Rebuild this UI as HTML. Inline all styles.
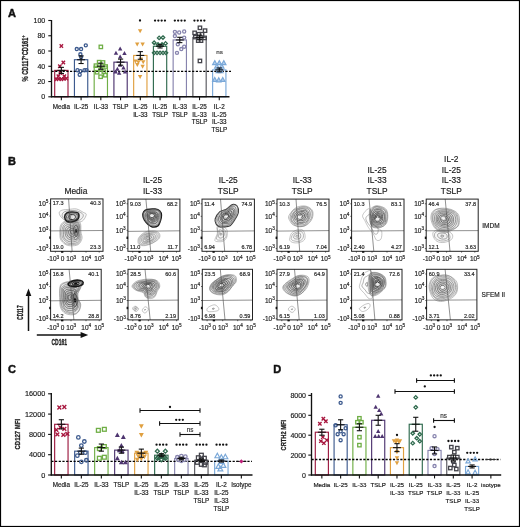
<!DOCTYPE html>
<html><head><meta charset="utf-8"><style>
html,body{margin:0;padding:0;background:#fff;}
svg{display:block;font-family:"Liberation Sans", sans-serif;will-change:transform;}
</style></head><body>
<svg width="520" height="527" viewBox="0 0 520 527">
<rect x="0" y="0" width="520" height="527" fill="#fff"/>
<text x="8.00" y="17.20" font-size="11" text-anchor="start" font-weight="bold" fill="#111" stroke="#111" stroke-width="0.45">A</text>
<text x="8.00" y="165.20" font-size="11" text-anchor="start" font-weight="bold" fill="#111" stroke="#111" stroke-width="0.45">B</text>
<text x="8.00" y="372.80" font-size="11" text-anchor="start" font-weight="bold" fill="#111" stroke="#111" stroke-width="0.45">C</text>
<text x="273.30" y="372.80" font-size="11" text-anchor="start" font-weight="bold" fill="#111" stroke="#111" stroke-width="0.45">D</text>
<rect x="54.70" y="70.40" width="13.30" height="26.40" fill="#fff" stroke="#9c1a40" stroke-width="1.15"/>
<rect x="74.44" y="59.72" width="13.30" height="37.08" fill="#fff" stroke="#3d5a8e" stroke-width="1.15"/>
<rect x="94.18" y="66.20" width="13.30" height="30.60" fill="#fff" stroke="#6fae45" stroke-width="1.15"/>
<rect x="113.92" y="62.16" width="13.30" height="34.64" fill="#fff" stroke="#4e3570" stroke-width="1.15"/>
<rect x="133.66" y="55.45" width="13.30" height="41.35" fill="#fff" stroke="#e0a040" stroke-width="1.15"/>
<rect x="153.40" y="46.29" width="13.30" height="50.51" fill="#fff" stroke="#2f6a4e" stroke-width="1.15"/>
<rect x="173.14" y="39.96" width="13.30" height="56.84" fill="#fff" stroke="#8784ae" stroke-width="1.15"/>
<rect x="192.88" y="37.44" width="13.30" height="59.36" fill="#fff" stroke="#58585e" stroke-width="1.15"/>
<rect x="212.62" y="69.87" width="13.30" height="26.93" fill="#fff" stroke="#7aa8d8" stroke-width="1.15"/>
<line x1="51.50" y1="71.32" x2="231.00" y2="71.32" stroke="#000" stroke-width="1.35" stroke-dasharray="2.2 1.5"/>
<path d="M59.65 44.28L63.05 47.68M63.05 44.28L59.65 47.68" stroke="#a8173f" stroke-width="1.3499999999999999" fill="none"/>
<path d="M61.65 60.76L65.05 64.16M65.05 60.76L61.65 64.16" stroke="#a8173f" stroke-width="1.3499999999999999" fill="none"/>
<path d="M58.15 64.58L61.55 67.98M61.55 64.58L58.15 67.98" stroke="#a8173f" stroke-width="1.3499999999999999" fill="none"/>
<path d="M54.65 77.55L58.05 80.95M58.05 77.55L54.65 80.95" stroke="#a8173f" stroke-width="1.3499999999999999" fill="none"/>
<path d="M57.15 77.17L60.55 80.57M60.55 77.17L57.15 80.57" stroke="#a8173f" stroke-width="1.3499999999999999" fill="none"/>
<path d="M59.65 77.55L63.05 80.95M63.05 77.55L59.65 80.95" stroke="#a8173f" stroke-width="1.3499999999999999" fill="none"/>
<path d="M62.15 77.17L65.55 80.57M65.55 77.17L62.15 80.57" stroke="#a8173f" stroke-width="1.3499999999999999" fill="none"/>
<path d="M64.65 76.79L68.05 80.19M68.05 76.79L64.65 80.19" stroke="#a8173f" stroke-width="1.3499999999999999" fill="none"/>
<path d="M56.65 74.50L60.05 77.90M60.05 74.50L56.65 77.90" stroke="#a8173f" stroke-width="1.3499999999999999" fill="none"/>
<path d="M62.65 74.50L66.05 77.90M66.05 74.50L62.65 77.90" stroke="#a8173f" stroke-width="1.3499999999999999" fill="none"/>
<path d="M58.65 71.45L62.05 74.85M62.05 71.45L58.65 74.85" stroke="#a8173f" stroke-width="1.3499999999999999" fill="none"/>
<circle cx="76.79" cy="49.04" r="1.56" stroke="#3d5a8e" stroke-width="1.2999999999999998" fill="none"/>
<circle cx="81.09" cy="49.04" r="1.56" stroke="#3d5a8e" stroke-width="1.2999999999999998" fill="none"/>
<circle cx="85.79" cy="45.37" r="1.56" stroke="#3d5a8e" stroke-width="1.2999999999999998" fill="none"/>
<circle cx="80.39" cy="54.30" r="1.56" stroke="#3d5a8e" stroke-width="1.2999999999999998" fill="none"/>
<circle cx="81.09" cy="57.12" r="1.56" stroke="#3d5a8e" stroke-width="1.2999999999999998" fill="none"/>
<circle cx="77.49" cy="70.17" r="1.56" stroke="#3d5a8e" stroke-width="1.2999999999999998" fill="none"/>
<circle cx="80.49" cy="71.16" r="1.56" stroke="#3d5a8e" stroke-width="1.2999999999999998" fill="none"/>
<circle cx="84.49" cy="70.17" r="1.56" stroke="#3d5a8e" stroke-width="1.2999999999999998" fill="none"/>
<circle cx="86.49" cy="70.09" r="1.56" stroke="#3d5a8e" stroke-width="1.2999999999999998" fill="none"/>
<circle cx="79.69" cy="74.67" r="1.56" stroke="#3d5a8e" stroke-width="1.2999999999999998" fill="none"/>
<rect x="99.13" y="45.20" width="3.40" height="3.40" stroke="#6fae45" stroke-width="1.2999999999999998" fill="none"/>
<rect x="97.43" y="60.46" width="3.40" height="3.40" stroke="#6fae45" stroke-width="1.2999999999999998" fill="none"/>
<rect x="101.33" y="60.76" width="3.40" height="3.40" stroke="#6fae45" stroke-width="1.2999999999999998" fill="none"/>
<rect x="94.23" y="63.97" width="3.40" height="3.40" stroke="#6fae45" stroke-width="1.2999999999999998" fill="none"/>
<rect x="103.93" y="64.81" width="3.40" height="3.40" stroke="#6fae45" stroke-width="1.2999999999999998" fill="none"/>
<rect x="95.43" y="70.53" width="3.40" height="3.40" stroke="#6fae45" stroke-width="1.2999999999999998" fill="none"/>
<rect x="103.63" y="73.51" width="3.40" height="3.40" stroke="#6fae45" stroke-width="1.2999999999999998" fill="none"/>
<rect x="98.93" y="75.03" width="3.40" height="3.40" stroke="#6fae45" stroke-width="1.2999999999999998" fill="none"/>
<rect x="99.13" y="67.63" width="3.40" height="3.40" stroke="#6fae45" stroke-width="1.2999999999999998" fill="none"/>
<rect x="102.13" y="69.92" width="3.40" height="3.40" stroke="#6fae45" stroke-width="1.2999999999999998" fill="none"/>
<path d="M120.17 46.61L122.37 50.61L117.97 50.61Z" fill="#4e3570"/>
<path d="M115.97 50.65L118.17 54.65L113.77 54.65Z" fill="#4e3570"/>
<path d="M124.47 51.03L126.67 55.03L122.27 55.03Z" fill="#4e3570"/>
<path d="M120.17 54.47L122.37 58.47L117.97 58.47Z" fill="#4e3570"/>
<path d="M117.37 66.83L119.57 70.83L115.17 70.83Z" fill="#4e3570"/>
<path d="M123.47 65.61L125.67 69.61L121.27 69.61Z" fill="#4e3570"/>
<path d="M119.17 70.64L121.37 74.64L116.97 74.64Z" fill="#4e3570"/>
<path d="M120.17 62.78L122.37 66.78L117.97 66.78Z" fill="#4e3570"/>
<path d="M125.07 69.42L127.27 73.42L122.87 73.42Z" fill="#4e3570"/>
<path d="M115.57 69.42L117.77 73.42L113.37 73.42Z" fill="#4e3570"/>
<path d="M140.11 33.15L142.31 29.15L137.91 29.15Z" fill="#e0a040"/>
<path d="M137.21 46.51L139.41 42.51L135.01 42.51Z" fill="#e0a040"/>
<path d="M142.61 46.51L144.81 42.51L140.41 42.51Z" fill="#e0a040"/>
<path d="M135.51 63.60L137.71 59.60L133.31 59.60Z" fill="#e0a040"/>
<path d="M138.41 64.28L140.61 60.28L136.21 60.28Z" fill="#e0a040"/>
<path d="M143.21 64.28L145.41 60.28L141.01 60.28Z" fill="#e0a040"/>
<path d="M142.61 68.86L144.81 64.86L140.41 64.86Z" fill="#e0a040"/>
<path d="M140.11 78.93L142.31 74.93L137.91 74.93Z" fill="#e0a040"/>
<path d="M137.31 66.95L139.51 62.95L135.11 62.95Z" fill="#e0a040"/>
<path d="M140.81 61.61L143.01 57.61L138.61 57.61Z" fill="#e0a040"/>
<path d="M159.15 36.14L160.91 37.90L159.15 39.66L157.39 37.90Z" stroke="#2f6a4e" stroke-width="1.2999999999999998" fill="none"/>
<path d="M162.95 35.83L164.71 37.59L162.95 39.35L161.19 37.59Z" stroke="#2f6a4e" stroke-width="1.2999999999999998" fill="none"/>
<path d="M154.15 41.02L155.91 42.78L154.15 44.54L152.39 42.78Z" stroke="#2f6a4e" stroke-width="1.2999999999999998" fill="none"/>
<path d="M165.55 41.63L167.31 43.39L165.55 45.15L163.79 43.39Z" stroke="#2f6a4e" stroke-width="1.2999999999999998" fill="none"/>
<path d="M158.05 42.77L159.81 44.53L158.05 46.29L156.29 44.53Z" stroke="#2f6a4e" stroke-width="1.2999999999999998" fill="none"/>
<path d="M162.05 42.77L163.81 44.53L162.05 46.29L160.29 44.53Z" stroke="#2f6a4e" stroke-width="1.2999999999999998" fill="none"/>
<path d="M154.15 51.09L155.91 52.85L154.15 54.61L152.39 52.85Z" stroke="#2f6a4e" stroke-width="1.2999999999999998" fill="none"/>
<path d="M157.05 51.09L158.81 52.85L157.05 54.61L155.29 52.85Z" stroke="#2f6a4e" stroke-width="1.2999999999999998" fill="none"/>
<path d="M160.05 51.09L161.81 52.85L160.05 54.61L158.29 52.85Z" stroke="#2f6a4e" stroke-width="1.2999999999999998" fill="none"/>
<path d="M163.05 51.09L164.81 52.85L163.05 54.61L161.29 52.85Z" stroke="#2f6a4e" stroke-width="1.2999999999999998" fill="none"/>
<path d="M165.95 51.09L167.71 52.85L165.95 54.61L164.19 52.85Z" stroke="#2f6a4e" stroke-width="1.2999999999999998" fill="none"/>
<circle cx="174.89" cy="31.87" r="1.56" stroke="#8784ae" stroke-width="1.2999999999999998" fill="none"/>
<circle cx="179.19" cy="32.48" r="1.56" stroke="#8784ae" stroke-width="1.2999999999999998" fill="none"/>
<circle cx="184.19" cy="31.49" r="1.56" stroke="#8784ae" stroke-width="1.2999999999999998" fill="none"/>
<circle cx="174.89" cy="36.07" r="1.56" stroke="#8784ae" stroke-width="1.2999999999999998" fill="none"/>
<circle cx="184.19" cy="37.59" r="1.56" stroke="#8784ae" stroke-width="1.2999999999999998" fill="none"/>
<circle cx="177.79" cy="44.31" r="1.56" stroke="#8784ae" stroke-width="1.2999999999999998" fill="none"/>
<circle cx="181.29" cy="49.04" r="1.56" stroke="#8784ae" stroke-width="1.2999999999999998" fill="none"/>
<circle cx="184.19" cy="46.67" r="1.56" stroke="#8784ae" stroke-width="1.2999999999999998" fill="none"/>
<circle cx="176.99" cy="52.85" r="1.56" stroke="#8784ae" stroke-width="1.2999999999999998" fill="none"/>
<rect x="198.23" y="26.12" width="3.40" height="3.40" stroke="#44444b" stroke-width="1.2999999999999998" fill="none"/>
<rect x="203.33" y="28.95" width="3.40" height="3.40" stroke="#44444b" stroke-width="1.2999999999999998" fill="none"/>
<rect x="192.93" y="31.16" width="3.40" height="3.40" stroke="#44444b" stroke-width="1.2999999999999998" fill="none"/>
<rect x="197.23" y="32.53" width="3.40" height="3.40" stroke="#44444b" stroke-width="1.2999999999999998" fill="none"/>
<rect x="200.33" y="32.53" width="3.40" height="3.40" stroke="#44444b" stroke-width="1.2999999999999998" fill="none"/>
<rect x="193.63" y="35.36" width="3.40" height="3.40" stroke="#44444b" stroke-width="1.2999999999999998" fill="none"/>
<rect x="202.93" y="36.20" width="3.40" height="3.40" stroke="#44444b" stroke-width="1.2999999999999998" fill="none"/>
<rect x="196.53" y="38.94" width="3.40" height="3.40" stroke="#44444b" stroke-width="1.2999999999999998" fill="none"/>
<rect x="199.33" y="38.94" width="3.40" height="3.40" stroke="#44444b" stroke-width="1.2999999999999998" fill="none"/>
<rect x="198.23" y="59.24" width="3.40" height="3.40" stroke="#44444b" stroke-width="1.2999999999999998" fill="none"/>
<path d="M214.77 60.65L216.97 64.65L212.57 64.65Z" stroke="#7aa8d8" stroke-width="1.15" fill="#b9d2ee"/>
<path d="M219.27 60.65L221.47 64.65L217.07 64.65Z" stroke="#7aa8d8" stroke-width="1.15" fill="#b9d2ee"/>
<path d="M223.77 60.65L225.97 64.65L221.57 64.65Z" stroke="#7aa8d8" stroke-width="1.15" fill="#b9d2ee"/>
<path d="M216.77 64.08L218.97 68.08L214.57 68.08Z" stroke="#7aa8d8" stroke-width="1.15" fill="#b9d2ee"/>
<path d="M221.77 64.08L223.97 68.08L219.57 68.08Z" stroke="#7aa8d8" stroke-width="1.15" fill="#b9d2ee"/>
<path d="M214.77 77.43L216.97 81.43L212.57 81.43Z" stroke="#7aa8d8" stroke-width="1.15" fill="#b9d2ee"/>
<path d="M218.77 77.81L220.97 81.81L216.57 81.81Z" stroke="#7aa8d8" stroke-width="1.15" fill="#b9d2ee"/>
<path d="M222.77 77.43L224.97 81.43L220.57 81.43Z" stroke="#7aa8d8" stroke-width="1.15" fill="#b9d2ee"/>
<path d="M218.27 68.66L220.47 72.66L216.07 72.66Z" stroke="#7aa8d8" stroke-width="1.15" fill="#b9d2ee"/>
<path d="M220.77 68.66L222.97 72.66L218.57 72.66Z" stroke="#7aa8d8" stroke-width="1.15" fill="#b9d2ee"/>
<line x1="61.35" y1="67.35" x2="61.35" y2="73.45" stroke="#111" stroke-width="1.1" />
<line x1="58.75" y1="67.35" x2="63.95" y2="67.35" stroke="#111" stroke-width="1.1" />
<line x1="58.75" y1="73.45" x2="63.95" y2="73.45" stroke="#111" stroke-width="1.1" />
<line x1="57.35" y1="70.40" x2="65.35" y2="70.40" stroke="#111" stroke-width="1.1" />
<line x1="81.09" y1="55.90" x2="81.09" y2="63.53" stroke="#111" stroke-width="1.1" />
<line x1="78.49" y1="55.90" x2="83.69" y2="55.90" stroke="#111" stroke-width="1.1" />
<line x1="78.49" y1="63.53" x2="83.69" y2="63.53" stroke="#111" stroke-width="1.1" />
<line x1="77.09" y1="59.72" x2="85.09" y2="59.72" stroke="#111" stroke-width="1.1" />
<line x1="100.83" y1="63.15" x2="100.83" y2="69.26" stroke="#111" stroke-width="1.1" />
<line x1="98.23" y1="63.15" x2="103.43" y2="63.15" stroke="#111" stroke-width="1.1" />
<line x1="98.23" y1="69.26" x2="103.43" y2="69.26" stroke="#111" stroke-width="1.1" />
<line x1="96.83" y1="66.20" x2="104.83" y2="66.20" stroke="#111" stroke-width="1.1" />
<line x1="120.57" y1="59.11" x2="120.57" y2="65.21" stroke="#111" stroke-width="1.1" />
<line x1="117.97" y1="59.11" x2="123.17" y2="59.11" stroke="#111" stroke-width="1.1" />
<line x1="117.97" y1="65.21" x2="123.17" y2="65.21" stroke="#111" stroke-width="1.1" />
<line x1="116.57" y1="62.16" x2="124.57" y2="62.16" stroke="#111" stroke-width="1.1" />
<line x1="140.31" y1="51.63" x2="140.31" y2="59.26" stroke="#111" stroke-width="1.1" />
<line x1="137.71" y1="51.63" x2="142.91" y2="51.63" stroke="#111" stroke-width="1.1" />
<line x1="137.71" y1="59.26" x2="142.91" y2="59.26" stroke="#111" stroke-width="1.1" />
<line x1="136.31" y1="55.45" x2="144.31" y2="55.45" stroke="#111" stroke-width="1.1" />
<line x1="160.05" y1="44.61" x2="160.05" y2="47.97" stroke="#111" stroke-width="1.1" />
<line x1="157.45" y1="44.61" x2="162.65" y2="44.61" stroke="#111" stroke-width="1.1" />
<line x1="157.45" y1="47.97" x2="162.65" y2="47.97" stroke="#111" stroke-width="1.1" />
<line x1="156.05" y1="46.29" x2="164.05" y2="46.29" stroke="#111" stroke-width="1.1" />
<line x1="179.79" y1="37.29" x2="179.79" y2="42.63" stroke="#111" stroke-width="1.1" />
<line x1="177.19" y1="37.29" x2="182.39" y2="37.29" stroke="#111" stroke-width="1.1" />
<line x1="177.19" y1="42.63" x2="182.39" y2="42.63" stroke="#111" stroke-width="1.1" />
<line x1="175.79" y1="39.96" x2="183.79" y2="39.96" stroke="#111" stroke-width="1.1" />
<line x1="199.53" y1="35.15" x2="199.53" y2="39.73" stroke="#111" stroke-width="1.1" />
<line x1="196.93" y1="35.15" x2="202.13" y2="35.15" stroke="#111" stroke-width="1.1" />
<line x1="196.93" y1="39.73" x2="202.13" y2="39.73" stroke="#111" stroke-width="1.1" />
<line x1="195.53" y1="37.44" x2="203.53" y2="37.44" stroke="#111" stroke-width="1.1" />
<line x1="219.27" y1="67.96" x2="219.27" y2="71.77" stroke="#111" stroke-width="1.1" />
<line x1="216.67" y1="67.96" x2="221.87" y2="67.96" stroke="#111" stroke-width="1.1" />
<line x1="216.67" y1="71.77" x2="221.87" y2="71.77" stroke="#111" stroke-width="1.1" />
<line x1="215.27" y1="69.87" x2="223.27" y2="69.87" stroke="#111" stroke-width="1.1" />
<line x1="51.50" y1="20.00" x2="51.50" y2="97.30" stroke="#111" stroke-width="1.35" />
<line x1="50.90" y1="96.80" x2="229.50" y2="96.80" stroke="#111" stroke-width="1.45" />
<line x1="48.30" y1="96.80" x2="51.50" y2="96.80" stroke="#111" stroke-width="1.1" />
<text x="45.20" y="99.30" font-size="7.0" text-anchor="end" font-weight="normal" fill="#1a1a1a"  stroke="#1a1a1a" stroke-width="0.16">0</text>
<line x1="48.30" y1="81.54" x2="51.50" y2="81.54" stroke="#111" stroke-width="1.1" />
<text x="45.20" y="84.04" font-size="7.0" text-anchor="end" font-weight="normal" fill="#1a1a1a"  stroke="#1a1a1a" stroke-width="0.16">20</text>
<line x1="48.30" y1="66.28" x2="51.50" y2="66.28" stroke="#111" stroke-width="1.1" />
<text x="45.20" y="68.78" font-size="7.0" text-anchor="end" font-weight="normal" fill="#1a1a1a"  stroke="#1a1a1a" stroke-width="0.16">40</text>
<line x1="48.30" y1="51.02" x2="51.50" y2="51.02" stroke="#111" stroke-width="1.1" />
<text x="45.20" y="53.52" font-size="7.0" text-anchor="end" font-weight="normal" fill="#1a1a1a"  stroke="#1a1a1a" stroke-width="0.16">60</text>
<line x1="48.30" y1="35.76" x2="51.50" y2="35.76" stroke="#111" stroke-width="1.1" />
<text x="45.20" y="38.26" font-size="7.0" text-anchor="end" font-weight="normal" fill="#1a1a1a"  stroke="#1a1a1a" stroke-width="0.16">80</text>
<line x1="48.30" y1="20.50" x2="51.50" y2="20.50" stroke="#111" stroke-width="1.1" />
<text x="45.20" y="23.00" font-size="7.0" text-anchor="end" font-weight="normal" fill="#1a1a1a"  stroke="#1a1a1a" stroke-width="0.16">100</text>
<line x1="61.35" y1="96.80" x2="61.35" y2="100.20" stroke="#111" stroke-width="1.1" />
<text x="61.35" y="108.90" font-size="6.3" text-anchor="middle" font-weight="normal" fill="#161616"  stroke="#161616" stroke-width="0.16">Media</text>
<line x1="81.09" y1="96.80" x2="81.09" y2="100.20" stroke="#111" stroke-width="1.1" />
<text x="81.09" y="108.90" font-size="6.3" text-anchor="middle" font-weight="normal" fill="#161616"  stroke="#161616" stroke-width="0.16">IL-25</text>
<line x1="100.83" y1="96.80" x2="100.83" y2="100.20" stroke="#111" stroke-width="1.1" />
<text x="100.83" y="108.90" font-size="6.3" text-anchor="middle" font-weight="normal" fill="#161616"  stroke="#161616" stroke-width="0.16">IL-33</text>
<line x1="120.57" y1="96.80" x2="120.57" y2="100.20" stroke="#111" stroke-width="1.1" />
<text x="120.57" y="108.90" font-size="6.3" text-anchor="middle" font-weight="normal" fill="#161616"  stroke="#161616" stroke-width="0.16">TSLP</text>
<line x1="140.31" y1="96.80" x2="140.31" y2="100.20" stroke="#111" stroke-width="1.1" />
<text x="140.31" y="108.90" font-size="6.3" text-anchor="middle" font-weight="normal" fill="#161616"  stroke="#161616" stroke-width="0.16">IL-25</text>
<text x="140.31" y="116.65" font-size="6.3" text-anchor="middle" font-weight="normal" fill="#161616"  stroke="#161616" stroke-width="0.16">IL-33</text>
<line x1="160.05" y1="96.80" x2="160.05" y2="100.20" stroke="#111" stroke-width="1.1" />
<text x="160.05" y="108.90" font-size="6.3" text-anchor="middle" font-weight="normal" fill="#161616"  stroke="#161616" stroke-width="0.16">IL-25</text>
<text x="160.05" y="116.65" font-size="6.3" text-anchor="middle" font-weight="normal" fill="#161616"  stroke="#161616" stroke-width="0.16">TSLP</text>
<line x1="179.79" y1="96.80" x2="179.79" y2="100.20" stroke="#111" stroke-width="1.1" />
<text x="179.79" y="108.90" font-size="6.3" text-anchor="middle" font-weight="normal" fill="#161616"  stroke="#161616" stroke-width="0.16">IL-33</text>
<text x="179.79" y="116.65" font-size="6.3" text-anchor="middle" font-weight="normal" fill="#161616"  stroke="#161616" stroke-width="0.16">TSLP</text>
<line x1="199.53" y1="96.80" x2="199.53" y2="100.20" stroke="#111" stroke-width="1.1" />
<text x="199.53" y="108.90" font-size="6.3" text-anchor="middle" font-weight="normal" fill="#161616"  stroke="#161616" stroke-width="0.16">IL-25</text>
<text x="199.53" y="116.65" font-size="6.3" text-anchor="middle" font-weight="normal" fill="#161616"  stroke="#161616" stroke-width="0.16">IL-33</text>
<text x="199.53" y="124.40" font-size="6.3" text-anchor="middle" font-weight="normal" fill="#161616"  stroke="#161616" stroke-width="0.16">TSLP</text>
<line x1="219.27" y1="96.80" x2="219.27" y2="100.20" stroke="#111" stroke-width="1.1" />
<text x="219.27" y="108.90" font-size="6.3" text-anchor="middle" font-weight="normal" fill="#161616"  stroke="#161616" stroke-width="0.16">IL-2</text>
<text x="219.27" y="116.65" font-size="6.3" text-anchor="middle" font-weight="normal" fill="#161616"  stroke="#161616" stroke-width="0.16">IL-25</text>
<text x="219.27" y="124.40" font-size="6.3" text-anchor="middle" font-weight="normal" fill="#161616"  stroke="#161616" stroke-width="0.16">IL-33</text>
<text x="219.27" y="132.15" font-size="6.3" text-anchor="middle" font-weight="normal" fill="#161616"  stroke="#161616" stroke-width="0.16">TSLP</text>
<circle cx="140.00" cy="20.50" r="1.15" fill="#111"/>
<circle cx="155.05" cy="20.60" r="1.15" fill="#111"/>
<circle cx="158.35" cy="20.60" r="1.15" fill="#111"/>
<circle cx="161.65" cy="20.60" r="1.15" fill="#111"/>
<circle cx="164.95" cy="20.60" r="1.15" fill="#111"/>
<circle cx="174.85" cy="20.60" r="1.15" fill="#111"/>
<circle cx="178.15" cy="20.60" r="1.15" fill="#111"/>
<circle cx="181.45" cy="20.60" r="1.15" fill="#111"/>
<circle cx="184.75" cy="20.60" r="1.15" fill="#111"/>
<circle cx="194.45" cy="20.60" r="1.15" fill="#111"/>
<circle cx="197.75" cy="20.60" r="1.15" fill="#111"/>
<circle cx="201.05" cy="20.60" r="1.15" fill="#111"/>
<circle cx="204.35" cy="20.60" r="1.15" fill="#111"/>
<text x="219.60" y="54.00" font-size="6.2" text-anchor="middle" font-weight="normal" fill="#333"  stroke="#333" stroke-width="0.16">ns</text>
<text transform="translate(28.4 58.4) rotate(-90)" font-size="9.2" text-anchor="middle" font-weight="bold" fill="#222" stroke="#222" stroke-width="0.3" textLength="46" lengthAdjust="spacingAndGlyphs">% CD117<tspan font-size="6" dy="-3">+</tspan><tspan dy="3">CD161</tspan><tspan font-size="6" dy="-3">+</tspan></text>
<rect x="54.65" y="424.30" width="13.40" height="50.70" fill="#fff" stroke="#9c1a40" stroke-width="1.15"/>
<rect x="74.65" y="451.15" width="13.40" height="23.85" fill="#fff" stroke="#3d5a8e" stroke-width="1.15"/>
<rect x="94.65" y="447.60" width="13.40" height="27.40" fill="#fff" stroke="#6fae45" stroke-width="1.15"/>
<rect x="114.65" y="450.13" width="13.40" height="24.87" fill="#fff" stroke="#4e3570" stroke-width="1.15"/>
<rect x="134.65" y="453.18" width="13.40" height="21.82" fill="#fff" stroke="#e0a040" stroke-width="1.15"/>
<rect x="154.65" y="455.21" width="13.40" height="19.79" fill="#fff" stroke="#2f6a4e" stroke-width="1.15"/>
<rect x="174.65" y="458.51" width="13.40" height="16.49" fill="#fff" stroke="#8784ae" stroke-width="1.15"/>
<rect x="194.65" y="460.28" width="13.40" height="14.72" fill="#fff" stroke="#58585e" stroke-width="1.15"/>
<rect x="214.65" y="461.04" width="13.40" height="13.96" fill="#fff" stroke="#7aa8d8" stroke-width="1.15"/>
<line x1="51.30" y1="461.40" x2="252.00" y2="461.40" stroke="#000" stroke-width="1.35" stroke-dasharray="2.2 1.5"/>
<path d="M57.44 405.59L61.26 409.42M61.26 405.59L57.44 409.42" stroke="#a8173f" stroke-width="1.3499999999999999" fill="none"/>
<path d="M62.44 405.08L66.26 408.91M66.26 405.08L62.44 408.91" stroke="#a8173f" stroke-width="1.3499999999999999" fill="none"/>
<path d="M58.44 425.38L62.26 429.21M62.26 425.38L58.44 429.21" stroke="#a8173f" stroke-width="1.3499999999999999" fill="none"/>
<path d="M62.44 426.90L66.26 430.73M66.26 426.90L62.44 430.73" stroke="#a8173f" stroke-width="1.3499999999999999" fill="none"/>
<path d="M54.44 427.92L58.26 431.75M58.26 427.92L54.44 431.75" stroke="#a8173f" stroke-width="1.3499999999999999" fill="none"/>
<path d="M55.44 432.49L59.26 436.31M59.26 432.49L55.44 436.31" stroke="#a8173f" stroke-width="1.3499999999999999" fill="none"/>
<path d="M61.44 433.00L65.26 436.82M65.26 433.00L61.44 436.82" stroke="#a8173f" stroke-width="1.3499999999999999" fill="none"/>
<path d="M65.44 431.98L69.26 435.81M69.26 431.98L65.44 435.81" stroke="#a8173f" stroke-width="1.3499999999999999" fill="none"/>
<circle cx="78.35" cy="437.44" r="1.76" stroke="#3d5a8e" stroke-width="1.2999999999999998" fill="none"/>
<circle cx="84.35" cy="441.50" r="1.76" stroke="#3d5a8e" stroke-width="1.2999999999999998" fill="none"/>
<circle cx="81.35" cy="445.56" r="1.76" stroke="#3d5a8e" stroke-width="1.2999999999999998" fill="none"/>
<circle cx="77.35" cy="455.71" r="1.76" stroke="#3d5a8e" stroke-width="1.2999999999999998" fill="none"/>
<circle cx="80.35" cy="452.67" r="1.76" stroke="#3d5a8e" stroke-width="1.2999999999999998" fill="none"/>
<circle cx="85.35" cy="452.67" r="1.76" stroke="#3d5a8e" stroke-width="1.2999999999999998" fill="none"/>
<circle cx="81.35" cy="461.81" r="1.76" stroke="#3d5a8e" stroke-width="1.2999999999999998" fill="none"/>
<circle cx="86.35" cy="460.28" r="1.76" stroke="#3d5a8e" stroke-width="1.2999999999999998" fill="none"/>
<rect x="96.44" y="428.43" width="3.82" height="3.82" stroke="#6fae45" stroke-width="1.2999999999999998" fill="none"/>
<rect x="102.44" y="427.41" width="3.82" height="3.82" stroke="#6fae45" stroke-width="1.2999999999999998" fill="none"/>
<rect x="97.44" y="446.70" width="3.82" height="3.82" stroke="#6fae45" stroke-width="1.2999999999999998" fill="none"/>
<rect x="102.44" y="444.67" width="3.82" height="3.82" stroke="#6fae45" stroke-width="1.2999999999999998" fill="none"/>
<rect x="97.44" y="456.34" width="3.82" height="3.82" stroke="#6fae45" stroke-width="1.2999999999999998" fill="none"/>
<rect x="102.44" y="455.32" width="3.82" height="3.82" stroke="#6fae45" stroke-width="1.2999999999999998" fill="none"/>
<path d="M117.35 432.43L119.82 436.93L114.88 436.93Z" fill="#4e3570"/>
<path d="M123.35 434.46L125.82 438.96L120.88 438.96Z" fill="#4e3570"/>
<path d="M121.35 443.09L123.82 447.59L118.88 447.59Z" fill="#4e3570"/>
<path d="M122.35 448.67L124.82 453.17L119.88 453.17Z" fill="#4e3570"/>
<path d="M117.35 455.78L119.82 460.28L114.88 460.28Z" fill="#4e3570"/>
<path d="M121.35 459.84L123.82 464.34L118.88 464.34Z" fill="#4e3570"/>
<path d="M125.35 459.84L127.82 464.34L122.88 464.34Z" fill="#4e3570"/>
<path d="M119.35 447.66L121.82 452.16L116.88 452.16Z" fill="#4e3570"/>
<path d="M141.35 428.75L143.82 424.25L138.88 424.25Z" fill="#e0a040"/>
<path d="M141.35 437.38L143.82 432.88L138.88 432.88Z" fill="#e0a040"/>
<path d="M136.85 455.15L139.32 450.65L134.38 450.65Z" fill="#e0a040"/>
<path d="M145.85 455.15L148.32 450.65L143.38 450.65Z" fill="#e0a040"/>
<path d="M139.85 456.16L142.32 451.66L137.38 451.66Z" fill="#e0a040"/>
<path d="M142.85 456.16L145.32 451.66L140.38 451.66Z" fill="#e0a040"/>
<path d="M138.35 458.70L140.82 454.20L135.88 454.20Z" fill="#e0a040"/>
<path d="M144.35 459.21L146.82 454.71L141.88 454.71Z" fill="#e0a040"/>
<path d="M141.35 461.24L143.82 456.74L138.88 456.74Z" fill="#e0a040"/>
<path d="M137.35 462.25L139.82 457.75L134.88 457.75Z" fill="#e0a040"/>
<path d="M157.35 449.17L159.33 451.15L157.35 453.13L155.37 451.15Z" stroke="#2f6a4e" stroke-width="1.2999999999999998" fill="none"/>
<path d="M165.35 449.17L167.33 451.15L165.35 453.13L163.37 451.15Z" stroke="#2f6a4e" stroke-width="1.2999999999999998" fill="none"/>
<path d="M161.35 453.23L163.33 455.21L161.35 457.19L159.37 455.21Z" stroke="#2f6a4e" stroke-width="1.2999999999999998" fill="none"/>
<path d="M158.35 455.26L160.33 457.24L158.35 459.22L156.37 457.24Z" stroke="#2f6a4e" stroke-width="1.2999999999999998" fill="none"/>
<path d="M164.35 455.26L166.33 457.24L164.35 459.22L162.37 457.24Z" stroke="#2f6a4e" stroke-width="1.2999999999999998" fill="none"/>
<path d="M161.35 457.79L163.33 459.77L161.35 461.75L159.37 459.77Z" stroke="#2f6a4e" stroke-width="1.2999999999999998" fill="none"/>
<path d="M157.35 456.27L159.33 458.25L157.35 460.23L155.37 458.25Z" stroke="#2f6a4e" stroke-width="1.2999999999999998" fill="none"/>
<path d="M165.35 456.27L167.33 458.25L165.35 460.23L163.37 458.25Z" stroke="#2f6a4e" stroke-width="1.2999999999999998" fill="none"/>
<circle cx="177.35" cy="457.24" r="1.76" stroke="#8784ae" stroke-width="1.2999999999999998" fill="none"/>
<circle cx="181.35" cy="456.22" r="1.76" stroke="#8784ae" stroke-width="1.2999999999999998" fill="none"/>
<circle cx="185.35" cy="456.73" r="1.76" stroke="#8784ae" stroke-width="1.2999999999999998" fill="none"/>
<circle cx="178.35" cy="459.77" r="1.76" stroke="#8784ae" stroke-width="1.2999999999999998" fill="none"/>
<circle cx="184.35" cy="459.77" r="1.76" stroke="#8784ae" stroke-width="1.2999999999999998" fill="none"/>
<circle cx="181.35" cy="460.79" r="1.76" stroke="#8784ae" stroke-width="1.2999999999999998" fill="none"/>
<rect x="199.44" y="453.29" width="3.82" height="3.82" stroke="#44444b" stroke-width="1.2999999999999998" fill="none"/>
<rect x="196.44" y="455.83" width="3.82" height="3.82" stroke="#44444b" stroke-width="1.2999999999999998" fill="none"/>
<rect x="202.44" y="456.34" width="3.82" height="3.82" stroke="#44444b" stroke-width="1.2999999999999998" fill="none"/>
<rect x="199.44" y="457.86" width="3.82" height="3.82" stroke="#44444b" stroke-width="1.2999999999999998" fill="none"/>
<rect x="195.44" y="460.40" width="3.82" height="3.82" stroke="#44444b" stroke-width="1.2999999999999998" fill="none"/>
<rect x="203.44" y="460.40" width="3.82" height="3.82" stroke="#44444b" stroke-width="1.2999999999999998" fill="none"/>
<rect x="199.44" y="462.43" width="3.82" height="3.82" stroke="#44444b" stroke-width="1.2999999999999998" fill="none"/>
<rect x="202.44" y="462.94" width="3.82" height="3.82" stroke="#44444b" stroke-width="1.2999999999999998" fill="none"/>
<path d="M217.35 453.24L219.82 457.74L214.88 457.74Z" stroke="#7aa8d8" stroke-width="1.15" fill="none"/>
<path d="M221.35 454.76L223.82 459.26L218.88 459.26Z" stroke="#7aa8d8" stroke-width="1.15" fill="none"/>
<path d="M225.35 454.25L227.82 458.75L222.88 458.75Z" stroke="#7aa8d8" stroke-width="1.15" fill="none"/>
<path d="M221.35 458.82L223.82 463.32L218.88 463.32Z" stroke="#7aa8d8" stroke-width="1.15" fill="none"/>
<path d="M218.35 463.90L220.82 468.40L215.88 468.40Z" stroke="#7aa8d8" stroke-width="1.15" fill="none"/>
<path d="M223.35 462.88L225.82 467.38L220.88 467.38Z" stroke="#7aa8d8" stroke-width="1.15" fill="none"/>
<path d="M220.35 466.44L222.82 470.94L217.88 470.94Z" stroke="#7aa8d8" stroke-width="1.15" fill="none"/>
<line x1="236.35" y1="461.40" x2="246.35" y2="461.40" stroke="#111" stroke-width="1" />
<path d="M241.35 459.31L243.44 461.40L241.35 463.49L239.26 461.40Z" fill="#c0207a"/>
<line x1="61.35" y1="419.73" x2="61.35" y2="428.87" stroke="#111" stroke-width="1.1" />
<line x1="58.75" y1="419.73" x2="63.95" y2="419.73" stroke="#111" stroke-width="1.1" />
<line x1="58.75" y1="428.87" x2="63.95" y2="428.87" stroke="#111" stroke-width="1.1" />
<line x1="57.35" y1="424.30" x2="65.35" y2="424.30" stroke="#111" stroke-width="1.1" />
<line x1="81.35" y1="448.10" x2="81.35" y2="454.19" stroke="#111" stroke-width="1.1" />
<line x1="78.75" y1="448.10" x2="83.95" y2="448.10" stroke="#111" stroke-width="1.1" />
<line x1="78.75" y1="454.19" x2="83.95" y2="454.19" stroke="#111" stroke-width="1.1" />
<line x1="77.35" y1="451.15" x2="85.35" y2="451.15" stroke="#111" stroke-width="1.1" />
<line x1="101.35" y1="444.04" x2="101.35" y2="451.15" stroke="#111" stroke-width="1.1" />
<line x1="98.75" y1="444.04" x2="103.95" y2="444.04" stroke="#111" stroke-width="1.1" />
<line x1="98.75" y1="451.15" x2="103.95" y2="451.15" stroke="#111" stroke-width="1.1" />
<line x1="97.35" y1="447.60" x2="105.35" y2="447.60" stroke="#111" stroke-width="1.1" />
<line x1="121.35" y1="447.09" x2="121.35" y2="453.18" stroke="#111" stroke-width="1.1" />
<line x1="118.75" y1="447.09" x2="123.95" y2="447.09" stroke="#111" stroke-width="1.1" />
<line x1="118.75" y1="453.18" x2="123.95" y2="453.18" stroke="#111" stroke-width="1.1" />
<line x1="117.35" y1="450.13" x2="125.35" y2="450.13" stroke="#111" stroke-width="1.1" />
<line x1="141.35" y1="449.12" x2="141.35" y2="457.24" stroke="#111" stroke-width="1.1" />
<line x1="138.75" y1="449.12" x2="143.95" y2="449.12" stroke="#111" stroke-width="1.1" />
<line x1="138.75" y1="457.24" x2="143.95" y2="457.24" stroke="#111" stroke-width="1.1" />
<line x1="137.35" y1="453.18" x2="145.35" y2="453.18" stroke="#111" stroke-width="1.1" />
<line x1="161.35" y1="453.69" x2="161.35" y2="456.73" stroke="#111" stroke-width="1.1" />
<line x1="158.75" y1="453.69" x2="163.95" y2="453.69" stroke="#111" stroke-width="1.1" />
<line x1="158.75" y1="456.73" x2="163.95" y2="456.73" stroke="#111" stroke-width="1.1" />
<line x1="157.35" y1="455.21" x2="165.35" y2="455.21" stroke="#111" stroke-width="1.1" />
<line x1="181.35" y1="457.24" x2="181.35" y2="459.77" stroke="#111" stroke-width="1.1" />
<line x1="178.75" y1="457.24" x2="183.95" y2="457.24" stroke="#111" stroke-width="1.1" />
<line x1="178.75" y1="459.77" x2="183.95" y2="459.77" stroke="#111" stroke-width="1.1" />
<line x1="177.35" y1="458.51" x2="185.35" y2="458.51" stroke="#111" stroke-width="1.1" />
<line x1="201.35" y1="459.01" x2="201.35" y2="461.55" stroke="#111" stroke-width="1.1" />
<line x1="198.75" y1="459.01" x2="203.95" y2="459.01" stroke="#111" stroke-width="1.1" />
<line x1="198.75" y1="461.55" x2="203.95" y2="461.55" stroke="#111" stroke-width="1.1" />
<line x1="197.35" y1="460.28" x2="205.35" y2="460.28" stroke="#111" stroke-width="1.1" />
<line x1="221.35" y1="460.03" x2="221.35" y2="462.06" stroke="#111" stroke-width="1.1" />
<line x1="218.75" y1="460.03" x2="223.95" y2="460.03" stroke="#111" stroke-width="1.1" />
<line x1="218.75" y1="462.06" x2="223.95" y2="462.06" stroke="#111" stroke-width="1.1" />
<line x1="217.35" y1="461.04" x2="225.35" y2="461.04" stroke="#111" stroke-width="1.1" />
<line x1="51.30" y1="393.00" x2="51.30" y2="475.50" stroke="#111" stroke-width="1.35" />
<line x1="50.70" y1="475.00" x2="252.50" y2="475.00" stroke="#111" stroke-width="1.45" />
<line x1="48.10" y1="475.00" x2="51.30" y2="475.00" stroke="#111" stroke-width="1.1" />
<text x="45.30" y="477.50" font-size="7.3" text-anchor="end" font-weight="normal" fill="#1a1a1a"  stroke="#1a1a1a" stroke-width="0.16">0</text>
<line x1="48.10" y1="454.70" x2="51.30" y2="454.70" stroke="#111" stroke-width="1.1" />
<text x="45.30" y="457.20" font-size="7.3" text-anchor="end" font-weight="normal" fill="#1a1a1a"  stroke="#1a1a1a" stroke-width="0.16">4000</text>
<line x1="48.10" y1="434.40" x2="51.30" y2="434.40" stroke="#111" stroke-width="1.1" />
<text x="45.30" y="436.90" font-size="7.3" text-anchor="end" font-weight="normal" fill="#1a1a1a"  stroke="#1a1a1a" stroke-width="0.16">8000</text>
<line x1="48.10" y1="414.10" x2="51.30" y2="414.10" stroke="#111" stroke-width="1.1" />
<text x="45.30" y="416.60" font-size="7.3" text-anchor="end" font-weight="normal" fill="#1a1a1a"  stroke="#1a1a1a" stroke-width="0.16">12000</text>
<line x1="48.10" y1="393.80" x2="51.30" y2="393.80" stroke="#111" stroke-width="1.1" />
<text x="45.30" y="396.30" font-size="7.3" text-anchor="end" font-weight="normal" fill="#1a1a1a"  stroke="#1a1a1a" stroke-width="0.16">16000</text>
<line x1="61.35" y1="475.00" x2="61.35" y2="478.40" stroke="#111" stroke-width="1.1" />
<text x="61.35" y="487.40" font-size="6.3" text-anchor="middle" font-weight="normal" fill="#161616"  stroke="#161616" stroke-width="0.16">Media</text>
<line x1="81.35" y1="475.00" x2="81.35" y2="478.40" stroke="#111" stroke-width="1.1" />
<text x="81.35" y="487.40" font-size="6.3" text-anchor="middle" font-weight="normal" fill="#161616"  stroke="#161616" stroke-width="0.16">IL-25</text>
<line x1="101.35" y1="475.00" x2="101.35" y2="478.40" stroke="#111" stroke-width="1.1" />
<text x="101.35" y="487.40" font-size="6.3" text-anchor="middle" font-weight="normal" fill="#161616"  stroke="#161616" stroke-width="0.16">IL-33</text>
<line x1="121.35" y1="475.00" x2="121.35" y2="478.40" stroke="#111" stroke-width="1.1" />
<text x="121.35" y="487.40" font-size="6.3" text-anchor="middle" font-weight="normal" fill="#161616"  stroke="#161616" stroke-width="0.16">TSLP</text>
<line x1="141.35" y1="475.00" x2="141.35" y2="478.40" stroke="#111" stroke-width="1.1" />
<text x="141.35" y="487.40" font-size="6.3" text-anchor="middle" font-weight="normal" fill="#161616"  stroke="#161616" stroke-width="0.16">IL-25</text>
<text x="141.35" y="495.30" font-size="6.3" text-anchor="middle" font-weight="normal" fill="#161616"  stroke="#161616" stroke-width="0.16">IL-33</text>
<line x1="161.35" y1="475.00" x2="161.35" y2="478.40" stroke="#111" stroke-width="1.1" />
<text x="161.35" y="487.40" font-size="6.3" text-anchor="middle" font-weight="normal" fill="#161616"  stroke="#161616" stroke-width="0.16">IL-25</text>
<text x="161.35" y="495.30" font-size="6.3" text-anchor="middle" font-weight="normal" fill="#161616"  stroke="#161616" stroke-width="0.16">TSLP</text>
<line x1="181.35" y1="475.00" x2="181.35" y2="478.40" stroke="#111" stroke-width="1.1" />
<text x="181.35" y="487.40" font-size="6.3" text-anchor="middle" font-weight="normal" fill="#161616"  stroke="#161616" stroke-width="0.16">IL-33</text>
<text x="181.35" y="495.30" font-size="6.3" text-anchor="middle" font-weight="normal" fill="#161616"  stroke="#161616" stroke-width="0.16">TSLP</text>
<line x1="201.35" y1="475.00" x2="201.35" y2="478.40" stroke="#111" stroke-width="1.1" />
<text x="201.35" y="487.40" font-size="6.3" text-anchor="middle" font-weight="normal" fill="#161616"  stroke="#161616" stroke-width="0.16">IL-25</text>
<text x="201.35" y="495.30" font-size="6.3" text-anchor="middle" font-weight="normal" fill="#161616"  stroke="#161616" stroke-width="0.16">IL-33</text>
<text x="201.35" y="503.20" font-size="6.3" text-anchor="middle" font-weight="normal" fill="#161616"  stroke="#161616" stroke-width="0.16">TSLP</text>
<line x1="221.35" y1="475.00" x2="221.35" y2="478.40" stroke="#111" stroke-width="1.1" />
<text x="221.35" y="487.40" font-size="6.3" text-anchor="middle" font-weight="normal" fill="#161616"  stroke="#161616" stroke-width="0.16">IL-2</text>
<text x="221.35" y="495.30" font-size="6.3" text-anchor="middle" font-weight="normal" fill="#161616"  stroke="#161616" stroke-width="0.16">IL-25</text>
<text x="221.35" y="503.20" font-size="6.3" text-anchor="middle" font-weight="normal" fill="#161616"  stroke="#161616" stroke-width="0.16">IL-33</text>
<text x="221.35" y="511.10" font-size="6.3" text-anchor="middle" font-weight="normal" fill="#161616"  stroke="#161616" stroke-width="0.16">TSLP</text>
<line x1="241.35" y1="475.00" x2="241.35" y2="478.40" stroke="#111" stroke-width="1.1" />
<text x="241.35" y="487.40" font-size="6.3" text-anchor="middle" font-weight="normal" fill="#161616"  stroke="#161616" stroke-width="0.16">Isotype</text>
<line x1="140.00" y1="410.50" x2="200.00" y2="410.50" stroke="#111" stroke-width="1.1" />
<line x1="140.00" y1="408.30" x2="140.00" y2="412.70" stroke="#111" stroke-width="1.1" />
<line x1="200.00" y1="408.30" x2="200.00" y2="412.70" stroke="#111" stroke-width="1.1" />
<circle cx="170.00" cy="407.00" r="1.15" fill="#111"/>
<line x1="159.60" y1="423.50" x2="200.00" y2="423.50" stroke="#111" stroke-width="1.1" />
<line x1="159.60" y1="421.30" x2="159.60" y2="425.70" stroke="#111" stroke-width="1.1" />
<line x1="200.00" y1="421.30" x2="200.00" y2="425.70" stroke="#111" stroke-width="1.1" />
<circle cx="176.20" cy="419.80" r="1.15" fill="#111"/>
<circle cx="179.50" cy="419.80" r="1.15" fill="#111"/>
<circle cx="182.80" cy="419.80" r="1.15" fill="#111"/>
<line x1="180.00" y1="434.50" x2="200.00" y2="434.50" stroke="#111" stroke-width="1.1" />
<line x1="180.00" y1="432.30" x2="180.00" y2="436.70" stroke="#111" stroke-width="1.1" />
<line x1="200.00" y1="432.30" x2="200.00" y2="436.70" stroke="#111" stroke-width="1.1" />
<text x="190.00" y="432.20" font-size="6.3" text-anchor="middle" font-weight="normal" fill="#333"  stroke="#333" stroke-width="0.16">ns</text>
<circle cx="156.55" cy="444.70" r="1.15" fill="#111"/>
<circle cx="159.85" cy="444.70" r="1.15" fill="#111"/>
<circle cx="163.15" cy="444.70" r="1.15" fill="#111"/>
<circle cx="166.45" cy="444.70" r="1.15" fill="#111"/>
<circle cx="176.55" cy="444.70" r="1.15" fill="#111"/>
<circle cx="179.85" cy="444.70" r="1.15" fill="#111"/>
<circle cx="183.15" cy="444.70" r="1.15" fill="#111"/>
<circle cx="186.45" cy="444.70" r="1.15" fill="#111"/>
<circle cx="196.55" cy="444.70" r="1.15" fill="#111"/>
<circle cx="199.85" cy="444.70" r="1.15" fill="#111"/>
<circle cx="203.15" cy="444.70" r="1.15" fill="#111"/>
<circle cx="206.45" cy="444.70" r="1.15" fill="#111"/>
<circle cx="216.55" cy="444.70" r="1.15" fill="#111"/>
<circle cx="219.85" cy="444.70" r="1.15" fill="#111"/>
<circle cx="223.15" cy="444.70" r="1.15" fill="#111"/>
<circle cx="226.45" cy="444.70" r="1.15" fill="#111"/>
<text transform="translate(20.4 434.2) rotate(-90)" font-size="7.9" text-anchor="middle" font-weight="bold" fill="#222" stroke="#222" stroke-width="0.3" textLength="30.5" lengthAdjust="spacingAndGlyphs">CD127 MFI</text>
<rect x="315.30" y="432.22" width="13.10" height="42.78" fill="#fff" stroke="#9c1a40" stroke-width="1.15"/>
<rect x="334.08" y="424.75" width="13.10" height="50.25" fill="#fff" stroke="#3d5a8e" stroke-width="1.15"/>
<rect x="352.86" y="427.24" width="13.10" height="47.76" fill="#fff" stroke="#6fae45" stroke-width="1.15"/>
<rect x="371.64" y="420.27" width="13.10" height="54.73" fill="#fff" stroke="#4e3570" stroke-width="1.15"/>
<rect x="390.42" y="447.64" width="13.10" height="27.36" fill="#fff" stroke="#e0a040" stroke-width="1.15"/>
<rect x="409.20" y="424.25" width="13.10" height="50.75" fill="#fff" stroke="#2f6a4e" stroke-width="1.15"/>
<rect x="427.98" y="450.42" width="13.10" height="24.58" fill="#fff" stroke="#8784ae" stroke-width="1.15"/>
<rect x="446.76" y="458.08" width="13.10" height="16.92" fill="#fff" stroke="#58585e" stroke-width="1.15"/>
<rect x="465.54" y="466.44" width="13.10" height="8.56" fill="#fff" stroke="#7aa8d8" stroke-width="1.15"/>
<line x1="311.50" y1="459.48" x2="500.50" y2="459.48" stroke="#000" stroke-width="1.35" stroke-dasharray="2.2 1.5"/>
<path d="M318.15 422.06L321.55 425.46M321.55 422.06L318.15 425.46" stroke="#a8173f" stroke-width="1.3499999999999999" fill="none"/>
<path d="M321.65 417.08L325.05 420.48M325.05 417.08L321.65 420.48" stroke="#a8173f" stroke-width="1.3499999999999999" fill="none"/>
<path d="M324.15 419.57L327.55 422.97M327.55 419.57L324.15 422.97" stroke="#a8173f" stroke-width="1.3499999999999999" fill="none"/>
<path d="M319.15 439.47L322.55 442.87M322.55 439.47L319.15 442.87" stroke="#a8173f" stroke-width="1.3499999999999999" fill="none"/>
<path d="M322.15 441.46L325.55 444.86M325.55 441.46L322.15 444.86" stroke="#a8173f" stroke-width="1.3499999999999999" fill="none"/>
<path d="M325.15 438.48L328.55 441.88M328.55 438.48L325.15 441.88" stroke="#a8173f" stroke-width="1.3499999999999999" fill="none"/>
<path d="M321.15 435.49L324.55 438.89M324.55 435.49L321.15 438.89" stroke="#a8173f" stroke-width="1.3499999999999999" fill="none"/>
<circle cx="340.63" cy="396.39" r="1.56" stroke="#3d5a8e" stroke-width="1.2999999999999998" fill="none"/>
<circle cx="340.63" cy="402.86" r="1.56" stroke="#3d5a8e" stroke-width="1.2999999999999998" fill="none"/>
<circle cx="335.63" cy="425.25" r="1.56" stroke="#3d5a8e" stroke-width="1.2999999999999998" fill="none"/>
<circle cx="345.63" cy="428.24" r="1.56" stroke="#3d5a8e" stroke-width="1.2999999999999998" fill="none"/>
<circle cx="340.63" cy="431.22" r="1.56" stroke="#3d5a8e" stroke-width="1.2999999999999998" fill="none"/>
<circle cx="337.63" cy="434.20" r="1.56" stroke="#3d5a8e" stroke-width="1.2999999999999998" fill="none"/>
<circle cx="343.63" cy="434.20" r="1.56" stroke="#3d5a8e" stroke-width="1.2999999999999998" fill="none"/>
<circle cx="340.63" cy="440.18" r="1.56" stroke="#3d5a8e" stroke-width="1.2999999999999998" fill="none"/>
<rect x="357.71" y="416.59" width="3.40" height="3.40" stroke="#6fae45" stroke-width="1.2999999999999998" fill="none"/>
<rect x="355.71" y="420.56" width="3.40" height="3.40" stroke="#6fae45" stroke-width="1.2999999999999998" fill="none"/>
<rect x="359.71" y="420.56" width="3.40" height="3.40" stroke="#6fae45" stroke-width="1.2999999999999998" fill="none"/>
<rect x="357.71" y="435.49" width="3.40" height="3.40" stroke="#6fae45" stroke-width="1.2999999999999998" fill="none"/>
<rect x="357.71" y="443.45" width="3.40" height="3.40" stroke="#6fae45" stroke-width="1.2999999999999998" fill="none"/>
<path d="M378.19 393.70L380.39 397.70L375.99 397.70Z" fill="#4e3570"/>
<path d="M375.69 404.64L377.89 408.64L373.49 408.64Z" fill="#4e3570"/>
<path d="M379.19 408.12L381.39 412.12L376.99 412.12Z" fill="#4e3570"/>
<path d="M381.19 411.61L383.39 415.61L378.99 415.61Z" fill="#4e3570"/>
<path d="M378.19 429.02L380.39 433.02L375.99 433.02Z" fill="#4e3570"/>
<path d="M375.19 434.00L377.39 438.00L372.99 438.00Z" fill="#4e3570"/>
<path d="M378.69 434.00L380.89 438.00L376.49 438.00Z" fill="#4e3570"/>
<path d="M382.19 434.00L384.39 438.00L379.99 438.00Z" fill="#4e3570"/>
<path d="M393.97 443.37L396.17 439.37L391.77 439.37Z" fill="#e0a040"/>
<path d="M396.97 442.38L399.17 438.38L394.77 438.38Z" fill="#e0a040"/>
<path d="M399.97 443.37L402.17 439.37L397.77 439.37Z" fill="#e0a040"/>
<path d="M395.97 444.37L398.17 440.37L393.77 440.37Z" fill="#e0a040"/>
<path d="M398.97 444.37L401.17 440.37L396.77 440.37Z" fill="#e0a040"/>
<path d="M396.97 454.31L399.17 450.31L394.77 450.31Z" fill="#e0a040"/>
<path d="M396.97 460.28L399.17 456.28L394.77 456.28Z" fill="#e0a040"/>
<path d="M396.97 465.26L399.17 461.26L394.77 461.26Z" fill="#e0a040"/>
<path d="M415.75 395.63L417.51 397.39L415.75 399.15L413.99 397.39Z" stroke="#2f6a4e" stroke-width="1.2999999999999998" fill="none"/>
<path d="M415.75 405.58L417.51 407.34L415.75 409.10L413.99 407.34Z" stroke="#2f6a4e" stroke-width="1.2999999999999998" fill="none"/>
<path d="M412.75 431.45L414.51 433.21L412.75 434.97L410.99 433.21Z" stroke="#2f6a4e" stroke-width="1.2999999999999998" fill="none"/>
<path d="M419.75 432.44L421.51 434.20L419.75 435.96L417.99 434.20Z" stroke="#2f6a4e" stroke-width="1.2999999999999998" fill="none"/>
<path d="M416.75 436.43L418.51 438.19L416.75 439.94L414.99 438.19Z" stroke="#2f6a4e" stroke-width="1.2999999999999998" fill="none"/>
<path d="M419.75 439.41L421.51 441.17L419.75 442.93L417.99 441.17Z" stroke="#2f6a4e" stroke-width="1.2999999999999998" fill="none"/>
<path d="M412.75 441.40L414.51 443.16L412.75 444.92L410.99 443.16Z" stroke="#2f6a4e" stroke-width="1.2999999999999998" fill="none"/>
<circle cx="434.53" cy="436.19" r="1.56" stroke="#8784ae" stroke-width="1.2999999999999998" fill="none"/>
<circle cx="431.53" cy="448.13" r="1.56" stroke="#8784ae" stroke-width="1.2999999999999998" fill="none"/>
<circle cx="437.53" cy="449.13" r="1.56" stroke="#8784ae" stroke-width="1.2999999999999998" fill="none"/>
<circle cx="434.53" cy="454.11" r="1.56" stroke="#8784ae" stroke-width="1.2999999999999998" fill="none"/>
<circle cx="434.53" cy="466.05" r="1.56" stroke="#8784ae" stroke-width="1.2999999999999998" fill="none"/>
<rect x="449.61" y="445.44" width="3.40" height="3.40" stroke="#44444b" stroke-width="1.2999999999999998" fill="none"/>
<rect x="455.61" y="446.44" width="3.40" height="3.40" stroke="#44444b" stroke-width="1.2999999999999998" fill="none"/>
<rect x="452.61" y="450.42" width="3.40" height="3.40" stroke="#44444b" stroke-width="1.2999999999999998" fill="none"/>
<rect x="447.61" y="455.39" width="3.40" height="3.40" stroke="#44444b" stroke-width="1.2999999999999998" fill="none"/>
<rect x="451.61" y="459.37" width="3.40" height="3.40" stroke="#44444b" stroke-width="1.2999999999999998" fill="none"/>
<rect x="455.61" y="455.39" width="3.40" height="3.40" stroke="#44444b" stroke-width="1.2999999999999998" fill="none"/>
<rect x="452.61" y="463.35" width="3.40" height="3.40" stroke="#44444b" stroke-width="1.2999999999999998" fill="none"/>
<rect x="448.61" y="466.34" width="3.40" height="3.40" stroke="#44444b" stroke-width="1.2999999999999998" fill="none"/>
<rect x="454.61" y="467.33" width="3.40" height="3.40" stroke="#44444b" stroke-width="1.2999999999999998" fill="none"/>
<path d="M468.09 458.87L470.29 462.87L465.89 462.87Z" stroke="#7aa8d8" stroke-width="1.15" fill="none"/>
<path d="M475.09 456.88L477.29 460.88L472.89 460.88Z" stroke="#7aa8d8" stroke-width="1.15" fill="none"/>
<path d="M468.09 469.81L470.29 473.81L465.89 473.81Z" stroke="#7aa8d8" stroke-width="1.15" fill="none"/>
<path d="M475.09 470.31L477.29 474.31L472.89 474.31Z" stroke="#7aa8d8" stroke-width="1.15" fill="none"/>
<line x1="485.87" y1="459.48" x2="495.87" y2="459.48" stroke="#333" stroke-width="1" />
<path d="M490.87 458.16L492.19 459.48L490.87 460.80L489.55 459.48Z" fill="#333"/>
<line x1="321.85" y1="429.23" x2="321.85" y2="435.20" stroke="#111" stroke-width="1.1" />
<line x1="319.25" y1="429.23" x2="324.45" y2="429.23" stroke="#111" stroke-width="1.1" />
<line x1="319.25" y1="435.20" x2="324.45" y2="435.20" stroke="#111" stroke-width="1.1" />
<line x1="317.85" y1="432.22" x2="325.85" y2="432.22" stroke="#111" stroke-width="1.1" />
<line x1="340.63" y1="419.78" x2="340.63" y2="429.73" stroke="#111" stroke-width="1.1" />
<line x1="338.03" y1="419.78" x2="343.23" y2="419.78" stroke="#111" stroke-width="1.1" />
<line x1="338.03" y1="429.73" x2="343.23" y2="429.73" stroke="#111" stroke-width="1.1" />
<line x1="336.63" y1="424.75" x2="344.63" y2="424.75" stroke="#111" stroke-width="1.1" />
<line x1="359.41" y1="423.76" x2="359.41" y2="430.72" stroke="#111" stroke-width="1.1" />
<line x1="356.81" y1="423.76" x2="362.01" y2="423.76" stroke="#111" stroke-width="1.1" />
<line x1="356.81" y1="430.72" x2="362.01" y2="430.72" stroke="#111" stroke-width="1.1" />
<line x1="355.41" y1="427.24" x2="363.41" y2="427.24" stroke="#111" stroke-width="1.1" />
<line x1="378.19" y1="415.30" x2="378.19" y2="425.25" stroke="#111" stroke-width="1.1" />
<line x1="375.59" y1="415.30" x2="380.79" y2="415.30" stroke="#111" stroke-width="1.1" />
<line x1="375.59" y1="425.25" x2="380.79" y2="425.25" stroke="#111" stroke-width="1.1" />
<line x1="374.19" y1="420.27" x2="382.19" y2="420.27" stroke="#111" stroke-width="1.1" />
<line x1="396.97" y1="443.66" x2="396.97" y2="451.62" stroke="#111" stroke-width="1.1" />
<line x1="394.37" y1="443.66" x2="399.57" y2="443.66" stroke="#111" stroke-width="1.1" />
<line x1="394.37" y1="451.62" x2="399.57" y2="451.62" stroke="#111" stroke-width="1.1" />
<line x1="392.97" y1="447.64" x2="400.97" y2="447.64" stroke="#111" stroke-width="1.1" />
<line x1="415.75" y1="417.29" x2="415.75" y2="431.22" stroke="#111" stroke-width="1.1" />
<line x1="413.15" y1="417.29" x2="418.35" y2="417.29" stroke="#111" stroke-width="1.1" />
<line x1="413.15" y1="431.22" x2="418.35" y2="431.22" stroke="#111" stroke-width="1.1" />
<line x1="411.75" y1="424.25" x2="419.75" y2="424.25" stroke="#111" stroke-width="1.1" />
<line x1="434.53" y1="446.94" x2="434.53" y2="453.91" stroke="#111" stroke-width="1.1" />
<line x1="431.93" y1="446.94" x2="437.13" y2="446.94" stroke="#111" stroke-width="1.1" />
<line x1="431.93" y1="453.91" x2="437.13" y2="453.91" stroke="#111" stroke-width="1.1" />
<line x1="430.53" y1="450.42" x2="438.53" y2="450.42" stroke="#111" stroke-width="1.1" />
<line x1="453.31" y1="455.10" x2="453.31" y2="461.07" stroke="#111" stroke-width="1.1" />
<line x1="450.71" y1="455.10" x2="455.91" y2="455.10" stroke="#111" stroke-width="1.1" />
<line x1="450.71" y1="461.07" x2="455.91" y2="461.07" stroke="#111" stroke-width="1.1" />
<line x1="449.31" y1="458.08" x2="457.31" y2="458.08" stroke="#111" stroke-width="1.1" />
<line x1="472.09" y1="464.95" x2="472.09" y2="467.94" stroke="#111" stroke-width="1.1" />
<line x1="469.49" y1="464.95" x2="474.69" y2="464.95" stroke="#111" stroke-width="1.1" />
<line x1="469.49" y1="467.94" x2="474.69" y2="467.94" stroke="#111" stroke-width="1.1" />
<line x1="468.09" y1="466.44" x2="476.09" y2="466.44" stroke="#111" stroke-width="1.1" />
<line x1="311.50" y1="393.00" x2="311.50" y2="475.50" stroke="#111" stroke-width="1.35" />
<line x1="310.90" y1="475.00" x2="501.20" y2="475.00" stroke="#111" stroke-width="1.45" />
<line x1="308.30" y1="475.00" x2="311.50" y2="475.00" stroke="#111" stroke-width="1.1" />
<text x="306.00" y="477.50" font-size="7.0" text-anchor="end" font-weight="normal" fill="#1a1a1a"  stroke="#1a1a1a" stroke-width="0.16">0</text>
<line x1="308.30" y1="455.10" x2="311.50" y2="455.10" stroke="#111" stroke-width="1.1" />
<text x="306.00" y="457.60" font-size="7.0" text-anchor="end" font-weight="normal" fill="#1a1a1a"  stroke="#1a1a1a" stroke-width="0.16">2000</text>
<line x1="308.30" y1="435.20" x2="311.50" y2="435.20" stroke="#111" stroke-width="1.1" />
<text x="306.00" y="437.70" font-size="7.0" text-anchor="end" font-weight="normal" fill="#1a1a1a"  stroke="#1a1a1a" stroke-width="0.16">4000</text>
<line x1="308.30" y1="415.30" x2="311.50" y2="415.30" stroke="#111" stroke-width="1.1" />
<text x="306.00" y="417.80" font-size="7.0" text-anchor="end" font-weight="normal" fill="#1a1a1a"  stroke="#1a1a1a" stroke-width="0.16">6000</text>
<line x1="308.30" y1="395.40" x2="311.50" y2="395.40" stroke="#111" stroke-width="1.1" />
<text x="306.00" y="397.90" font-size="7.0" text-anchor="end" font-weight="normal" fill="#1a1a1a"  stroke="#1a1a1a" stroke-width="0.16">8000</text>
<line x1="321.85" y1="475.00" x2="321.85" y2="478.40" stroke="#111" stroke-width="1.1" />
<text x="321.85" y="487.00" font-size="6.2" text-anchor="middle" font-weight="normal" fill="#161616"  stroke="#161616" stroke-width="0.16">Media</text>
<line x1="340.63" y1="475.00" x2="340.63" y2="478.40" stroke="#111" stroke-width="1.1" />
<text x="340.63" y="487.00" font-size="6.2" text-anchor="middle" font-weight="normal" fill="#161616"  stroke="#161616" stroke-width="0.16">IL-25</text>
<line x1="359.41" y1="475.00" x2="359.41" y2="478.40" stroke="#111" stroke-width="1.1" />
<text x="359.41" y="487.00" font-size="6.2" text-anchor="middle" font-weight="normal" fill="#161616"  stroke="#161616" stroke-width="0.16">IL-33</text>
<line x1="378.19" y1="475.00" x2="378.19" y2="478.40" stroke="#111" stroke-width="1.1" />
<text x="378.19" y="487.00" font-size="6.2" text-anchor="middle" font-weight="normal" fill="#161616"  stroke="#161616" stroke-width="0.16">TSLP</text>
<line x1="396.97" y1="475.00" x2="396.97" y2="478.40" stroke="#111" stroke-width="1.1" />
<text x="396.97" y="487.00" font-size="6.2" text-anchor="middle" font-weight="normal" fill="#161616"  stroke="#161616" stroke-width="0.16">IL-25</text>
<text x="396.97" y="494.85" font-size="6.2" text-anchor="middle" font-weight="normal" fill="#161616"  stroke="#161616" stroke-width="0.16">IL-33</text>
<line x1="415.75" y1="475.00" x2="415.75" y2="478.40" stroke="#111" stroke-width="1.1" />
<text x="415.75" y="487.00" font-size="6.2" text-anchor="middle" font-weight="normal" fill="#161616"  stroke="#161616" stroke-width="0.16">IL-25</text>
<text x="415.75" y="494.85" font-size="6.2" text-anchor="middle" font-weight="normal" fill="#161616"  stroke="#161616" stroke-width="0.16">TSLP</text>
<line x1="434.53" y1="475.00" x2="434.53" y2="478.40" stroke="#111" stroke-width="1.1" />
<text x="434.53" y="487.00" font-size="6.2" text-anchor="middle" font-weight="normal" fill="#161616"  stroke="#161616" stroke-width="0.16">IL-33</text>
<text x="434.53" y="494.85" font-size="6.2" text-anchor="middle" font-weight="normal" fill="#161616"  stroke="#161616" stroke-width="0.16">TSLP</text>
<line x1="453.31" y1="475.00" x2="453.31" y2="478.40" stroke="#111" stroke-width="1.1" />
<text x="453.31" y="487.00" font-size="6.2" text-anchor="middle" font-weight="normal" fill="#161616"  stroke="#161616" stroke-width="0.16">IL-25</text>
<text x="453.31" y="494.85" font-size="6.2" text-anchor="middle" font-weight="normal" fill="#161616"  stroke="#161616" stroke-width="0.16">IL-33</text>
<text x="453.31" y="502.70" font-size="6.2" text-anchor="middle" font-weight="normal" fill="#161616"  stroke="#161616" stroke-width="0.16">TSLP</text>
<line x1="472.09" y1="475.00" x2="472.09" y2="478.40" stroke="#111" stroke-width="1.1" />
<text x="472.09" y="487.00" font-size="6.2" text-anchor="middle" font-weight="normal" fill="#161616"  stroke="#161616" stroke-width="0.16">IL-2</text>
<text x="472.09" y="494.85" font-size="6.2" text-anchor="middle" font-weight="normal" fill="#161616"  stroke="#161616" stroke-width="0.16">IL-25</text>
<text x="472.09" y="502.70" font-size="6.2" text-anchor="middle" font-weight="normal" fill="#161616"  stroke="#161616" stroke-width="0.16">IL-33</text>
<text x="472.09" y="510.55" font-size="6.2" text-anchor="middle" font-weight="normal" fill="#161616"  stroke="#161616" stroke-width="0.16">TSLP</text>
<line x1="490.87" y1="475.00" x2="490.87" y2="478.40" stroke="#111" stroke-width="1.1" />
<text x="490.87" y="487.00" font-size="6.2" text-anchor="middle" font-weight="normal" fill="#161616"  stroke="#161616" stroke-width="0.16">isotype</text>
<line x1="416.60" y1="380.50" x2="454.40" y2="380.50" stroke="#111" stroke-width="1.1" />
<line x1="416.60" y1="378.30" x2="416.60" y2="382.70" stroke="#111" stroke-width="1.1" />
<line x1="454.40" y1="378.30" x2="454.40" y2="382.70" stroke="#111" stroke-width="1.1" />
<circle cx="430.85" cy="375.40" r="1.15" fill="#111"/>
<circle cx="434.15" cy="375.40" r="1.15" fill="#111"/>
<circle cx="437.45" cy="375.40" r="1.15" fill="#111"/>
<circle cx="440.75" cy="375.40" r="1.15" fill="#111"/>
<line x1="395.00" y1="391.50" x2="454.40" y2="391.50" stroke="#111" stroke-width="1.1" />
<line x1="395.00" y1="389.30" x2="395.00" y2="393.70" stroke="#111" stroke-width="1.1" />
<line x1="454.40" y1="389.30" x2="454.40" y2="393.70" stroke="#111" stroke-width="1.1" />
<circle cx="424.80" cy="386.40" r="1.15" fill="#111"/>
<line x1="433.60" y1="420.50" x2="454.40" y2="420.50" stroke="#111" stroke-width="1.1" />
<line x1="433.60" y1="418.30" x2="433.60" y2="422.70" stroke="#111" stroke-width="1.1" />
<line x1="454.40" y1="418.30" x2="454.40" y2="422.70" stroke="#111" stroke-width="1.1" />
<text x="443.60" y="418.00" font-size="6.3" text-anchor="middle" font-weight="normal" fill="#333"  stroke="#333" stroke-width="0.16">ns</text>
<circle cx="397.00" cy="435.00" r="1.15" fill="#111"/>
<circle cx="434.60" cy="427.00" r="1.15" fill="#111"/>
<circle cx="448.45" cy="441.00" r="1.15" fill="#111"/>
<circle cx="451.75" cy="441.00" r="1.15" fill="#111"/>
<circle cx="455.05" cy="441.00" r="1.15" fill="#111"/>
<circle cx="458.35" cy="441.00" r="1.15" fill="#111"/>
<circle cx="467.25" cy="452.80" r="1.15" fill="#111"/>
<circle cx="470.55" cy="452.80" r="1.15" fill="#111"/>
<circle cx="473.85" cy="452.80" r="1.15" fill="#111"/>
<circle cx="477.15" cy="452.80" r="1.15" fill="#111"/>
<text transform="translate(285.7 435.2) rotate(-90)" font-size="7.9" text-anchor="middle" font-weight="bold" fill="#222" stroke="#222" stroke-width="0.3" textLength="30.5" lengthAdjust="spacingAndGlyphs">CRTH2 MFI</text>
<g>
<clipPath id="c50_198"><rect x="50.60" y="198.90" width="52.40" height="52.40"/></clipPath>
<g clip-path="url(#c50_198)">
<path d="M60.34 226.07C60.99 224.44 62.09 222.72 63.86 221.82C65.62 220.91 68.71 220.87 70.93 220.64C73.16 220.42 75.59 219.98 77.19 220.48C78.79 220.98 79.91 221.74 80.53 223.64C81.16 225.54 80.69 229.40 80.94 231.87C81.18 234.35 82.47 236.36 82.00 238.48C81.54 240.60 80.10 243.36 78.17 244.58C76.25 245.79 72.67 245.88 70.45 245.79C68.23 245.70 66.54 245.16 64.87 244.05C63.21 242.94 61.28 241.18 60.46 239.11C59.64 237.04 59.99 233.78 59.97 231.61C59.95 229.44 59.69 227.71 60.34 226.07Z" fill="rgba(70,70,70,0.040)" stroke="rgb(140,140,140)" stroke-width="0.55"/>
<path d="M61.49 226.06C62.15 224.55 62.67 223.54 64.21 222.78C65.75 222.02 68.61 221.75 70.73 221.50C72.85 221.26 75.43 220.74 76.95 221.31C78.48 221.87 79.33 223.11 79.87 224.89C80.41 226.68 80.05 229.78 80.20 232.03C80.35 234.28 81.18 236.44 80.79 238.38C80.40 240.31 79.58 242.60 77.88 243.63C76.17 244.65 72.68 244.60 70.58 244.55C68.49 244.51 66.82 244.31 65.29 243.34C63.76 242.37 62.24 240.64 61.40 238.72C60.56 236.80 60.23 233.94 60.24 231.83C60.25 229.72 60.82 227.57 61.49 226.06Z" fill="rgba(70,70,70,0.040)" stroke="rgb(132,132,132)" stroke-width="0.59"/>
<path d="M62.81 227.02C63.41 225.65 64.15 224.15 65.52 223.42C66.90 222.68 69.22 222.72 71.08 222.61C72.95 222.51 75.32 222.27 76.72 222.78C78.11 223.30 79.10 224.21 79.46 225.69C79.83 227.16 78.81 229.63 78.89 231.63C78.97 233.64 80.19 235.92 79.92 237.73C79.65 239.54 78.82 241.52 77.26 242.48C75.70 243.45 72.39 243.61 70.57 243.53C68.76 243.46 67.72 243.09 66.37 242.05C65.02 241.01 63.22 239.04 62.48 237.31C61.74 235.57 61.88 233.36 61.94 231.64C61.99 229.93 62.21 228.39 62.81 227.02Z" fill="rgba(70,70,70,0.040)" stroke="rgb(125,125,125)" stroke-width="0.64"/>
<path d="M64.03 227.56C64.44 226.47 64.90 225.70 66.12 225.10C67.35 224.51 69.67 224.15 71.38 223.99C73.08 223.82 75.17 223.75 76.36 224.13C77.55 224.50 78.19 224.90 78.53 226.23C78.87 227.56 78.28 230.32 78.39 232.09C78.49 233.87 79.42 235.41 79.14 236.87C78.85 238.33 78.01 240.00 76.66 240.85C75.31 241.71 72.61 242.01 71.02 241.98C69.43 241.94 68.32 241.45 67.12 240.64C65.93 239.84 64.44 238.65 63.86 237.15C63.28 235.65 63.63 233.24 63.65 231.64C63.68 230.04 63.62 228.65 64.03 227.56Z" fill="rgba(70,70,70,0.040)" stroke="rgb(117,117,117)" stroke-width="0.68"/>
<path d="M65.47 228.52C65.87 227.63 66.57 226.93 67.56 226.43C68.55 225.94 70.05 225.74 71.42 225.55C72.78 225.36 74.80 224.98 75.74 225.29C76.69 225.61 76.83 226.34 77.10 227.44C77.36 228.53 77.20 230.47 77.35 231.87C77.51 233.27 78.21 234.62 78.03 235.85C77.84 237.08 77.38 238.56 76.26 239.24C75.13 239.93 72.64 240.02 71.29 239.95C69.94 239.88 69.12 239.51 68.18 238.83C67.25 238.15 66.18 237.05 65.68 235.88C65.17 234.71 65.18 233.01 65.15 231.79C65.12 230.56 65.07 229.41 65.47 228.52Z" fill="rgba(70,70,70,0.040)" stroke="rgb(110,110,110)" stroke-width="0.72"/>
<path d="M67.14 229.17C67.48 228.51 68.09 228.08 68.88 227.70C69.68 227.32 70.90 226.97 71.91 226.87C72.92 226.78 74.31 226.90 74.96 227.13C75.62 227.36 75.69 227.44 75.86 228.27C76.02 229.10 75.88 230.99 75.95 232.11C76.03 233.24 76.44 234.14 76.30 235.02C76.17 235.91 75.87 236.89 75.12 237.41C74.37 237.93 72.81 238.14 71.80 238.13C70.80 238.12 69.86 237.92 69.08 237.35C68.30 236.78 67.49 235.66 67.12 234.71C66.75 233.76 66.85 232.58 66.86 231.66C66.86 230.74 66.80 229.83 67.14 229.17Z" fill="rgba(70,70,70,0.040)" stroke="rgb(102,102,102)" stroke-width="0.76"/>
<path d="M69.22 230.08C69.44 229.64 69.37 229.41 69.87 229.15C70.37 228.89 71.50 228.57 72.24 228.51C72.97 228.45 73.80 228.60 74.30 228.80C74.79 229.00 75.10 229.23 75.20 229.74C75.29 230.24 74.88 231.10 74.87 231.83C74.86 232.56 75.24 233.48 75.12 234.13C75.00 234.78 74.69 235.37 74.17 235.74C73.66 236.10 72.72 236.33 72.03 236.33C71.35 236.33 70.57 236.16 70.06 235.73C69.54 235.31 69.19 234.43 68.95 233.77C68.70 233.12 68.54 232.42 68.58 231.80C68.63 231.19 69.01 230.52 69.22 230.08Z" fill="rgba(70,70,70,0.040)" stroke="rgb(95,95,95)" stroke-width="0.81"/>
<path d="M70.67 230.94C70.81 230.69 71.22 230.56 71.47 230.42C71.72 230.29 71.85 230.14 72.17 230.12C72.50 230.10 73.13 230.23 73.40 230.31C73.67 230.40 73.68 230.35 73.78 230.65C73.88 230.95 73.98 231.74 73.98 232.11C73.98 232.49 73.83 232.59 73.76 232.90C73.69 233.20 73.82 233.73 73.57 233.95C73.31 234.16 72.61 234.18 72.23 234.17C71.85 234.17 71.49 234.09 71.28 233.91C71.07 233.73 71.08 233.40 70.96 233.07C70.85 232.74 70.65 232.29 70.60 231.93C70.55 231.58 70.52 231.20 70.67 230.94Z" fill="rgba(70,70,70,0.040)" stroke="rgb(87,87,87)" stroke-width="0.85"/>
<path d="M73.83 223.61C74.69 222.61 76.97 221.86 77.89 222.68C78.81 223.50 79.30 226.18 79.37 228.54C79.45 230.89 79.01 234.95 78.33 236.82C77.64 238.68 76.10 240.12 75.26 239.73C74.41 239.35 73.68 236.33 73.26 234.48C72.84 232.64 72.63 230.47 72.72 228.65C72.82 226.84 72.97 224.61 73.83 223.61Z" fill="rgba(70,70,70,0.068)" stroke="rgb(115,115,115)" stroke-width="0.55"/>
<path d="M74.75 226.25C75.33 225.61 76.49 224.85 77.05 225.45C77.62 226.05 78.04 228.34 78.13 229.86C78.21 231.37 77.94 233.36 77.58 234.52C77.22 235.68 76.48 236.93 75.99 236.80C75.50 236.67 75.04 234.99 74.64 233.74C74.24 232.48 73.57 230.53 73.59 229.28C73.61 228.03 74.17 226.88 74.75 226.25Z" fill="rgba(70,70,70,0.068)" stroke="rgb(70,70,70)" stroke-width="0.81"/>
<path d="M75.52 230.03C75.62 229.89 76.01 229.64 76.20 229.76C76.38 229.87 76.61 230.36 76.64 230.72C76.67 231.08 76.53 231.69 76.40 231.94C76.26 232.19 75.93 232.35 75.83 232.25C75.74 232.14 75.90 231.57 75.85 231.29C75.81 231.01 75.61 230.78 75.56 230.57C75.50 230.36 75.41 230.16 75.52 230.03Z" fill="rgba(70,70,70,0.068)" stroke="rgb(26,26,26)" stroke-width="1.06"/>
<path d="M59.25 212.49C59.47 211.33 60.73 210.62 62.32 210.10C63.91 209.58 66.45 209.58 68.82 209.40C71.19 209.21 74.13 208.50 76.54 208.99C78.95 209.48 81.63 211.43 83.25 212.35C84.88 213.26 86.24 213.18 86.26 214.48C86.28 215.78 84.64 218.85 83.39 220.16C82.14 221.47 80.64 221.83 78.78 222.34C76.91 222.85 74.39 223.47 72.21 223.22C70.04 222.97 67.61 221.87 65.74 220.84C63.87 219.81 62.09 218.45 61.01 217.06C59.92 215.67 59.03 213.65 59.25 212.49Z" fill="rgba(70,70,70,0.036)" stroke="rgb(143,143,143)" stroke-width="0.55"/>
<path d="M62.43 213.70C62.77 212.78 63.63 212.13 64.71 211.63C65.79 211.14 67.15 210.88 68.91 210.72C70.67 210.56 73.24 210.34 75.28 210.67C77.32 211.00 79.81 211.88 81.15 212.71C82.50 213.55 83.40 214.53 83.35 215.66C83.31 216.79 81.96 218.62 80.89 219.48C79.82 220.33 78.31 220.34 76.94 220.78C75.57 221.23 74.38 222.22 72.68 222.15C70.98 222.08 68.44 221.20 66.77 220.35C65.10 219.51 63.38 218.21 62.66 217.10C61.94 215.99 62.09 214.61 62.43 213.70Z" fill="rgba(70,70,70,0.036)" stroke="rgb(127,127,127)" stroke-width="0.64"/>
<path d="M65.65 214.83C65.78 214.36 66.41 214.12 67.15 213.81C67.89 213.51 68.96 213.05 70.07 213.00C71.18 212.95 72.56 213.24 73.80 213.50C75.04 213.76 76.66 214.20 77.51 214.58C78.36 214.95 78.96 215.11 78.92 215.73C78.87 216.35 77.92 217.71 77.25 218.30C76.57 218.89 75.69 218.98 74.84 219.26C73.99 219.54 73.20 220.01 72.16 219.99C71.12 219.96 69.56 219.65 68.59 219.09C67.62 218.54 66.85 217.37 66.36 216.66C65.87 215.95 65.52 215.31 65.65 214.83Z" fill="rgba(70,70,70,0.036)" stroke="rgb(112,112,112)" stroke-width="0.73"/>
<path d="M69.86 216.52C69.95 216.42 70.08 216.20 70.31 216.10C70.54 215.99 70.93 215.95 71.24 215.89C71.56 215.83 71.86 215.72 72.22 215.75C72.58 215.79 73.16 215.94 73.41 216.12C73.67 216.30 73.79 216.59 73.77 216.82C73.75 217.06 73.47 217.38 73.30 217.52C73.13 217.65 73.02 217.58 72.77 217.64C72.51 217.70 72.10 217.93 71.78 217.88C71.46 217.84 71.20 217.57 70.85 217.37C70.51 217.18 69.89 216.85 69.73 216.70C69.56 216.56 69.76 216.62 69.86 216.52Z" fill="rgba(70,70,70,0.036)" stroke="rgb(96,96,96)" stroke-width="0.82"/>
<path d="M64.65 216.80C64.64 215.39 65.62 213.63 66.88 212.84C68.14 212.05 70.31 211.98 72.21 212.05C74.11 212.13 77.28 212.18 78.27 213.29C79.26 214.41 79.11 217.33 78.13 218.72C77.16 220.11 74.30 221.24 72.44 221.66C70.57 222.08 68.24 222.07 66.94 221.26C65.64 220.45 64.66 218.20 64.65 216.80Z" fill="rgba(70,70,70,0.080)" stroke="rgb(35,35,35)" stroke-width="1.60"/>
<path d="M66.46 216.77C66.55 215.73 67.40 214.76 68.38 214.05C69.36 213.35 70.94 212.54 72.34 212.52C73.74 212.49 76.04 212.92 76.77 213.91C77.50 214.90 77.45 217.33 76.71 218.45C75.97 219.58 73.80 220.34 72.33 220.65C70.85 220.95 68.84 220.95 67.86 220.30C66.88 219.65 66.38 217.81 66.46 216.77Z" fill="rgba(70,70,70,0.080)" stroke="rgb(70,70,70)" stroke-width="0.75"/>
<path d="M68.84 217.13C68.77 216.43 68.85 215.27 69.41 214.86C69.96 214.45 71.29 214.61 72.19 214.66C73.09 214.72 74.33 214.65 74.81 215.18C75.29 215.70 75.50 217.10 75.08 217.81C74.66 218.52 73.16 219.23 72.28 219.43C71.40 219.63 70.39 219.40 69.82 219.02C69.25 218.63 68.91 217.82 68.84 217.13Z" fill="rgba(70,70,70,0.080)" stroke="rgb(35,35,35)" stroke-width="0.95"/>
<path d="M70.89 216.92C70.87 216.70 70.93 216.58 71.17 216.51C71.40 216.44 71.97 216.50 72.29 216.51C72.60 216.52 72.98 216.45 73.07 216.57C73.17 216.68 73.04 217.03 72.87 217.23C72.69 217.42 72.30 217.63 72.03 217.73C71.77 217.82 71.48 217.94 71.29 217.81C71.10 217.67 70.91 217.13 70.89 216.92Z" fill="rgba(70,70,70,0.080)" stroke="rgb(15,15,15)" stroke-width="1.15"/>
<ellipse cx="72.60" cy="217.10" rx="2.30" ry="1.84" fill="#fff" opacity="0.85"/>
</g>
<line x1="68.60" y1="198.90" x2="72.10" y2="251.30" stroke="#555" stroke-width="0.65" />
<line x1="50.60" y1="230.90" x2="103.00" y2="230.50" stroke="#555" stroke-width="0.65" />
<rect x="50.60" y="198.90" width="52.40" height="52.40" fill="none" stroke="#222" stroke-width="1"/>
<line x1="55.40" y1="251.30" x2="55.40" y2="252.60" stroke="#222" stroke-width="0.7" />
<line x1="62.20" y1="251.30" x2="62.20" y2="252.60" stroke="#222" stroke-width="0.7" />
<line x1="71.00" y1="251.30" x2="71.00" y2="252.60" stroke="#222" stroke-width="0.7" />
<line x1="86.00" y1="251.30" x2="86.00" y2="252.60" stroke="#222" stroke-width="0.7" />
<line x1="99.20" y1="251.30" x2="99.20" y2="252.60" stroke="#222" stroke-width="0.7" />
<rect x="61.00" y="251.10" width="2.4" height="1.6" fill="#111"/>
<line x1="49.30" y1="203.60" x2="50.60" y2="203.60" stroke="#222" stroke-width="0.7" />
<line x1="49.30" y1="216.10" x2="50.60" y2="216.10" stroke="#222" stroke-width="0.7" />
<line x1="49.30" y1="230.10" x2="50.60" y2="230.10" stroke="#222" stroke-width="0.7" />
<line x1="49.30" y1="248.40" x2="50.60" y2="248.40" stroke="#222" stroke-width="0.7" />
<rect x="49.20" y="236.40" width="1.6" height="2.4" fill="#111"/>
<text x="52.80" y="205.30" font-size="5.5" text-anchor="start" font-weight="normal" fill="#222"  stroke="#222" stroke-width="0.16">17.3</text>
<text x="100.80" y="205.30" font-size="5.5" text-anchor="end" font-weight="normal" fill="#222"  stroke="#222" stroke-width="0.16">40.3</text>
<text x="52.80" y="249.30" font-size="5.5" text-anchor="start" font-weight="normal" fill="#222"  stroke="#222" stroke-width="0.16">19.0</text>
<text x="100.80" y="249.30" font-size="5.5" text-anchor="end" font-weight="normal" fill="#222"  stroke="#222" stroke-width="0.16">23.3</text>
<text x="48.40" y="205.90" font-size="6.5" text-anchor="end" font-weight="normal" fill="#222"  stroke="#222" stroke-width="0.16">10<tspan font-size="4.7" dy="-2.6">5</tspan></text>
<text x="48.40" y="218.40" font-size="6.5" text-anchor="end" font-weight="normal" fill="#222"  stroke="#222" stroke-width="0.16">10<tspan font-size="4.7" dy="-2.6">4</tspan></text>
<text x="48.40" y="232.40" font-size="6.5" text-anchor="end" font-weight="normal" fill="#222"  stroke="#222" stroke-width="0.16">10<tspan font-size="4.7" dy="-2.6">3</tspan></text>
<text x="48.40" y="250.70" font-size="6.5" text-anchor="end" font-weight="normal" fill="#222"  stroke="#222" stroke-width="0.16">-10<tspan font-size="4.7" dy="-2.6">3</tspan></text>
<text x="53.20" y="261.30" font-size="6.5" text-anchor="middle" font-weight="normal" fill="#222"  stroke="#222" stroke-width="0.16">-10<tspan font-size="4.7" dy="-2.6">3</tspan></text>
<text x="62.60" y="261.30" font-size="6.5" text-anchor="middle" font-weight="normal" fill="#222"  stroke="#222" stroke-width="0.16">0</text>
<text x="71.20" y="261.30" font-size="6.5" text-anchor="middle" font-weight="normal" fill="#222"  stroke="#222" stroke-width="0.16">10<tspan font-size="4.7" dy="-2.6">3</tspan></text>
<text x="86.20" y="261.30" font-size="6.5" text-anchor="middle" font-weight="normal" fill="#222"  stroke="#222" stroke-width="0.16">10<tspan font-size="4.7" dy="-2.6">4</tspan></text>
<text x="99.20" y="261.30" font-size="6.5" text-anchor="middle" font-weight="normal" fill="#222"  stroke="#222" stroke-width="0.16">10<tspan font-size="4.7" dy="-2.6">5</tspan></text>
</g>
<g>
<clipPath id="c127_199"><rect x="127.90" y="199.10" width="52.00" height="52.20"/></clipPath>
<g clip-path="url(#c127_199)">
<path d="M138.26 238.77C138.81 237.00 140.65 235.17 142.18 233.90C143.72 232.63 145.41 231.67 147.49 231.16C149.58 230.66 152.74 230.51 154.72 230.87C156.69 231.23 158.58 232.09 159.34 233.32C160.10 234.56 160.31 236.71 159.26 238.30C158.21 239.88 155.40 241.62 153.06 242.83C150.72 244.04 147.56 245.30 145.20 245.58C142.85 245.86 140.08 245.66 138.92 244.52C137.76 243.39 137.72 240.54 138.26 238.77Z" fill="rgba(70,70,70,0.028)" stroke="rgb(150,150,150)" stroke-width="0.55"/>
<path d="M139.11 238.71C139.59 237.13 141.20 235.74 142.71 234.58C144.21 233.43 146.16 232.22 148.13 231.79C150.09 231.37 152.78 231.69 154.51 232.03C156.25 232.38 157.92 232.80 158.54 233.85C159.15 234.91 159.26 236.84 158.23 238.36C157.19 239.88 154.50 241.89 152.32 242.99C150.15 244.09 147.25 244.79 145.17 244.97C143.09 245.15 140.85 245.11 139.84 244.06C138.83 243.02 138.63 240.29 139.11 238.71Z" fill="rgba(70,70,70,0.028)" stroke="rgb(144,144,144)" stroke-width="0.59"/>
<path d="M140.13 238.96C140.45 237.58 141.64 236.19 142.87 235.25C144.10 234.32 145.72 233.79 147.53 233.35C149.33 232.91 152.16 232.50 153.70 232.64C155.24 232.77 156.26 233.25 156.76 234.16C157.25 235.07 157.47 236.82 156.66 238.11C155.86 239.39 153.80 240.94 151.92 241.88C150.03 242.81 147.19 243.42 145.36 243.70C143.53 243.98 141.82 244.34 140.95 243.55C140.08 242.76 139.81 240.35 140.13 238.96Z" fill="rgba(70,70,70,0.028)" stroke="rgb(138,138,138)" stroke-width="0.62"/>
<path d="M141.69 238.64C141.98 237.46 143.08 236.26 144.14 235.44C145.20 234.63 146.72 233.99 148.07 233.73C149.42 233.47 151.07 233.68 152.24 233.87C153.40 234.06 154.63 234.10 155.07 234.86C155.51 235.61 155.57 237.37 154.87 238.40C154.18 239.44 152.38 240.35 150.90 241.07C149.42 241.79 147.42 242.48 146.01 242.72C144.60 242.97 143.16 243.22 142.44 242.54C141.72 241.85 141.41 239.82 141.69 238.64Z" fill="rgba(70,70,70,0.028)" stroke="rgb(132,132,132)" stroke-width="0.66"/>
<path d="M143.20 238.65C143.49 237.76 144.52 236.69 145.26 236.09C145.99 235.49 146.62 235.25 147.62 235.03C148.62 234.80 150.31 234.62 151.26 234.75C152.21 234.89 152.98 235.24 153.35 235.83C153.72 236.43 153.98 237.53 153.49 238.31C153.01 239.10 151.58 240.00 150.45 240.55C149.31 241.11 147.86 241.50 146.71 241.65C145.56 241.80 144.12 241.96 143.53 241.46C142.95 240.96 142.91 239.55 143.20 238.65Z" fill="rgba(70,70,70,0.028)" stroke="rgb(126,126,126)" stroke-width="0.69"/>
<path d="M144.77 238.48C144.89 237.92 145.38 237.02 145.93 236.63C146.48 236.23 147.39 236.23 148.07 236.10C148.74 235.97 149.41 235.74 149.98 235.85C150.55 235.95 151.25 236.38 151.49 236.72C151.74 237.05 151.79 237.40 151.45 237.86C151.10 238.32 150.13 239.08 149.42 239.49C148.70 239.89 147.85 240.20 147.15 240.28C146.45 240.36 145.60 240.26 145.21 239.96C144.81 239.66 144.65 239.04 144.77 238.48Z" fill="rgba(70,70,70,0.028)" stroke="rgb(119,119,119)" stroke-width="0.73"/>
<path d="M146.18 238.31C146.23 238.02 146.62 237.56 146.88 237.33C147.13 237.10 147.39 236.95 147.73 236.91C148.06 236.88 148.58 237.02 148.89 237.11C149.20 237.20 149.46 237.28 149.58 237.48C149.69 237.68 149.72 238.04 149.59 238.30C149.47 238.56 149.20 238.88 148.84 239.04C148.48 239.21 147.79 239.28 147.41 239.29C147.03 239.29 146.78 239.24 146.58 239.08C146.38 238.91 146.13 238.60 146.18 238.31Z" fill="rgba(70,70,70,0.028)" stroke="rgb(113,113,113)" stroke-width="0.76"/>
<path d="M143.68 211.85C144.37 210.77 145.19 209.97 147.11 209.51C149.02 209.05 153.04 208.84 155.16 209.10C157.28 209.35 158.77 210.01 159.82 211.02C160.86 212.04 161.36 213.48 161.43 215.17C161.51 216.86 160.88 219.38 160.28 221.16C159.69 222.95 159.20 224.93 157.87 225.88C156.54 226.84 153.96 227.15 152.33 226.90C150.69 226.65 149.38 225.47 148.07 224.36C146.77 223.25 145.34 221.61 144.49 220.22C143.64 218.82 143.10 217.40 142.97 216.01C142.83 214.62 142.99 212.93 143.68 211.85Z" fill="rgba(70,70,70,0.056)" stroke="rgb(25,25,25)" stroke-width="1.50"/>
<path d="M144.01 211.96C144.80 210.94 146.26 210.57 148.02 210.15C149.78 209.73 152.67 209.34 154.58 209.45C156.49 209.56 158.49 209.87 159.49 210.81C160.49 211.75 160.47 213.39 160.58 215.09C160.68 216.80 160.69 219.35 160.12 221.03C159.55 222.71 158.50 224.39 157.16 225.18C155.83 225.96 153.62 225.86 152.10 225.75C150.58 225.65 149.19 225.38 148.05 224.53C146.92 223.69 146.07 222.04 145.28 220.67C144.48 219.29 143.48 217.75 143.27 216.30C143.06 214.85 143.22 212.99 144.01 211.96Z" fill="rgba(70,70,70,0.056)" stroke="rgb(117,117,117)" stroke-width="0.60"/>
<path d="M144.52 212.28C145.21 211.41 146.51 211.13 148.14 210.78C149.77 210.43 152.50 210.17 154.31 210.20C156.11 210.24 158.05 210.14 158.97 210.98C159.89 211.82 159.82 213.70 159.83 215.25C159.84 216.80 159.49 218.76 159.05 220.30C158.60 221.85 158.34 223.68 157.15 224.53C155.96 225.38 153.41 225.61 151.91 225.39C150.41 225.18 149.17 224.09 148.16 223.25C147.16 222.41 146.58 221.57 145.88 220.37C145.19 219.16 144.23 217.37 144.00 216.03C143.77 214.68 143.83 213.16 144.52 212.28Z" fill="rgba(70,70,70,0.056)" stroke="rgb(109,109,109)" stroke-width="0.64"/>
<path d="M145.60 212.78C146.18 211.99 146.93 211.58 148.36 211.21C149.79 210.84 152.50 210.54 154.19 210.58C155.89 210.62 157.71 210.64 158.53 211.46C159.34 212.27 159.13 214.05 159.09 215.47C159.04 216.89 158.72 218.67 158.24 219.98C157.77 221.28 157.31 222.61 156.25 223.30C155.20 223.99 153.11 224.24 151.91 224.13C150.70 224.02 149.98 223.40 149.03 222.66C148.08 221.92 146.89 220.79 146.20 219.68C145.52 218.57 145.02 217.15 144.92 216.00C144.82 214.85 145.03 213.58 145.60 212.78Z" fill="rgba(70,70,70,0.056)" stroke="rgb(101,101,101)" stroke-width="0.69"/>
<path d="M146.02 213.42C146.53 212.68 147.15 211.64 148.44 211.32C149.74 211.00 152.30 211.28 153.78 211.49C155.25 211.71 156.49 211.92 157.30 212.61C158.10 213.29 158.57 214.45 158.61 215.60C158.66 216.75 157.95 218.29 157.56 219.50C157.16 220.71 157.19 222.23 156.24 222.87C155.28 223.50 153.00 223.45 151.83 223.28C150.66 223.12 149.94 222.55 149.20 221.88C148.46 221.20 148.03 220.24 147.39 219.23C146.76 218.22 145.61 216.78 145.38 215.81C145.15 214.84 145.51 214.17 146.02 213.42Z" fill="rgba(70,70,70,0.056)" stroke="rgb(93,93,93)" stroke-width="0.74"/>
<path d="M147.16 213.79C147.52 213.12 147.83 212.42 148.96 212.18C150.08 211.93 152.61 212.23 153.90 212.31C155.20 212.38 156.15 212.11 156.74 212.62C157.33 213.13 157.39 214.28 157.44 215.39C157.49 216.51 157.38 218.31 157.03 219.31C156.68 220.31 156.21 220.88 155.36 221.40C154.52 221.92 152.98 222.42 151.96 222.42C150.94 222.43 149.88 222.09 149.22 221.44C148.56 220.79 148.44 219.40 148.03 218.52C147.61 217.65 146.89 216.98 146.75 216.19C146.60 215.40 146.79 214.46 147.16 213.79Z" fill="rgba(70,70,70,0.056)" stroke="rgb(85,85,85)" stroke-width="0.78"/>
<path d="M147.51 213.96C147.92 213.38 148.88 212.85 149.90 212.68C150.92 212.51 152.63 212.76 153.64 212.93C154.65 213.10 155.44 213.26 155.97 213.69C156.49 214.11 156.74 214.69 156.80 215.48C156.85 216.28 156.63 217.57 156.31 218.44C155.98 219.32 155.59 220.27 154.84 220.73C154.09 221.19 152.58 221.31 151.80 221.19C151.02 221.07 150.72 220.52 150.16 220.00C149.60 219.48 148.87 218.71 148.41 218.07C147.96 217.43 147.58 216.84 147.43 216.15C147.28 215.47 147.10 214.53 147.51 213.96Z" fill="rgba(70,70,70,0.056)" stroke="rgb(77,77,77)" stroke-width="0.83"/>
<path d="M148.78 214.48C149.11 214.00 149.53 213.51 150.27 213.40C151.02 213.28 152.47 213.73 153.25 213.80C154.02 213.86 154.49 213.47 154.90 213.78C155.31 214.09 155.65 214.96 155.70 215.65C155.76 216.35 155.48 217.25 155.22 217.94C154.96 218.63 154.65 219.44 154.12 219.78C153.60 220.13 152.67 220.11 152.06 220.03C151.44 219.95 150.88 219.67 150.43 219.30C149.99 218.93 149.75 218.31 149.39 217.82C149.03 217.32 148.39 216.87 148.29 216.31C148.19 215.76 148.45 214.97 148.78 214.48Z" fill="rgba(70,70,70,0.056)" stroke="rgb(68,68,68)" stroke-width="0.88"/>
<path d="M149.44 215.04C149.62 214.69 150.17 214.32 150.75 214.20C151.33 214.08 152.35 214.28 152.89 214.33C153.43 214.37 153.71 214.18 153.98 214.48C154.26 214.77 154.56 215.57 154.55 216.07C154.54 216.58 154.11 217.04 153.92 217.50C153.73 217.96 153.76 218.58 153.39 218.82C153.01 219.07 152.10 219.01 151.65 218.96C151.21 218.90 151.03 218.75 150.73 218.48C150.43 218.20 150.05 217.67 149.88 217.31C149.70 216.95 149.75 216.69 149.68 216.31C149.60 215.93 149.26 215.39 149.44 215.04Z" fill="rgba(70,70,70,0.056)" stroke="rgb(60,60,60)" stroke-width="0.92"/>
<path d="M150.53 215.31C150.63 215.11 150.75 215.12 151.04 215.09C151.34 215.06 151.96 215.08 152.30 215.13C152.64 215.18 152.89 215.24 153.06 215.39C153.22 215.55 153.25 215.82 153.29 216.08C153.32 216.34 153.36 216.73 153.25 216.94C153.14 217.14 152.83 217.19 152.62 217.31C152.42 217.42 152.23 217.58 152.01 217.62C151.79 217.66 151.46 217.70 151.29 217.56C151.12 217.42 151.13 216.98 150.99 216.78C150.86 216.57 150.53 216.57 150.46 216.32C150.38 216.08 150.44 215.52 150.53 215.31Z" fill="rgba(70,70,70,0.056)" stroke="rgb(52,52,52)" stroke-width="0.97"/>
<ellipse cx="151.90" cy="215.60" rx="2.00" ry="1.60" fill="#fff" opacity="0.85"/>
</g>
<line x1="145.90" y1="199.10" x2="150.70" y2="251.30" stroke="#555" stroke-width="0.65" />
<line x1="127.90" y1="231.40" x2="179.90" y2="230.80" stroke="#555" stroke-width="0.65" />
<rect x="127.90" y="199.10" width="52.00" height="52.20" fill="none" stroke="#222" stroke-width="1"/>
<line x1="132.70" y1="251.30" x2="132.70" y2="252.60" stroke="#222" stroke-width="0.7" />
<line x1="139.50" y1="251.30" x2="139.50" y2="252.60" stroke="#222" stroke-width="0.7" />
<line x1="148.30" y1="251.30" x2="148.30" y2="252.60" stroke="#222" stroke-width="0.7" />
<line x1="163.30" y1="251.30" x2="163.30" y2="252.60" stroke="#222" stroke-width="0.7" />
<line x1="176.50" y1="251.30" x2="176.50" y2="252.60" stroke="#222" stroke-width="0.7" />
<rect x="138.30" y="251.10" width="2.4" height="1.6" fill="#111"/>
<line x1="126.60" y1="203.80" x2="127.90" y2="203.80" stroke="#222" stroke-width="0.7" />
<line x1="126.60" y1="216.30" x2="127.90" y2="216.30" stroke="#222" stroke-width="0.7" />
<line x1="126.60" y1="230.30" x2="127.90" y2="230.30" stroke="#222" stroke-width="0.7" />
<line x1="126.60" y1="248.60" x2="127.90" y2="248.60" stroke="#222" stroke-width="0.7" />
<rect x="126.50" y="236.60" width="1.6" height="2.4" fill="#111"/>
<text x="130.10" y="205.50" font-size="5.5" text-anchor="start" font-weight="normal" fill="#222"  stroke="#222" stroke-width="0.16">9.03</text>
<text x="177.70" y="205.50" font-size="5.5" text-anchor="end" font-weight="normal" fill="#222"  stroke="#222" stroke-width="0.16">68.2</text>
<text x="130.10" y="249.30" font-size="5.5" text-anchor="start" font-weight="normal" fill="#222"  stroke="#222" stroke-width="0.16">11.0</text>
<text x="177.70" y="249.30" font-size="5.5" text-anchor="end" font-weight="normal" fill="#222"  stroke="#222" stroke-width="0.16">11.7</text>
<text x="125.70" y="206.10" font-size="6.5" text-anchor="end" font-weight="normal" fill="#222"  stroke="#222" stroke-width="0.16">10<tspan font-size="4.7" dy="-2.6">5</tspan></text>
<text x="125.70" y="218.60" font-size="6.5" text-anchor="end" font-weight="normal" fill="#222"  stroke="#222" stroke-width="0.16">10<tspan font-size="4.7" dy="-2.6">4</tspan></text>
<text x="125.70" y="232.60" font-size="6.5" text-anchor="end" font-weight="normal" fill="#222"  stroke="#222" stroke-width="0.16">10<tspan font-size="4.7" dy="-2.6">3</tspan></text>
<text x="125.70" y="250.90" font-size="6.5" text-anchor="end" font-weight="normal" fill="#222"  stroke="#222" stroke-width="0.16">-10<tspan font-size="4.7" dy="-2.6">3</tspan></text>
<text x="130.50" y="261.30" font-size="6.5" text-anchor="middle" font-weight="normal" fill="#222"  stroke="#222" stroke-width="0.16">-10<tspan font-size="4.7" dy="-2.6">3</tspan></text>
<text x="139.90" y="261.30" font-size="6.5" text-anchor="middle" font-weight="normal" fill="#222"  stroke="#222" stroke-width="0.16">0</text>
<text x="148.50" y="261.30" font-size="6.5" text-anchor="middle" font-weight="normal" fill="#222"  stroke="#222" stroke-width="0.16">10<tspan font-size="4.7" dy="-2.6">3</tspan></text>
<text x="163.50" y="261.30" font-size="6.5" text-anchor="middle" font-weight="normal" fill="#222"  stroke="#222" stroke-width="0.16">10<tspan font-size="4.7" dy="-2.6">4</tspan></text>
<text x="176.50" y="261.30" font-size="6.5" text-anchor="middle" font-weight="normal" fill="#222"  stroke="#222" stroke-width="0.16">10<tspan font-size="4.7" dy="-2.6">5</tspan></text>
</g>
<g>
<clipPath id="c202_199"><rect x="202.00" y="199.10" width="52.40" height="52.20"/></clipPath>
<g clip-path="url(#c202_199)">
<path d="M217.02 226.47C217.75 225.26 220.14 225.39 221.77 225.93C223.41 226.47 225.97 227.87 226.82 229.70C227.67 231.53 227.39 235.06 226.87 236.91C226.36 238.77 224.96 240.05 223.74 240.85C222.53 241.65 221.07 241.75 219.58 241.69C218.10 241.63 215.21 241.91 214.84 240.50C214.47 239.08 217.01 235.53 217.37 233.19C217.73 230.86 216.28 227.68 217.02 226.47Z" fill="rgba(70,70,70,0.024)" stroke="rgb(154,154,154)" stroke-width="0.55"/>
<path d="M217.57 227.67C218.23 226.75 220.57 227.31 221.88 227.90C223.20 228.49 224.77 229.78 225.46 231.21C226.14 232.64 226.37 235.07 226.00 236.49C225.62 237.91 224.12 239.09 223.20 239.70C222.29 240.32 221.61 240.28 220.49 240.19C219.37 240.09 216.91 240.27 216.48 239.13C216.06 238.00 217.75 235.28 217.93 233.37C218.11 231.46 216.91 228.58 217.57 227.67Z" fill="rgba(70,70,70,0.024)" stroke="rgb(143,143,143)" stroke-width="0.61"/>
<path d="M219.22 230.00C219.56 229.41 220.47 229.76 221.26 230.16C222.05 230.56 223.51 231.50 223.98 232.40C224.45 233.30 224.33 234.74 224.07 235.56C223.80 236.39 223.04 236.92 222.39 237.36C221.75 237.79 220.90 238.26 220.21 238.17C219.53 238.08 218.48 237.57 218.31 236.84C218.13 236.10 219.01 234.88 219.17 233.74C219.32 232.60 218.87 230.60 219.22 230.00Z" fill="rgba(70,70,70,0.024)" stroke="rgb(133,133,133)" stroke-width="0.67"/>
<path d="M220.39 233.03C220.51 232.87 220.87 232.99 221.11 233.10C221.34 233.21 221.65 233.48 221.78 233.70C221.92 233.92 222.00 234.19 221.92 234.42C221.83 234.66 221.42 234.95 221.27 235.09C221.12 235.23 221.20 235.29 221.02 235.25C220.83 235.22 220.26 235.09 220.16 234.89C220.06 234.69 220.38 234.37 220.42 234.06C220.46 233.75 220.28 233.19 220.39 233.03Z" fill="rgba(70,70,70,0.024)" stroke="rgb(122,122,122)" stroke-width="0.73"/>
<path d="M215.14 218.98C215.76 216.93 217.98 213.29 219.85 211.66C221.71 210.03 224.22 210.41 226.30 209.21C228.39 208.01 230.56 204.97 232.36 204.44C234.17 203.91 236.14 204.69 237.15 206.03C238.15 207.38 238.77 210.20 238.38 212.49C237.99 214.79 236.19 217.60 234.81 219.80C233.44 222.00 231.92 224.49 230.13 225.68C228.34 226.87 225.94 226.80 224.06 226.92C222.19 227.05 220.20 226.91 218.88 226.41C217.55 225.91 216.74 225.16 216.11 223.92C215.49 222.68 214.51 221.02 215.14 218.98Z" fill="rgba(70,70,70,0.060)" stroke="rgb(60,60,60)" stroke-width="1.10"/>
<path d="M216.59 218.82C217.14 216.93 218.57 213.68 220.13 212.13C221.70 210.57 224.07 210.61 225.97 209.50C227.88 208.39 229.70 206.01 231.56 205.45C233.41 204.90 236.15 205.07 237.11 206.18C238.07 207.29 237.76 209.85 237.31 212.10C236.86 214.34 235.68 217.57 234.41 219.65C233.15 221.74 231.41 223.50 229.73 224.60C228.04 225.69 225.94 225.97 224.30 226.21C222.66 226.44 221.14 226.48 219.88 226.03C218.63 225.57 217.33 224.65 216.78 223.45C216.23 222.25 216.03 220.70 216.59 218.82Z" fill="rgba(70,70,70,0.060)" stroke="rgb(111,111,111)" stroke-width="0.61"/>
<path d="M217.86 218.71C218.39 217.08 220.06 214.02 221.40 212.62C222.74 211.22 224.34 211.30 225.91 210.30C227.48 209.30 229.28 207.15 230.84 206.62C232.40 206.09 234.38 206.11 235.25 207.13C236.12 208.14 236.30 210.68 236.06 212.68C235.82 214.68 234.90 217.21 233.81 219.12C232.71 221.02 231.03 223.10 229.49 224.12C227.96 225.14 226.15 225.14 224.59 225.24C223.03 225.35 221.18 225.21 220.13 224.74C219.07 224.27 218.61 223.42 218.23 222.41C217.86 221.41 217.34 220.34 217.86 218.71Z" fill="rgba(70,70,70,0.060)" stroke="rgb(100,100,100)" stroke-width="0.68"/>
<path d="M218.61 218.50C219.04 217.04 220.79 214.18 222.11 212.94C223.42 211.70 225.11 211.88 226.49 211.06C227.86 210.24 229.06 208.38 230.35 208.01C231.64 207.63 233.46 207.87 234.21 208.81C234.95 209.74 235.05 211.97 234.82 213.60C234.58 215.23 233.70 217.02 232.79 218.58C231.89 220.15 230.69 222.17 229.40 223.00C228.11 223.83 226.40 223.45 225.05 223.55C223.70 223.65 222.21 223.90 221.29 223.59C220.37 223.28 219.98 222.53 219.54 221.68C219.09 220.83 218.19 219.96 218.61 218.50Z" fill="rgba(70,70,70,0.060)" stroke="rgb(88,88,88)" stroke-width="0.74"/>
<path d="M220.48 217.59C220.86 216.44 222.18 214.53 223.16 213.64C224.15 212.75 225.31 212.98 226.38 212.25C227.45 211.53 228.45 209.73 229.59 209.31C230.72 208.90 232.54 209.04 233.19 209.75C233.84 210.45 233.73 212.14 233.50 213.55C233.27 214.95 232.64 216.79 231.81 218.18C230.99 219.56 229.58 221.12 228.53 221.84C227.48 222.55 226.51 222.37 225.50 222.46C224.48 222.56 223.20 222.71 222.42 222.40C221.65 222.08 221.17 221.36 220.85 220.56C220.52 219.76 220.09 218.75 220.48 217.59Z" fill="rgba(70,70,70,0.060)" stroke="rgb(77,77,77)" stroke-width="0.81"/>
<path d="M221.95 217.37C222.25 216.53 222.99 215.08 223.71 214.38C224.43 213.69 225.35 213.78 226.27 213.21C227.20 212.64 228.38 211.28 229.26 210.97C230.14 210.66 231.10 210.77 231.56 211.37C232.01 211.98 232.15 213.48 232.00 214.60C231.84 215.72 231.20 217.15 230.61 218.09C230.03 219.04 229.29 219.75 228.50 220.27C227.71 220.78 226.71 221.07 225.87 221.19C225.03 221.31 224.14 221.29 223.48 221.00C222.81 220.71 222.14 220.03 221.89 219.43C221.63 218.82 221.64 218.21 221.95 217.37Z" fill="rgba(70,70,70,0.060)" stroke="rgb(66,66,66)" stroke-width="0.87"/>
<path d="M223.46 217.09C223.65 216.51 224.34 215.29 224.84 214.75C225.33 214.21 225.81 214.15 226.45 213.85C227.10 213.54 228.12 213.03 228.71 212.91C229.30 212.78 229.70 212.77 229.99 213.07C230.27 213.37 230.50 214.04 230.41 214.72C230.33 215.41 229.93 216.45 229.47 217.17C229.01 217.88 228.24 218.62 227.65 219.00C227.06 219.38 226.43 219.40 225.90 219.47C225.36 219.55 224.80 219.67 224.44 219.46C224.07 219.24 223.87 218.57 223.71 218.18C223.54 217.78 223.27 217.66 223.46 217.09Z" fill="rgba(70,70,70,0.060)" stroke="rgb(55,55,55)" stroke-width="0.94"/>
<path d="M225.06 216.35C225.17 216.04 225.53 215.49 225.85 215.29C226.17 215.10 226.67 215.28 226.97 215.15C227.27 215.03 227.36 214.62 227.64 214.55C227.92 214.48 228.47 214.56 228.63 214.73C228.80 214.91 228.70 215.28 228.63 215.60C228.57 215.93 228.43 216.38 228.25 216.69C228.07 217.00 227.81 217.28 227.55 217.48C227.29 217.68 227.02 217.85 226.71 217.90C226.40 217.94 225.94 217.86 225.70 217.74C225.45 217.61 225.34 217.39 225.23 217.16C225.13 216.92 224.96 216.66 225.06 216.35Z" fill="rgba(70,70,70,0.060)" stroke="rgb(43,43,43)" stroke-width="1.00"/>
<ellipse cx="226.00" cy="216.60" rx="1.80" ry="1.44" fill="#fff" opacity="0.85"/>
</g>
<line x1="220.50" y1="199.10" x2="224.70" y2="251.30" stroke="#555" stroke-width="0.65" />
<line x1="202.00" y1="231.40" x2="254.40" y2="230.90" stroke="#555" stroke-width="0.65" />
<rect x="202.00" y="199.10" width="52.40" height="52.20" fill="none" stroke="#222" stroke-width="1"/>
<line x1="206.80" y1="251.30" x2="206.80" y2="252.60" stroke="#222" stroke-width="0.7" />
<line x1="213.60" y1="251.30" x2="213.60" y2="252.60" stroke="#222" stroke-width="0.7" />
<line x1="222.40" y1="251.30" x2="222.40" y2="252.60" stroke="#222" stroke-width="0.7" />
<line x1="237.40" y1="251.30" x2="237.40" y2="252.60" stroke="#222" stroke-width="0.7" />
<line x1="250.60" y1="251.30" x2="250.60" y2="252.60" stroke="#222" stroke-width="0.7" />
<rect x="212.40" y="251.10" width="2.4" height="1.6" fill="#111"/>
<line x1="200.70" y1="203.80" x2="202.00" y2="203.80" stroke="#222" stroke-width="0.7" />
<line x1="200.70" y1="216.30" x2="202.00" y2="216.30" stroke="#222" stroke-width="0.7" />
<line x1="200.70" y1="230.30" x2="202.00" y2="230.30" stroke="#222" stroke-width="0.7" />
<line x1="200.70" y1="248.60" x2="202.00" y2="248.60" stroke="#222" stroke-width="0.7" />
<rect x="200.60" y="236.60" width="1.6" height="2.4" fill="#111"/>
<text x="204.20" y="205.50" font-size="5.5" text-anchor="start" font-weight="normal" fill="#222"  stroke="#222" stroke-width="0.16">11.4</text>
<text x="252.20" y="205.50" font-size="5.5" text-anchor="end" font-weight="normal" fill="#222"  stroke="#222" stroke-width="0.16">74.9</text>
<text x="204.20" y="249.30" font-size="5.5" text-anchor="start" font-weight="normal" fill="#222"  stroke="#222" stroke-width="0.16">6.94</text>
<text x="252.20" y="249.30" font-size="5.5" text-anchor="end" font-weight="normal" fill="#222"  stroke="#222" stroke-width="0.16">6.78</text>
<text x="199.80" y="206.10" font-size="6.5" text-anchor="end" font-weight="normal" fill="#222"  stroke="#222" stroke-width="0.16">10<tspan font-size="4.7" dy="-2.6">5</tspan></text>
<text x="199.80" y="218.60" font-size="6.5" text-anchor="end" font-weight="normal" fill="#222"  stroke="#222" stroke-width="0.16">10<tspan font-size="4.7" dy="-2.6">4</tspan></text>
<text x="199.80" y="232.60" font-size="6.5" text-anchor="end" font-weight="normal" fill="#222"  stroke="#222" stroke-width="0.16">10<tspan font-size="4.7" dy="-2.6">3</tspan></text>
<text x="199.80" y="250.90" font-size="6.5" text-anchor="end" font-weight="normal" fill="#222"  stroke="#222" stroke-width="0.16">-10<tspan font-size="4.7" dy="-2.6">3</tspan></text>
<text x="204.60" y="261.30" font-size="6.5" text-anchor="middle" font-weight="normal" fill="#222"  stroke="#222" stroke-width="0.16">-10<tspan font-size="4.7" dy="-2.6">3</tspan></text>
<text x="214.00" y="261.30" font-size="6.5" text-anchor="middle" font-weight="normal" fill="#222"  stroke="#222" stroke-width="0.16">0</text>
<text x="222.60" y="261.30" font-size="6.5" text-anchor="middle" font-weight="normal" fill="#222"  stroke="#222" stroke-width="0.16">10<tspan font-size="4.7" dy="-2.6">3</tspan></text>
<text x="237.60" y="261.30" font-size="6.5" text-anchor="middle" font-weight="normal" fill="#222"  stroke="#222" stroke-width="0.16">10<tspan font-size="4.7" dy="-2.6">4</tspan></text>
<text x="250.60" y="261.30" font-size="6.5" text-anchor="middle" font-weight="normal" fill="#222"  stroke="#222" stroke-width="0.16">10<tspan font-size="4.7" dy="-2.6">5</tspan></text>
</g>
<g>
<clipPath id="c277_199"><rect x="277.00" y="199.10" width="52.00" height="52.20"/></clipPath>
<g clip-path="url(#c277_199)">
<path d="M289.93 237.45C290.25 236.28 290.48 234.39 291.61 233.15C292.74 231.90 294.95 230.56 296.71 229.98C298.47 229.41 300.80 229.00 302.16 229.72C303.53 230.44 304.54 232.58 304.89 234.28C305.25 235.99 305.35 238.54 304.31 239.94C303.26 241.34 300.57 242.29 298.63 242.71C296.69 243.14 294.17 242.92 292.69 242.49C291.20 242.07 290.17 241.02 289.71 240.18C289.25 239.34 289.61 238.63 289.93 237.45Z" fill="rgba(70,70,70,0.024)" stroke="rgb(154,154,154)" stroke-width="0.55"/>
<path d="M291.44 237.18C291.74 236.27 292.12 234.74 293.10 233.83C294.08 232.93 296.04 232.21 297.33 231.76C298.61 231.32 299.76 230.67 300.79 231.17C301.81 231.67 303.20 233.43 303.49 234.74C303.77 236.05 303.29 237.92 302.49 239.03C301.69 240.14 300.19 241.11 298.71 241.40C297.23 241.70 294.83 241.14 293.60 240.80C292.36 240.45 291.66 239.93 291.30 239.33C290.94 238.72 291.14 238.10 291.44 237.18Z" fill="rgba(70,70,70,0.024)" stroke="rgb(143,143,143)" stroke-width="0.61"/>
<path d="M293.77 236.74C293.92 236.17 294.20 235.13 294.71 234.57C295.22 234.02 296.03 233.67 296.83 233.39C297.62 233.12 298.83 232.63 299.48 232.94C300.14 233.25 300.63 234.36 300.75 235.24C300.87 236.13 300.71 237.63 300.21 238.26C299.72 238.88 298.62 238.92 297.78 239.02C296.93 239.12 295.82 239.02 295.15 238.85C294.48 238.68 294.00 238.34 293.77 237.99C293.54 237.64 293.61 237.31 293.77 236.74Z" fill="rgba(70,70,70,0.024)" stroke="rgb(133,133,133)" stroke-width="0.67"/>
<path d="M295.98 236.38C296.01 236.22 295.99 235.83 296.14 235.62C296.29 235.40 296.61 235.13 296.91 235.08C297.21 235.02 297.72 235.15 297.92 235.29C298.12 235.42 298.08 235.64 298.11 235.88C298.13 236.12 298.22 236.50 298.06 236.74C297.91 236.97 297.43 237.22 297.18 237.30C296.92 237.37 296.73 237.29 296.53 237.17C296.34 237.05 296.09 236.71 296.00 236.58C295.91 236.44 295.96 236.54 295.98 236.38Z" fill="rgba(70,70,70,0.024)" stroke="rgb(122,122,122)" stroke-width="0.73"/>
<path d="M288.59 216.77C288.89 215.05 290.72 212.82 292.08 211.23C293.44 209.64 294.72 208.11 296.73 207.23C298.74 206.35 301.94 205.82 304.14 205.93C306.34 206.05 308.47 206.94 309.92 207.92C311.37 208.90 312.44 210.05 312.84 211.79C313.24 213.52 312.97 216.39 312.31 218.31C311.66 220.23 310.09 222.07 308.89 223.31C307.69 224.54 306.80 225.16 305.11 225.72C303.43 226.29 300.83 226.87 298.79 226.70C296.75 226.53 294.31 225.58 292.89 224.72C291.48 223.86 291.00 222.85 290.28 221.53C289.56 220.20 288.29 218.49 288.59 216.77Z" fill="rgba(70,70,70,0.048)" stroke="rgb(133,133,133)" stroke-width="0.55"/>
<path d="M290.11 217.40C290.29 215.79 291.14 212.70 292.32 211.20C293.50 209.70 295.36 209.18 297.21 208.41C299.06 207.64 301.44 206.61 303.43 206.59C305.42 206.58 307.70 207.42 309.14 208.34C310.58 209.26 311.68 210.45 312.06 212.11C312.44 213.78 312.03 216.64 311.40 218.33C310.77 220.03 309.34 221.08 308.27 222.29C307.20 223.50 306.44 224.88 304.98 225.60C303.52 226.33 301.37 226.82 299.52 226.63C297.67 226.44 295.27 225.43 293.88 224.47C292.50 223.51 291.83 222.04 291.20 220.86C290.57 219.68 289.92 219.01 290.11 217.40Z" fill="rgba(70,70,70,0.048)" stroke="rgb(124,124,124)" stroke-width="0.60"/>
<path d="M291.35 217.12C291.69 215.66 292.86 213.09 293.95 211.71C295.04 210.33 296.26 209.48 297.88 208.83C299.49 208.17 301.87 207.71 303.64 207.78C305.40 207.84 307.36 208.31 308.47 209.21C309.58 210.11 310.08 211.73 310.29 213.17C310.50 214.60 310.17 216.42 309.72 217.82C309.26 219.23 308.42 220.45 307.56 221.58C306.71 222.72 305.99 224.08 304.59 224.63C303.20 225.19 300.94 225.15 299.18 224.92C297.43 224.69 295.26 223.99 294.05 223.25C292.83 222.51 292.35 221.47 291.90 220.45C291.45 219.43 291.01 218.58 291.35 217.12Z" fill="rgba(70,70,70,0.048)" stroke="rgb(115,115,115)" stroke-width="0.65"/>
<path d="M292.61 216.81C292.77 215.62 293.50 213.52 294.38 212.37C295.27 211.22 296.53 210.51 297.93 209.90C299.34 209.29 301.30 208.63 302.82 208.71C304.34 208.78 306.06 209.55 307.08 210.35C308.10 211.14 308.67 212.29 308.93 213.50C309.19 214.71 308.97 216.35 308.63 217.63C308.28 218.91 307.66 220.29 306.86 221.17C306.07 222.05 305.06 222.47 303.85 222.90C302.65 223.33 301.08 223.80 299.65 223.76C298.22 223.72 296.31 223.35 295.27 222.65C294.24 221.94 293.87 220.49 293.43 219.52C292.99 218.55 292.46 218.00 292.61 216.81Z" fill="rgba(70,70,70,0.048)" stroke="rgb(106,106,106)" stroke-width="0.70"/>
<path d="M294.09 216.38C294.23 215.45 294.81 214.13 295.57 213.28C296.32 212.44 297.39 211.77 298.59 211.31C299.79 210.86 301.47 210.60 302.76 210.55C304.06 210.51 305.57 210.46 306.36 211.03C307.15 211.61 307.30 212.95 307.51 213.99C307.71 215.03 307.95 216.24 307.60 217.27C307.26 218.29 306.15 219.34 305.44 220.14C304.72 220.95 304.23 221.68 303.33 222.09C302.42 222.50 301.18 222.77 300.03 222.59C298.88 222.42 297.30 221.64 296.42 221.01C295.53 220.39 295.10 219.62 294.71 218.85C294.32 218.08 293.94 217.31 294.09 216.38Z" fill="rgba(70,70,70,0.048)" stroke="rgb(97,97,97)" stroke-width="0.76"/>
<path d="M295.54 216.67C295.72 215.89 296.69 214.36 297.31 213.63C297.93 212.90 298.46 212.66 299.28 212.30C300.10 211.93 301.29 211.45 302.23 211.45C303.18 211.45 304.31 211.87 304.95 212.31C305.59 212.74 305.91 213.33 306.07 214.07C306.22 214.81 306.16 215.87 305.87 216.75C305.58 217.63 304.78 218.72 304.31 219.34C303.83 219.96 303.66 220.24 303.00 220.47C302.35 220.69 301.28 220.70 300.36 220.68C299.44 220.65 298.15 220.71 297.46 220.32C296.77 219.93 296.53 218.94 296.21 218.33C295.89 217.72 295.36 217.46 295.54 216.67Z" fill="rgba(70,70,70,0.048)" stroke="rgb(88,88,88)" stroke-width="0.81"/>
<path d="M297.41 216.29C297.53 215.76 298.14 214.89 298.55 214.46C298.96 214.04 299.33 214.00 299.87 213.75C300.40 213.50 301.12 213.01 301.76 212.97C302.40 212.92 303.27 213.14 303.73 213.48C304.19 213.82 304.41 214.47 304.51 215.00C304.61 215.54 304.53 216.17 304.32 216.69C304.12 217.21 303.65 217.67 303.28 218.10C302.90 218.53 302.54 219.05 302.09 219.28C301.64 219.50 301.19 219.49 300.57 219.43C299.96 219.38 298.84 219.23 298.38 218.94C297.91 218.65 297.96 218.11 297.80 217.67C297.64 217.23 297.28 216.83 297.41 216.29Z" fill="rgba(70,70,70,0.048)" stroke="rgb(79,79,79)" stroke-width="0.86"/>
<path d="M299.06 216.09C299.08 215.81 299.29 215.51 299.52 215.31C299.74 215.11 300.08 215.02 300.42 214.88C300.76 214.74 301.21 214.46 301.57 214.47C301.92 214.48 302.33 214.80 302.54 214.94C302.76 215.09 302.89 215.11 302.88 215.35C302.86 215.60 302.55 216.09 302.43 216.42C302.31 216.75 302.25 217.14 302.15 217.33C302.04 217.52 302.01 217.51 301.79 217.55C301.57 217.60 301.14 217.62 300.82 217.58C300.51 217.55 300.15 217.43 299.91 217.32C299.67 217.22 299.54 217.18 299.40 216.97C299.26 216.77 299.04 216.37 299.06 216.09Z" fill="rgba(70,70,70,0.048)" stroke="rgb(70,70,70)" stroke-width="0.91"/>
<ellipse cx="299.50" cy="217.10" rx="2.00" ry="1.60" fill="#fff" opacity="0.85"/>
</g>
<line x1="296.00" y1="199.10" x2="299.70" y2="251.30" stroke="#555" stroke-width="0.65" />
<line x1="277.00" y1="231.10" x2="329.00" y2="230.60" stroke="#555" stroke-width="0.65" />
<rect x="277.00" y="199.10" width="52.00" height="52.20" fill="none" stroke="#222" stroke-width="1"/>
<line x1="281.80" y1="251.30" x2="281.80" y2="252.60" stroke="#222" stroke-width="0.7" />
<line x1="288.60" y1="251.30" x2="288.60" y2="252.60" stroke="#222" stroke-width="0.7" />
<line x1="297.40" y1="251.30" x2="297.40" y2="252.60" stroke="#222" stroke-width="0.7" />
<line x1="312.40" y1="251.30" x2="312.40" y2="252.60" stroke="#222" stroke-width="0.7" />
<line x1="325.60" y1="251.30" x2="325.60" y2="252.60" stroke="#222" stroke-width="0.7" />
<rect x="287.40" y="251.10" width="2.4" height="1.6" fill="#111"/>
<line x1="275.70" y1="203.80" x2="277.00" y2="203.80" stroke="#222" stroke-width="0.7" />
<line x1="275.70" y1="216.30" x2="277.00" y2="216.30" stroke="#222" stroke-width="0.7" />
<line x1="275.70" y1="230.30" x2="277.00" y2="230.30" stroke="#222" stroke-width="0.7" />
<line x1="275.70" y1="248.60" x2="277.00" y2="248.60" stroke="#222" stroke-width="0.7" />
<rect x="275.60" y="236.60" width="1.6" height="2.4" fill="#111"/>
<text x="279.20" y="205.50" font-size="5.5" text-anchor="start" font-weight="normal" fill="#222"  stroke="#222" stroke-width="0.16">10.3</text>
<text x="326.80" y="205.50" font-size="5.5" text-anchor="end" font-weight="normal" fill="#222"  stroke="#222" stroke-width="0.16">76.5</text>
<text x="279.20" y="249.30" font-size="5.5" text-anchor="start" font-weight="normal" fill="#222"  stroke="#222" stroke-width="0.16">6.19</text>
<text x="326.80" y="249.30" font-size="5.5" text-anchor="end" font-weight="normal" fill="#222"  stroke="#222" stroke-width="0.16">7.04</text>
<text x="274.80" y="206.10" font-size="6.5" text-anchor="end" font-weight="normal" fill="#222"  stroke="#222" stroke-width="0.16">10<tspan font-size="4.7" dy="-2.6">5</tspan></text>
<text x="274.80" y="218.60" font-size="6.5" text-anchor="end" font-weight="normal" fill="#222"  stroke="#222" stroke-width="0.16">10<tspan font-size="4.7" dy="-2.6">4</tspan></text>
<text x="274.80" y="232.60" font-size="6.5" text-anchor="end" font-weight="normal" fill="#222"  stroke="#222" stroke-width="0.16">10<tspan font-size="4.7" dy="-2.6">3</tspan></text>
<text x="274.80" y="250.90" font-size="6.5" text-anchor="end" font-weight="normal" fill="#222"  stroke="#222" stroke-width="0.16">-10<tspan font-size="4.7" dy="-2.6">3</tspan></text>
<text x="279.60" y="261.30" font-size="6.5" text-anchor="middle" font-weight="normal" fill="#222"  stroke="#222" stroke-width="0.16">-10<tspan font-size="4.7" dy="-2.6">3</tspan></text>
<text x="289.00" y="261.30" font-size="6.5" text-anchor="middle" font-weight="normal" fill="#222"  stroke="#222" stroke-width="0.16">0</text>
<text x="297.60" y="261.30" font-size="6.5" text-anchor="middle" font-weight="normal" fill="#222"  stroke="#222" stroke-width="0.16">10<tspan font-size="4.7" dy="-2.6">3</tspan></text>
<text x="312.60" y="261.30" font-size="6.5" text-anchor="middle" font-weight="normal" fill="#222"  stroke="#222" stroke-width="0.16">10<tspan font-size="4.7" dy="-2.6">4</tspan></text>
<text x="325.60" y="261.30" font-size="6.5" text-anchor="middle" font-weight="normal" fill="#222"  stroke="#222" stroke-width="0.16">10<tspan font-size="4.7" dy="-2.6">5</tspan></text>
</g>
<g>
<clipPath id="c351_199"><rect x="351.60" y="199.10" width="52.40" height="52.20"/></clipPath>
<g clip-path="url(#c351_199)">
<path d="M362.64 215.26C363.21 213.26 366.78 209.11 368.38 208.77C369.98 208.43 371.36 210.72 372.23 213.22C373.11 215.71 372.41 221.09 373.62 223.76C374.84 226.43 378.17 227.92 379.53 229.25C380.89 230.58 381.54 230.10 381.78 231.73C382.02 233.37 381.83 237.66 380.96 239.06C380.09 240.47 377.85 241.02 376.57 240.16C375.28 239.30 374.61 236.03 373.25 233.91C371.88 231.79 369.76 229.63 368.38 227.45C367.00 225.26 365.92 222.84 364.96 220.81C364.00 218.78 362.06 217.27 362.64 215.26Z" fill="rgba(70,70,70,0.000)" stroke="rgb(154,154,154)" stroke-width="0.55"/>
<path d="M365.95 217.71C366.38 216.44 368.54 214.52 369.57 214.39C370.60 214.25 371.61 215.34 372.13 216.88C372.66 218.42 371.96 221.94 372.71 223.61C373.45 225.29 375.67 226.00 376.59 226.93C377.50 227.85 378.06 228.06 378.20 229.17C378.34 230.27 378.02 232.76 377.41 233.54C376.80 234.32 375.30 234.39 374.52 233.85C373.74 233.31 373.53 231.66 372.75 230.29C371.96 228.93 370.77 227.04 369.81 225.65C368.85 224.26 367.61 223.28 366.97 221.96C366.33 220.63 365.52 218.97 365.95 217.71Z" fill="rgba(70,70,70,0.000)" stroke="rgb(138,138,138)" stroke-width="0.64"/>
<path d="M370.11 221.94C370.21 221.70 370.95 221.25 371.20 221.16C371.45 221.06 371.46 221.02 371.60 221.38C371.75 221.73 371.86 222.88 372.07 223.31C372.28 223.74 372.70 223.79 372.85 223.97C373.00 224.14 372.92 224.05 372.95 224.33C372.98 224.62 373.19 225.43 373.05 225.65C372.92 225.88 372.35 225.82 372.15 225.66C371.94 225.51 372.00 225.04 371.81 224.75C371.63 224.46 371.23 224.28 371.03 223.92C370.83 223.57 370.77 222.92 370.62 222.59C370.47 222.26 370.02 222.18 370.11 221.94Z" fill="rgba(70,70,70,0.000)" stroke="rgb(122,122,122)" stroke-width="0.73"/>
<path d="M370.19 209.22C371.20 208.09 373.49 206.34 375.41 205.93C377.34 205.51 379.91 206.08 381.75 206.73C383.59 207.38 385.46 208.22 386.48 209.85C387.49 211.47 387.84 214.20 387.82 216.46C387.81 218.73 387.34 221.71 386.39 223.41C385.45 225.11 383.77 225.92 382.17 226.67C380.56 227.43 378.52 228.03 376.78 227.96C375.03 227.90 372.89 227.76 371.70 226.28C370.50 224.80 369.99 221.35 369.60 219.08C369.21 216.80 369.28 214.30 369.38 212.66C369.47 211.01 369.19 210.34 370.19 209.22Z" fill="rgba(70,70,70,0.056)" stroke="rgb(126,126,126)" stroke-width="0.55"/>
<path d="M371.06 209.68C372.03 208.50 373.88 206.79 375.58 206.40C377.28 206.02 379.56 206.71 381.26 207.37C382.97 208.03 384.80 208.90 385.81 210.36C386.81 211.82 387.29 214.04 387.29 216.13C387.30 218.21 386.68 221.12 385.86 222.86C385.05 224.61 383.97 225.88 382.42 226.60C380.88 227.32 378.39 227.33 376.59 227.19C374.78 227.06 372.74 227.10 371.61 225.78C370.48 224.45 370.13 221.28 369.82 219.23C369.51 217.19 369.55 215.09 369.76 213.50C369.96 211.91 370.09 210.87 371.06 209.68Z" fill="rgba(70,70,70,0.056)" stroke="rgb(116,116,116)" stroke-width="0.60"/>
<path d="M371.84 210.30C372.76 209.13 374.63 207.25 376.18 206.95C377.73 206.65 379.66 207.84 381.15 208.49C382.64 209.15 384.35 209.53 385.13 210.87C385.91 212.21 385.79 214.66 385.83 216.52C385.88 218.38 386.03 220.59 385.40 222.06C384.76 223.52 383.39 224.54 382.01 225.30C380.63 226.06 378.74 226.68 377.13 226.61C375.51 226.53 373.39 226.18 372.32 224.85C371.24 223.53 370.95 220.47 370.68 218.66C370.41 216.84 370.50 215.35 370.70 213.96C370.89 212.56 370.93 211.46 371.84 210.30Z" fill="rgba(70,70,70,0.056)" stroke="rgb(107,107,107)" stroke-width="0.66"/>
<path d="M372.01 211.09C372.74 210.23 374.86 208.97 376.28 208.67C377.70 208.38 379.24 208.73 380.50 209.30C381.76 209.87 383.10 210.96 383.84 212.10C384.57 213.24 384.79 214.58 384.92 216.15C385.06 217.71 385.27 220.13 384.64 221.49C384.01 222.84 382.41 223.64 381.14 224.28C379.88 224.92 378.42 225.37 377.07 225.31C375.72 225.25 373.99 225.04 373.05 223.93C372.10 222.82 371.59 220.36 371.41 218.67C371.22 216.99 371.81 215.06 371.91 213.80C372.01 212.53 371.28 211.94 372.01 211.09Z" fill="rgba(70,70,70,0.056)" stroke="rgb(98,98,98)" stroke-width="0.71"/>
<path d="M373.21 212.02C373.75 211.21 374.85 210.06 376.02 209.73C377.19 209.39 379.03 209.51 380.21 210.02C381.40 210.54 382.42 211.73 383.11 212.83C383.79 213.92 384.24 215.18 384.33 216.59C384.42 217.99 384.21 220.12 383.64 221.25C383.07 222.38 382.00 222.88 380.92 223.38C379.83 223.87 378.31 224.35 377.14 224.23C375.96 224.11 374.68 223.66 373.85 222.67C373.01 221.67 372.33 219.62 372.15 218.27C371.96 216.92 372.57 215.60 372.75 214.56C372.92 213.51 372.66 212.82 373.21 212.02Z" fill="rgba(70,70,70,0.056)" stroke="rgb(89,89,89)" stroke-width="0.76"/>
<path d="M373.94 212.85C374.47 212.25 375.50 211.48 376.43 211.25C377.36 211.02 378.59 211.15 379.50 211.47C380.42 211.79 381.41 212.36 381.92 213.17C382.43 213.98 382.51 215.11 382.57 216.32C382.64 217.53 382.70 219.37 382.30 220.42C381.91 221.48 381.08 222.26 380.20 222.66C379.32 223.05 378.00 222.88 377.02 222.77C376.03 222.66 374.86 222.73 374.29 222.00C373.72 221.28 373.76 219.60 373.59 218.42C373.42 217.23 373.21 215.80 373.26 214.87C373.32 213.94 373.41 213.45 373.94 212.85Z" fill="rgba(70,70,70,0.056)" stroke="rgb(80,80,80)" stroke-width="0.81"/>
<path d="M374.91 214.10C375.35 213.64 376.22 212.87 376.97 212.70C377.73 212.53 378.79 212.84 379.43 213.08C380.07 213.31 380.44 213.50 380.82 214.12C381.20 214.74 381.69 215.85 381.73 216.79C381.76 217.73 381.39 219.04 381.03 219.75C380.67 220.46 380.17 220.72 379.57 221.07C378.96 221.42 378.15 221.90 377.40 221.84C376.64 221.77 375.52 221.38 375.03 220.69C374.54 220.00 374.57 218.57 374.45 217.70C374.34 216.84 374.26 216.09 374.34 215.49C374.41 214.89 374.47 214.57 374.91 214.10Z" fill="rgba(70,70,70,0.056)" stroke="rgb(70,70,70)" stroke-width="0.86"/>
<path d="M375.67 214.91C375.95 214.55 376.77 214.17 377.27 214.01C377.78 213.86 378.30 213.78 378.71 213.99C379.13 214.20 379.51 214.84 379.76 215.28C380.02 215.71 380.17 216.01 380.23 216.59C380.30 217.18 380.36 218.25 380.17 218.80C379.97 219.36 379.57 219.68 379.08 219.91C378.60 220.13 377.74 220.21 377.25 220.15C376.75 220.09 376.43 219.96 376.09 219.55C375.76 219.13 375.33 218.24 375.25 217.69C375.16 217.13 375.53 216.67 375.60 216.21C375.67 215.74 375.39 215.28 375.67 214.91Z" fill="rgba(70,70,70,0.056)" stroke="rgb(61,61,61)" stroke-width="0.92"/>
<path d="M376.51 215.85C376.70 215.67 377.08 215.29 377.34 215.23C377.60 215.16 377.84 215.34 378.08 215.46C378.32 215.58 378.57 215.72 378.76 215.94C378.96 216.17 379.26 216.47 379.26 216.82C379.26 217.16 378.89 217.73 378.75 217.99C378.60 218.26 378.62 218.26 378.41 218.42C378.19 218.58 377.71 218.94 377.43 218.95C377.15 218.96 376.93 218.77 376.74 218.48C376.55 218.20 376.39 217.61 376.30 217.25C376.21 216.89 376.17 216.55 376.20 216.31C376.24 216.08 376.32 216.03 376.51 215.85Z" fill="rgba(70,70,70,0.056)" stroke="rgb(52,52,52)" stroke-width="0.97"/>
<ellipse cx="377.60" cy="219.10" rx="2.00" ry="1.60" fill="#fff" opacity="0.85"/>
</g>
<line x1="369.10" y1="199.10" x2="373.80" y2="251.30" stroke="#555" stroke-width="0.65" />
<line x1="351.60" y1="231.10" x2="404.00" y2="230.70" stroke="#555" stroke-width="0.65" />
<rect x="351.60" y="199.10" width="52.40" height="52.20" fill="none" stroke="#222" stroke-width="1"/>
<line x1="356.40" y1="251.30" x2="356.40" y2="252.60" stroke="#222" stroke-width="0.7" />
<line x1="363.20" y1="251.30" x2="363.20" y2="252.60" stroke="#222" stroke-width="0.7" />
<line x1="372.00" y1="251.30" x2="372.00" y2="252.60" stroke="#222" stroke-width="0.7" />
<line x1="387.00" y1="251.30" x2="387.00" y2="252.60" stroke="#222" stroke-width="0.7" />
<line x1="400.20" y1="251.30" x2="400.20" y2="252.60" stroke="#222" stroke-width="0.7" />
<rect x="362.00" y="251.10" width="2.4" height="1.6" fill="#111"/>
<line x1="350.30" y1="203.80" x2="351.60" y2="203.80" stroke="#222" stroke-width="0.7" />
<line x1="350.30" y1="216.30" x2="351.60" y2="216.30" stroke="#222" stroke-width="0.7" />
<line x1="350.30" y1="230.30" x2="351.60" y2="230.30" stroke="#222" stroke-width="0.7" />
<line x1="350.30" y1="248.60" x2="351.60" y2="248.60" stroke="#222" stroke-width="0.7" />
<rect x="350.20" y="236.60" width="1.6" height="2.4" fill="#111"/>
<text x="353.80" y="205.50" font-size="5.5" text-anchor="start" font-weight="normal" fill="#222"  stroke="#222" stroke-width="0.16">10.3</text>
<text x="401.80" y="205.50" font-size="5.5" text-anchor="end" font-weight="normal" fill="#222"  stroke="#222" stroke-width="0.16">83.1</text>
<text x="353.80" y="249.30" font-size="5.5" text-anchor="start" font-weight="normal" fill="#222"  stroke="#222" stroke-width="0.16">2.40</text>
<text x="401.80" y="249.30" font-size="5.5" text-anchor="end" font-weight="normal" fill="#222"  stroke="#222" stroke-width="0.16">4.27</text>
<text x="349.40" y="206.10" font-size="6.5" text-anchor="end" font-weight="normal" fill="#222"  stroke="#222" stroke-width="0.16">10<tspan font-size="4.7" dy="-2.6">5</tspan></text>
<text x="349.40" y="218.60" font-size="6.5" text-anchor="end" font-weight="normal" fill="#222"  stroke="#222" stroke-width="0.16">10<tspan font-size="4.7" dy="-2.6">4</tspan></text>
<text x="349.40" y="232.60" font-size="6.5" text-anchor="end" font-weight="normal" fill="#222"  stroke="#222" stroke-width="0.16">10<tspan font-size="4.7" dy="-2.6">3</tspan></text>
<text x="349.40" y="250.90" font-size="6.5" text-anchor="end" font-weight="normal" fill="#222"  stroke="#222" stroke-width="0.16">-10<tspan font-size="4.7" dy="-2.6">3</tspan></text>
<text x="354.20" y="261.30" font-size="6.5" text-anchor="middle" font-weight="normal" fill="#222"  stroke="#222" stroke-width="0.16">-10<tspan font-size="4.7" dy="-2.6">3</tspan></text>
<text x="363.60" y="261.30" font-size="6.5" text-anchor="middle" font-weight="normal" fill="#222"  stroke="#222" stroke-width="0.16">0</text>
<text x="372.20" y="261.30" font-size="6.5" text-anchor="middle" font-weight="normal" fill="#222"  stroke="#222" stroke-width="0.16">10<tspan font-size="4.7" dy="-2.6">3</tspan></text>
<text x="387.20" y="261.30" font-size="6.5" text-anchor="middle" font-weight="normal" fill="#222"  stroke="#222" stroke-width="0.16">10<tspan font-size="4.7" dy="-2.6">4</tspan></text>
<text x="400.20" y="261.30" font-size="6.5" text-anchor="middle" font-weight="normal" fill="#222"  stroke="#222" stroke-width="0.16">10<tspan font-size="4.7" dy="-2.6">5</tspan></text>
</g>
<g>
<clipPath id="c426_199"><rect x="426.20" y="199.10" width="52.00" height="52.20"/></clipPath>
<g clip-path="url(#c426_199)">
<path d="M433.17 232.42C433.95 231.23 435.69 230.13 438.20 229.98C440.71 229.82 445.85 230.65 448.24 231.48C450.63 232.32 452.08 233.62 452.56 235.00C453.05 236.37 452.61 238.48 451.17 239.73C449.73 240.97 446.28 242.17 443.94 242.46C441.60 242.75 438.86 242.35 437.13 241.46C435.40 240.57 434.20 238.62 433.54 237.12C432.88 235.61 432.40 233.61 433.17 232.42Z" fill="rgba(70,70,70,0.028)" stroke="rgb(150,150,150)" stroke-width="0.55"/>
<path d="M435.08 232.87C435.84 231.87 437.34 231.27 439.30 231.14C441.26 231.01 445.10 231.37 446.83 232.08C448.56 232.80 449.26 234.27 449.68 235.43C450.09 236.59 450.36 238.11 449.32 239.05C448.28 239.98 445.24 240.86 443.42 241.04C441.60 241.22 439.85 240.79 438.41 240.14C436.97 239.49 435.33 238.35 434.77 237.14C434.22 235.93 434.33 233.87 435.08 232.87Z" fill="rgba(70,70,70,0.028)" stroke="rgb(138,138,138)" stroke-width="0.62"/>
<path d="M437.89 234.06C438.25 233.50 438.81 233.23 440.01 233.11C441.21 233.00 443.90 232.95 445.09 233.39C446.28 233.84 446.90 234.96 447.15 235.77C447.40 236.58 447.22 237.69 446.59 238.25C445.96 238.82 444.48 239.13 443.37 239.15C442.26 239.18 440.86 238.85 439.94 238.40C439.01 237.95 438.19 237.18 437.85 236.46C437.50 235.74 437.53 234.62 437.89 234.06Z" fill="rgba(70,70,70,0.028)" stroke="rgb(126,126,126)" stroke-width="0.69"/>
<path d="M441.05 235.52C441.14 235.30 441.03 235.12 441.40 235.10C441.77 235.08 442.92 235.30 443.29 235.41C443.65 235.52 443.58 235.55 443.59 235.76C443.60 235.97 443.53 236.45 443.34 236.68C443.14 236.90 442.76 237.08 442.41 237.10C442.07 237.12 441.50 236.92 441.24 236.81C440.98 236.69 440.89 236.62 440.86 236.41C440.83 236.19 440.96 235.74 441.05 235.52Z" fill="rgba(70,70,70,0.028)" stroke="rgb(113,113,113)" stroke-width="0.76"/>
<path d="M431.93 212.69C432.73 211.11 433.93 210.31 435.76 209.55C437.60 208.78 440.44 208.14 442.94 208.11C445.45 208.08 448.42 208.56 450.80 209.37C453.17 210.18 455.77 211.40 457.22 212.97C458.66 214.53 459.29 216.64 459.48 218.75C459.68 220.87 459.48 223.82 458.37 225.66C457.26 227.50 454.91 228.67 452.82 229.80C450.73 230.93 448.27 232.28 445.83 232.44C443.38 232.61 440.17 231.81 438.13 230.79C436.09 229.76 434.77 228.25 433.57 226.29C432.38 224.33 431.23 221.32 430.96 219.05C430.68 216.79 431.13 214.28 431.93 212.69Z" fill="rgba(70,70,70,0.044)" stroke="rgb(136,136,136)" stroke-width="0.55"/>
<path d="M432.82 213.12C433.56 211.54 434.85 210.02 436.55 209.34C438.25 208.65 440.62 208.86 443.03 208.99C445.44 209.12 448.74 209.30 451.01 210.11C453.27 210.92 455.41 212.33 456.61 213.84C457.80 215.35 458.01 217.16 458.19 219.20C458.38 221.24 458.70 224.38 457.73 226.06C456.76 227.73 454.38 228.39 452.40 229.26C450.41 230.13 448.11 231.09 445.83 231.27C443.55 231.45 440.65 231.29 438.70 230.34C436.76 229.38 435.26 227.46 434.16 225.54C433.06 223.62 432.30 220.90 432.08 218.83C431.86 216.75 432.07 214.70 432.82 213.12Z" fill="rgba(70,70,70,0.044)" stroke="rgb(129,129,129)" stroke-width="0.59"/>
<path d="M433.62 214.06C434.43 212.64 436.03 211.65 437.69 210.92C439.35 210.19 441.49 209.72 443.57 209.69C445.64 209.67 448.20 210.11 450.16 210.77C452.12 211.43 454.12 212.27 455.31 213.66C456.49 215.04 457.19 217.15 457.27 219.07C457.36 221.00 456.70 223.60 455.81 225.21C454.92 226.81 453.60 227.88 451.92 228.70C450.25 229.52 447.90 230.01 445.75 230.12C443.61 230.23 440.82 230.26 439.04 229.36C437.27 228.46 436.13 226.37 435.10 224.72C434.07 223.06 433.10 221.20 432.85 219.42C432.61 217.64 432.81 215.47 433.62 214.06Z" fill="rgba(70,70,70,0.044)" stroke="rgb(122,122,122)" stroke-width="0.63"/>
<path d="M435.22 214.42C435.81 213.21 436.58 212.49 437.95 211.89C439.33 211.29 441.55 210.84 443.45 210.83C445.36 210.82 447.64 211.23 449.41 211.81C451.18 212.39 453.02 213.07 454.07 214.31C455.12 215.56 455.64 217.63 455.71 219.30C455.77 220.96 455.26 222.91 454.44 224.31C453.61 225.71 452.26 226.90 450.75 227.69C449.24 228.49 447.24 228.98 445.39 229.08C443.54 229.18 441.18 229.08 439.64 228.27C438.09 227.46 436.98 225.73 436.10 224.22C435.23 222.70 434.53 220.83 434.38 219.20C434.23 217.57 434.62 215.64 435.22 214.42Z" fill="rgba(70,70,70,0.044)" stroke="rgb(114,114,114)" stroke-width="0.67"/>
<path d="M436.83 214.91C437.36 213.84 438.17 213.30 439.31 212.78C440.46 212.26 442.10 211.74 443.71 211.77C445.32 211.79 447.54 212.37 448.97 212.91C450.40 213.45 451.49 213.98 452.26 215.00C453.03 216.02 453.50 217.62 453.61 219.06C453.71 220.50 453.47 222.46 452.90 223.62C452.33 224.78 451.46 225.36 450.19 226.01C448.91 226.66 446.89 227.42 445.24 227.53C443.59 227.63 441.59 227.26 440.27 226.64C438.96 226.02 438.04 225.04 437.34 223.79C436.64 222.55 436.17 220.64 436.08 219.16C436.00 217.68 436.29 215.97 436.83 214.91Z" fill="rgba(70,70,70,0.044)" stroke="rgb(107,107,107)" stroke-width="0.72"/>
<path d="M438.03 216.14C438.45 215.26 438.75 214.47 439.69 213.97C440.64 213.46 442.37 213.13 443.71 213.12C445.05 213.11 446.55 213.45 447.73 213.91C448.91 214.37 450.04 214.96 450.76 215.86C451.49 216.77 451.95 218.22 452.09 219.35C452.22 220.48 452.05 221.71 451.56 222.65C451.07 223.59 450.17 224.40 449.13 224.99C448.09 225.57 446.67 226.12 445.30 226.17C443.93 226.21 442.05 225.81 440.92 225.27C439.78 224.73 439.10 223.94 438.47 222.93C437.85 221.93 437.25 220.39 437.18 219.26C437.10 218.12 437.61 217.02 438.03 216.14Z" fill="rgba(70,70,70,0.044)" stroke="rgb(100,100,100)" stroke-width="0.76"/>
<path d="M439.40 216.69C439.75 216.01 440.05 215.61 440.83 215.28C441.60 214.94 443.06 214.77 444.06 214.69C445.07 214.61 445.98 214.44 446.85 214.80C447.72 215.17 448.75 216.14 449.29 216.88C449.83 217.62 449.97 218.42 450.09 219.26C450.21 220.10 450.40 221.17 450.00 221.93C449.60 222.69 448.48 223.42 447.67 223.84C446.85 224.26 446.10 224.42 445.09 224.45C444.09 224.48 442.55 224.47 441.62 224.04C440.69 223.60 440.02 222.61 439.54 221.83C439.05 221.05 438.74 220.21 438.72 219.35C438.70 218.49 439.05 217.37 439.40 216.69Z" fill="rgba(70,70,70,0.044)" stroke="rgb(93,93,93)" stroke-width="0.80"/>
<path d="M440.92 217.50C441.15 217.04 441.58 216.56 442.09 216.30C442.60 216.05 443.29 215.94 443.97 215.95C444.64 215.96 445.50 216.13 446.14 216.37C446.78 216.60 447.41 216.90 447.80 217.39C448.19 217.87 448.41 218.71 448.49 219.28C448.57 219.85 448.63 220.31 448.30 220.81C447.97 221.32 447.09 221.95 446.52 222.31C445.95 222.67 445.55 222.91 444.88 222.98C444.20 223.04 443.10 223.04 442.47 222.71C441.85 222.38 441.43 221.62 441.14 221.01C440.84 220.40 440.75 219.64 440.72 219.06C440.68 218.47 440.69 217.95 440.92 217.50Z" fill="rgba(70,70,70,0.044)" stroke="rgb(85,85,85)" stroke-width="0.84"/>
<path d="M442.40 218.05C442.54 217.75 442.63 217.52 442.87 217.40C443.11 217.28 443.42 217.25 443.85 217.31C444.27 217.37 445.02 217.60 445.42 217.75C445.82 217.90 446.11 217.96 446.25 218.21C446.39 218.46 446.27 218.96 446.26 219.27C446.26 219.58 446.34 219.80 446.24 220.07C446.13 220.34 445.95 220.75 445.65 220.90C445.35 221.06 444.80 220.99 444.43 221.01C444.06 221.02 443.76 221.18 443.43 221.00C443.10 220.83 442.68 220.27 442.45 219.96C442.22 219.66 442.04 219.51 442.03 219.19C442.02 218.87 442.26 218.34 442.40 218.05Z" fill="rgba(70,70,70,0.044)" stroke="rgb(78,78,78)" stroke-width="0.88"/>
<ellipse cx="443.20" cy="218.10" rx="2.00" ry="1.60" fill="#fff" opacity="0.85"/>
</g>
<line x1="445.20" y1="199.10" x2="450.00" y2="251.30" stroke="#555" stroke-width="0.65" />
<line x1="426.20" y1="230.80" x2="478.20" y2="230.60" stroke="#555" stroke-width="0.65" />
<rect x="426.20" y="199.10" width="52.00" height="52.20" fill="none" stroke="#222" stroke-width="1"/>
<line x1="431.00" y1="251.30" x2="431.00" y2="252.60" stroke="#222" stroke-width="0.7" />
<line x1="437.80" y1="251.30" x2="437.80" y2="252.60" stroke="#222" stroke-width="0.7" />
<line x1="446.60" y1="251.30" x2="446.60" y2="252.60" stroke="#222" stroke-width="0.7" />
<line x1="461.60" y1="251.30" x2="461.60" y2="252.60" stroke="#222" stroke-width="0.7" />
<line x1="474.80" y1="251.30" x2="474.80" y2="252.60" stroke="#222" stroke-width="0.7" />
<rect x="436.60" y="251.10" width="2.4" height="1.6" fill="#111"/>
<line x1="424.90" y1="203.80" x2="426.20" y2="203.80" stroke="#222" stroke-width="0.7" />
<line x1="424.90" y1="216.30" x2="426.20" y2="216.30" stroke="#222" stroke-width="0.7" />
<line x1="424.90" y1="230.30" x2="426.20" y2="230.30" stroke="#222" stroke-width="0.7" />
<line x1="424.90" y1="248.60" x2="426.20" y2="248.60" stroke="#222" stroke-width="0.7" />
<rect x="424.80" y="236.60" width="1.6" height="2.4" fill="#111"/>
<text x="428.40" y="205.50" font-size="5.5" text-anchor="start" font-weight="normal" fill="#222"  stroke="#222" stroke-width="0.16">46.4</text>
<text x="476.00" y="205.50" font-size="5.5" text-anchor="end" font-weight="normal" fill="#222"  stroke="#222" stroke-width="0.16">37.8</text>
<text x="428.40" y="249.30" font-size="5.5" text-anchor="start" font-weight="normal" fill="#222"  stroke="#222" stroke-width="0.16">12.1</text>
<text x="476.00" y="249.30" font-size="5.5" text-anchor="end" font-weight="normal" fill="#222"  stroke="#222" stroke-width="0.16">3.63</text>
<text x="424.00" y="206.10" font-size="6.5" text-anchor="end" font-weight="normal" fill="#222"  stroke="#222" stroke-width="0.16">10<tspan font-size="4.7" dy="-2.6">5</tspan></text>
<text x="424.00" y="218.60" font-size="6.5" text-anchor="end" font-weight="normal" fill="#222"  stroke="#222" stroke-width="0.16">10<tspan font-size="4.7" dy="-2.6">4</tspan></text>
<text x="424.00" y="232.60" font-size="6.5" text-anchor="end" font-weight="normal" fill="#222"  stroke="#222" stroke-width="0.16">10<tspan font-size="4.7" dy="-2.6">3</tspan></text>
<text x="424.00" y="250.90" font-size="6.5" text-anchor="end" font-weight="normal" fill="#222"  stroke="#222" stroke-width="0.16">-10<tspan font-size="4.7" dy="-2.6">3</tspan></text>
<text x="428.80" y="261.30" font-size="6.5" text-anchor="middle" font-weight="normal" fill="#222"  stroke="#222" stroke-width="0.16">-10<tspan font-size="4.7" dy="-2.6">3</tspan></text>
<text x="438.20" y="261.30" font-size="6.5" text-anchor="middle" font-weight="normal" fill="#222"  stroke="#222" stroke-width="0.16">0</text>
<text x="446.80" y="261.30" font-size="6.5" text-anchor="middle" font-weight="normal" fill="#222"  stroke="#222" stroke-width="0.16">10<tspan font-size="4.7" dy="-2.6">3</tspan></text>
<text x="461.80" y="261.30" font-size="6.5" text-anchor="middle" font-weight="normal" fill="#222"  stroke="#222" stroke-width="0.16">10<tspan font-size="4.7" dy="-2.6">4</tspan></text>
<text x="474.80" y="261.30" font-size="6.5" text-anchor="middle" font-weight="normal" fill="#222"  stroke="#222" stroke-width="0.16">10<tspan font-size="4.7" dy="-2.6">5</tspan></text>
</g>
<g>
<clipPath id="c50_269"><rect x="50.60" y="269.30" width="50.60" height="50.60"/></clipPath>
<g clip-path="url(#c50_269)">
<path d="M60.58 284.88C61.29 283.62 62.54 283.25 64.17 282.62C65.80 281.99 68.05 281.38 70.34 281.11C72.63 280.84 76.02 280.64 77.90 281.02C79.78 281.39 81.21 282.17 81.61 283.37C82.01 284.57 80.92 286.54 80.32 288.23C79.72 289.93 78.32 291.74 78.01 293.53C77.69 295.33 77.98 297.18 78.43 299.00C78.88 300.83 80.56 302.58 80.71 304.47C80.86 306.37 80.19 308.76 79.30 310.39C78.41 312.02 77.09 313.57 75.38 314.26C73.67 314.95 70.99 314.89 69.04 314.55C67.08 314.21 65.09 313.53 63.64 312.23C62.20 310.93 61.04 309.19 60.37 306.74C59.69 304.30 59.68 300.32 59.60 297.57C59.51 294.81 59.69 292.33 59.85 290.21C60.02 288.10 59.86 286.15 60.58 284.88Z" fill="rgba(70,70,70,0.048)" stroke="rgb(133,133,133)" stroke-width="0.55"/>
<path d="M60.98 285.64C61.84 284.41 63.48 283.50 65.00 282.95C66.53 282.40 68.04 282.51 70.12 282.35C72.20 282.19 75.63 281.67 77.49 281.98C79.35 282.30 80.82 283.09 81.25 284.25C81.69 285.42 80.74 287.36 80.07 288.97C79.40 290.58 77.65 292.23 77.24 293.89C76.83 295.56 77.15 297.35 77.63 298.97C78.10 300.59 79.85 301.81 80.11 303.62C80.38 305.44 79.99 308.19 79.21 309.86C78.43 311.52 77.15 313.04 75.42 313.61C73.68 314.19 70.70 313.70 68.79 313.30C66.88 312.89 65.22 312.38 63.94 311.19C62.66 309.99 61.73 308.43 61.12 306.11C60.51 303.80 60.51 299.92 60.30 297.30C60.09 294.68 59.74 292.33 59.85 290.38C59.96 288.44 60.12 286.88 60.98 285.64Z" fill="rgba(70,70,70,0.048)" stroke="rgb(125,125,125)" stroke-width="0.60"/>
<path d="M61.95 287.35C62.61 286.27 63.84 285.29 65.24 284.67C66.63 284.04 68.50 283.71 70.32 283.61C72.15 283.50 74.69 283.71 76.21 284.04C77.73 284.37 79.01 284.63 79.44 285.59C79.87 286.55 79.32 288.49 78.78 289.81C78.24 291.13 76.42 292.04 76.21 293.51C76.00 294.98 77.05 296.98 77.53 298.64C78.01 300.31 79.00 301.90 79.09 303.49C79.18 305.07 78.86 306.76 78.09 308.14C77.31 309.52 75.93 311.09 74.42 311.77C72.91 312.44 70.68 312.49 69.03 312.19C67.38 311.89 65.79 311.18 64.54 309.96C63.30 308.74 62.13 307.03 61.56 304.88C61.00 302.72 61.21 299.29 61.16 297.00C61.11 294.72 61.15 292.78 61.28 291.17C61.41 289.57 61.29 288.44 61.95 287.35Z" fill="rgba(70,70,70,0.048)" stroke="rgb(117,117,117)" stroke-width="0.64"/>
<path d="M62.79 288.15C63.37 287.19 64.31 286.74 65.56 286.32C66.82 285.89 68.65 285.80 70.33 285.61C72.00 285.42 74.24 284.95 75.60 285.18C76.97 285.41 78.11 286.14 78.50 287.00C78.88 287.87 78.43 289.11 77.91 290.37C77.39 291.63 75.66 293.16 75.39 294.57C75.12 295.97 75.92 297.51 76.28 298.79C76.64 300.08 77.40 300.87 77.56 302.26C77.72 303.65 77.80 305.90 77.24 307.15C76.67 308.41 75.53 309.24 74.18 309.82C72.84 310.39 70.72 310.76 69.17 310.60C67.62 310.44 65.91 309.97 64.89 308.87C63.87 307.77 63.52 305.97 63.04 304.02C62.55 302.06 62.13 299.15 61.97 297.16C61.81 295.16 61.96 293.57 62.09 292.07C62.23 290.57 62.22 289.11 62.79 288.15Z" fill="rgba(70,70,70,0.048)" stroke="rgb(109,109,109)" stroke-width="0.69"/>
<path d="M63.52 289.38C64.00 288.51 65.04 288.04 66.12 287.68C67.20 287.33 68.54 287.35 70.01 287.25C71.47 287.15 73.74 286.89 74.92 287.07C76.10 287.24 76.78 287.49 77.08 288.28C77.38 289.08 77.04 290.71 76.70 291.84C76.35 292.97 75.21 293.89 75.01 295.07C74.81 296.24 75.18 297.80 75.50 298.89C75.81 299.98 76.78 300.45 76.89 301.59C77.00 302.73 76.67 304.62 76.14 305.72C75.62 306.81 74.99 307.69 73.75 308.15C72.51 308.60 70.02 308.61 68.70 308.44C67.37 308.27 66.64 308.02 65.79 307.15C64.95 306.27 64.05 304.85 63.63 303.20C63.21 301.55 63.32 298.98 63.26 297.26C63.19 295.55 63.20 294.22 63.24 292.91C63.29 291.59 63.04 290.25 63.52 289.38Z" fill="rgba(70,70,70,0.048)" stroke="rgb(101,101,101)" stroke-width="0.73"/>
<path d="M64.76 290.93C65.22 290.23 65.94 289.65 66.79 289.35C67.64 289.05 68.67 289.22 69.84 289.13C71.01 289.04 72.79 288.65 73.81 288.81C74.83 288.97 75.69 289.51 75.96 290.08C76.23 290.66 75.81 291.45 75.45 292.27C75.09 293.09 73.97 293.96 73.81 294.99C73.65 296.02 74.23 297.45 74.49 298.44C74.75 299.43 75.33 299.92 75.37 300.92C75.40 301.92 75.14 303.57 74.69 304.42C74.24 305.27 73.63 305.64 72.67 306.02C71.71 306.40 69.93 306.82 68.92 306.69C67.91 306.56 67.28 305.97 66.60 305.22C65.93 304.46 65.29 303.52 64.87 302.16C64.44 300.80 64.19 298.51 64.06 297.08C63.92 295.65 63.94 294.58 64.06 293.55C64.17 292.53 64.31 291.63 64.76 290.93Z" fill="rgba(70,70,70,0.048)" stroke="rgb(93,93,93)" stroke-width="0.78"/>
<path d="M65.66 292.46C66.00 291.95 66.87 291.51 67.56 291.19C68.25 290.88 68.94 290.64 69.81 290.55C70.67 290.46 71.96 290.52 72.76 290.66C73.56 290.80 74.34 290.86 74.60 291.39C74.87 291.92 74.59 293.17 74.34 293.85C74.09 294.53 73.33 294.77 73.12 295.47C72.92 296.18 72.97 297.27 73.10 298.06C73.23 298.85 73.79 299.48 73.91 300.20C74.04 300.91 74.19 301.68 73.85 302.36C73.51 303.05 72.67 303.93 71.86 304.31C71.05 304.69 69.79 304.74 69.01 304.64C68.23 304.53 67.68 304.26 67.20 303.67C66.71 303.09 66.42 302.21 66.10 301.12C65.78 300.02 65.39 298.25 65.29 297.11C65.19 295.96 65.46 295.03 65.53 294.26C65.59 293.48 65.32 292.97 65.66 292.46Z" fill="rgba(70,70,70,0.048)" stroke="rgb(85,85,85)" stroke-width="0.82"/>
<path d="M66.92 293.90C67.10 293.55 67.63 293.33 68.11 293.16C68.59 292.98 69.18 292.90 69.80 292.84C70.43 292.79 71.37 292.77 71.86 292.83C72.35 292.88 72.62 292.85 72.75 293.17C72.89 293.48 72.79 294.18 72.66 294.72C72.52 295.26 72.06 295.83 71.94 296.40C71.83 296.96 71.82 297.65 71.97 298.11C72.13 298.56 72.78 298.64 72.86 299.13C72.93 299.63 72.68 300.57 72.45 301.08C72.22 301.59 72.02 301.99 71.50 302.19C70.97 302.39 69.92 302.36 69.30 302.28C68.68 302.19 68.16 302.10 67.79 301.67C67.41 301.23 67.20 300.38 67.07 299.68C66.95 298.97 67.05 298.17 67.03 297.43C67.02 296.70 67.01 295.84 66.99 295.25C66.97 294.66 66.73 294.25 66.92 293.90Z" fill="rgba(70,70,70,0.048)" stroke="rgb(77,77,77)" stroke-width="0.86"/>
<path d="M68.37 295.34C68.49 295.17 68.64 295.26 68.85 295.22C69.06 295.18 69.32 295.18 69.63 295.10C69.95 295.02 70.40 294.72 70.71 294.76C71.03 294.79 71.45 295.09 71.52 295.30C71.59 295.51 71.22 295.75 71.13 296.00C71.04 296.26 71.03 296.58 70.97 296.83C70.91 297.08 70.72 297.29 70.77 297.51C70.82 297.72 71.21 297.85 71.27 298.13C71.32 298.40 71.21 298.86 71.10 299.16C71.00 299.46 70.95 299.79 70.64 299.94C70.34 300.08 69.57 300.08 69.25 300.03C68.94 299.98 68.90 299.86 68.74 299.63C68.59 299.41 68.43 299.10 68.30 298.69C68.18 298.29 68.00 297.62 67.97 297.20C67.94 296.79 68.06 296.53 68.12 296.22C68.19 295.91 68.25 295.51 68.37 295.34Z" fill="rgba(70,70,70,0.048)" stroke="rgb(70,70,70)" stroke-width="0.91"/>
<path d="M72.21 291.24C72.66 288.95 74.71 289.29 75.54 290.12C76.36 290.95 76.83 293.55 77.15 296.23C77.48 298.90 77.87 303.77 77.49 306.18C77.12 308.60 75.68 311.12 74.90 310.73C74.11 310.35 73.26 307.14 72.81 303.89C72.36 300.64 71.75 293.54 72.21 291.24Z" fill="rgba(70,70,70,0.072)" stroke="rgb(112,112,112)" stroke-width="0.55"/>
<path d="M73.78 294.60C74.05 293.12 74.81 293.57 75.34 294.12C75.86 294.67 76.68 296.26 76.92 297.90C77.16 299.54 77.14 302.49 76.76 303.98C76.38 305.46 75.15 306.98 74.64 306.82C74.13 306.67 73.86 305.07 73.71 303.03C73.57 301.00 73.50 296.09 73.78 294.60Z" fill="rgba(70,70,70,0.072)" stroke="rgb(64,64,64)" stroke-width="0.82"/>
<path d="M74.59 299.01C74.67 298.61 74.95 298.54 75.11 298.66C75.28 298.77 75.50 299.27 75.59 299.70C75.68 300.13 75.78 300.86 75.67 301.23C75.56 301.60 75.11 301.93 74.94 301.91C74.77 301.88 74.70 301.55 74.64 301.07C74.58 300.58 74.51 299.42 74.59 299.01Z" fill="rgba(70,70,70,0.072)" stroke="rgb(17,17,17)" stroke-width="1.09"/>
<path d="M68.30 283.61C69.00 282.75 71.82 281.14 73.83 280.61C75.83 280.09 78.76 280.14 80.32 280.47C81.88 280.79 83.08 281.76 83.19 282.58C83.31 283.39 82.43 284.69 81.02 285.36C79.61 286.03 76.62 286.54 74.72 286.61C72.82 286.67 70.67 286.23 69.60 285.73C68.53 285.23 67.60 284.46 68.30 283.61Z" fill="rgba(70,70,70,0.088)" stroke="rgb(20,20,20)" stroke-width="1.60"/>
<path d="M70.05 283.55C70.52 282.88 72.16 282.01 73.68 281.63C75.20 281.26 77.84 281.05 79.19 281.29C80.53 281.54 81.66 282.49 81.75 283.10C81.84 283.71 80.94 284.58 79.72 284.97C78.51 285.36 75.94 285.35 74.47 285.46C73.00 285.57 71.64 285.95 70.90 285.63C70.16 285.32 69.59 284.21 70.05 283.55Z" fill="rgba(70,70,70,0.088)" stroke="rgb(59,59,59)" stroke-width="0.77"/>
<path d="M72.11 283.65C72.41 283.22 73.68 282.36 74.70 282.14C75.72 281.93 77.44 282.19 78.21 282.36C78.97 282.52 79.28 282.79 79.28 283.14C79.28 283.49 78.93 284.15 78.22 284.46C77.50 284.78 75.89 284.99 74.99 285.03C74.10 285.07 73.35 284.91 72.87 284.68C72.38 284.45 71.80 284.07 72.11 283.65Z" fill="rgba(70,70,70,0.088)" stroke="rgb(20,20,20)" stroke-width="0.99"/>
<path d="M74.75 283.62C74.83 283.50 75.04 283.41 75.31 283.34C75.58 283.27 76.14 283.21 76.39 283.20C76.63 283.19 76.80 283.16 76.78 283.27C76.77 283.39 76.51 283.79 76.29 283.89C76.06 283.98 75.68 283.80 75.44 283.83C75.20 283.86 74.95 284.09 74.84 284.06C74.72 284.02 74.67 283.74 74.75 283.62Z" fill="rgba(70,70,70,0.088)" stroke="rgb(15,15,15)" stroke-width="1.21"/>
</g>
<line x1="69.10" y1="269.30" x2="73.90" y2="319.90" stroke="#555" stroke-width="0.65" />
<line x1="50.60" y1="300.80" x2="101.20" y2="300.30" stroke="#555" stroke-width="0.65" />
<rect x="50.60" y="269.30" width="50.60" height="50.60" fill="none" stroke="#222" stroke-width="1"/>
<line x1="55.40" y1="319.90" x2="55.40" y2="321.20" stroke="#222" stroke-width="0.7" />
<line x1="62.20" y1="319.90" x2="62.20" y2="321.20" stroke="#222" stroke-width="0.7" />
<line x1="71.00" y1="319.90" x2="71.00" y2="321.20" stroke="#222" stroke-width="0.7" />
<line x1="86.00" y1="319.90" x2="86.00" y2="321.20" stroke="#222" stroke-width="0.7" />
<line x1="99.20" y1="319.90" x2="99.20" y2="321.20" stroke="#222" stroke-width="0.7" />
<rect x="61.00" y="319.70" width="2.4" height="1.6" fill="#111"/>
<line x1="49.30" y1="274.00" x2="50.60" y2="274.00" stroke="#222" stroke-width="0.7" />
<line x1="49.30" y1="286.50" x2="50.60" y2="286.50" stroke="#222" stroke-width="0.7" />
<line x1="49.30" y1="300.50" x2="50.60" y2="300.50" stroke="#222" stroke-width="0.7" />
<line x1="49.30" y1="318.80" x2="50.60" y2="318.80" stroke="#222" stroke-width="0.7" />
<rect x="49.20" y="306.80" width="1.6" height="2.4" fill="#111"/>
<text x="52.80" y="275.70" font-size="5.5" text-anchor="start" font-weight="normal" fill="#222"  stroke="#222" stroke-width="0.16">16.8</text>
<text x="99.00" y="275.70" font-size="5.5" text-anchor="end" font-weight="normal" fill="#222"  stroke="#222" stroke-width="0.16">40.1</text>
<text x="52.80" y="317.90" font-size="5.5" text-anchor="start" font-weight="normal" fill="#222"  stroke="#222" stroke-width="0.16">14.2</text>
<text x="99.00" y="317.90" font-size="5.5" text-anchor="end" font-weight="normal" fill="#222"  stroke="#222" stroke-width="0.16">28.8</text>
<text x="48.40" y="276.30" font-size="6.5" text-anchor="end" font-weight="normal" fill="#222"  stroke="#222" stroke-width="0.16">10<tspan font-size="4.7" dy="-2.6">5</tspan></text>
<text x="48.40" y="288.80" font-size="6.5" text-anchor="end" font-weight="normal" fill="#222"  stroke="#222" stroke-width="0.16">10<tspan font-size="4.7" dy="-2.6">4</tspan></text>
<text x="48.40" y="302.80" font-size="6.5" text-anchor="end" font-weight="normal" fill="#222"  stroke="#222" stroke-width="0.16">10<tspan font-size="4.7" dy="-2.6">3</tspan></text>
<text x="48.40" y="321.10" font-size="6.5" text-anchor="end" font-weight="normal" fill="#222"  stroke="#222" stroke-width="0.16">-10<tspan font-size="4.7" dy="-2.6">3</tspan></text>
<text x="53.20" y="329.90" font-size="6.5" text-anchor="middle" font-weight="normal" fill="#222"  stroke="#222" stroke-width="0.16">-10<tspan font-size="4.7" dy="-2.6">3</tspan></text>
<text x="62.60" y="329.90" font-size="6.5" text-anchor="middle" font-weight="normal" fill="#222"  stroke="#222" stroke-width="0.16">0</text>
<text x="71.20" y="329.90" font-size="6.5" text-anchor="middle" font-weight="normal" fill="#222"  stroke="#222" stroke-width="0.16">10<tspan font-size="4.7" dy="-2.6">3</tspan></text>
<text x="86.20" y="329.90" font-size="6.5" text-anchor="middle" font-weight="normal" fill="#222"  stroke="#222" stroke-width="0.16">10<tspan font-size="4.7" dy="-2.6">4</tspan></text>
<text x="99.20" y="329.90" font-size="6.5" text-anchor="middle" font-weight="normal" fill="#222"  stroke="#222" stroke-width="0.16">10<tspan font-size="4.7" dy="-2.6">5</tspan></text>
</g>
<g>
<clipPath id="c128_269"><rect x="128.00" y="269.30" width="50.20" height="50.60"/></clipPath>
<g clip-path="url(#c128_269)">
<path d="M132.02 286.61C131.89 285.23 133.89 283.12 135.31 282.03C136.73 280.94 138.40 280.56 140.56 280.06C142.72 279.57 145.90 279.12 148.28 279.08C150.66 279.04 153.06 279.26 154.82 279.81C156.57 280.36 158.00 281.20 158.81 282.37C159.62 283.55 159.96 285.34 159.69 286.86C159.42 288.38 157.99 289.84 157.18 291.48C156.38 293.12 156.00 295.51 154.86 296.69C153.72 297.88 151.86 298.53 150.33 298.60C148.81 298.68 146.90 298.15 145.71 297.16C144.51 296.16 144.76 293.78 143.15 292.64C141.55 291.51 137.94 291.33 136.09 290.33C134.23 289.33 132.15 288.00 132.02 286.61Z" fill="rgba(70,70,70,0.048)" stroke="rgb(133,133,133)" stroke-width="0.55"/>
<path d="M132.91 286.30C132.71 285.08 134.53 283.78 135.93 282.83C137.33 281.88 139.32 281.11 141.32 280.60C143.31 280.09 145.63 279.87 147.91 279.77C150.19 279.68 153.31 279.52 154.97 280.04C156.64 280.56 157.21 281.76 157.90 282.90C158.58 284.04 159.26 285.62 159.07 286.89C158.87 288.16 157.45 289.05 156.74 290.52C156.02 292.00 155.86 294.59 154.76 295.74C153.66 296.89 151.58 297.22 150.15 297.42C148.73 297.62 147.34 297.85 146.21 296.93C145.09 296.02 144.91 293.05 143.39 291.92C141.87 290.79 138.83 291.10 137.08 290.17C135.33 289.23 133.10 287.53 132.91 286.30Z" fill="rgba(70,70,70,0.048)" stroke="rgb(125,125,125)" stroke-width="0.60"/>
<path d="M134.01 286.09C133.92 284.90 135.56 283.52 136.90 282.75C138.24 281.97 140.20 281.79 142.07 281.42C143.94 281.06 146.18 280.73 148.11 280.56C150.03 280.38 152.11 280.02 153.61 280.35C155.11 280.67 156.33 281.46 157.13 282.51C157.93 283.55 158.60 285.30 158.40 286.62C158.20 287.94 156.63 289.13 155.93 290.41C155.22 291.69 155.22 293.32 154.18 294.31C153.13 295.30 150.94 296.09 149.65 296.34C148.37 296.59 147.45 296.72 146.47 295.83C145.49 294.93 145.27 291.96 143.77 290.98C142.27 290.00 139.09 290.75 137.46 289.94C135.84 289.12 134.11 287.29 134.01 286.09Z" fill="rgba(70,70,70,0.048)" stroke="rgb(117,117,117)" stroke-width="0.64"/>
<path d="M135.97 286.15C135.83 285.10 136.99 283.72 138.12 283.02C139.24 282.31 141.09 282.24 142.72 281.91C144.34 281.57 146.14 281.09 147.88 280.99C149.63 280.89 151.74 280.99 153.18 281.32C154.61 281.64 155.84 282.01 156.48 282.95C157.13 283.88 157.30 285.73 157.04 286.92C156.78 288.11 155.54 288.98 154.93 290.07C154.32 291.16 154.31 292.67 153.38 293.48C152.44 294.29 150.43 294.76 149.33 294.93C148.24 295.09 147.70 295.22 146.80 294.48C145.90 293.75 145.22 291.38 143.91 290.52C142.60 289.65 140.25 290.01 138.93 289.28C137.60 288.55 136.10 287.19 135.97 286.15Z" fill="rgba(70,70,70,0.048)" stroke="rgb(109,109,109)" stroke-width="0.69"/>
<path d="M138.00 285.93C137.87 285.11 138.53 284.31 139.46 283.67C140.40 283.02 142.22 282.44 143.59 282.03C144.96 281.61 146.16 281.29 147.68 281.19C149.20 281.09 151.46 281.12 152.71 281.44C153.97 281.77 154.66 282.28 155.20 283.14C155.74 284.01 156.24 285.58 155.97 286.63C155.71 287.68 154.17 288.55 153.60 289.45C153.04 290.35 153.26 291.31 152.57 292.06C151.88 292.81 150.40 293.83 149.45 293.97C148.50 294.12 147.68 293.66 146.88 292.92C146.08 292.18 145.76 290.27 144.65 289.54C143.55 288.82 141.35 289.18 140.24 288.57C139.13 287.97 138.12 286.74 138.00 285.93Z" fill="rgba(70,70,70,0.048)" stroke="rgb(101,101,101)" stroke-width="0.73"/>
<path d="M139.58 285.64C139.51 284.87 140.27 283.96 141.04 283.49C141.81 283.01 142.98 282.97 144.18 282.79C145.38 282.60 146.98 282.40 148.22 282.38C149.46 282.36 150.65 282.43 151.62 282.68C152.60 282.92 153.63 283.28 154.09 283.85C154.54 284.42 154.60 285.36 154.34 286.10C154.09 286.84 153.02 287.48 152.55 288.29C152.09 289.11 152.13 290.37 151.57 291.01C151.00 291.65 149.96 292.02 149.17 292.14C148.38 292.25 147.43 292.23 146.84 291.70C146.24 291.16 146.47 289.55 145.57 288.94C144.68 288.34 142.46 288.64 141.46 288.09C140.46 287.53 139.65 286.40 139.58 285.64Z" fill="rgba(70,70,70,0.048)" stroke="rgb(93,93,93)" stroke-width="0.78"/>
<path d="M141.67 285.68C141.64 285.16 142.27 284.36 142.84 284.00C143.41 283.64 144.29 283.72 145.11 283.55C145.92 283.37 146.76 283.04 147.73 282.96C148.70 282.87 150.15 282.79 150.91 283.01C151.67 283.24 151.97 283.77 152.31 284.32C152.65 284.86 153.06 285.70 152.97 286.30C152.87 286.90 152.04 287.33 151.71 287.92C151.39 288.50 151.54 289.33 151.01 289.80C150.48 290.26 149.22 290.67 148.55 290.70C147.87 290.72 147.41 290.35 146.97 289.94C146.53 289.54 146.55 288.75 145.89 288.28C145.24 287.82 143.74 287.58 143.04 287.15C142.33 286.72 141.70 286.21 141.67 285.68Z" fill="rgba(70,70,70,0.048)" stroke="rgb(85,85,85)" stroke-width="0.82"/>
<path d="M143.61 285.56C143.55 285.20 143.77 284.95 144.17 284.70C144.57 284.46 145.39 284.32 146.00 284.11C146.61 283.90 147.14 283.56 147.84 283.46C148.54 283.37 149.63 283.37 150.21 283.54C150.78 283.70 151.12 284.09 151.31 284.46C151.50 284.83 151.50 285.36 151.36 285.76C151.21 286.16 150.65 286.41 150.45 286.84C150.24 287.28 150.45 287.98 150.11 288.36C149.78 288.75 148.86 289.10 148.44 289.13C148.02 289.16 147.89 288.85 147.58 288.57C147.27 288.28 147.08 287.70 146.57 287.42C146.07 287.14 145.04 287.19 144.55 286.88C144.05 286.57 143.68 285.92 143.61 285.56Z" fill="rgba(70,70,70,0.048)" stroke="rgb(77,77,77)" stroke-width="0.86"/>
<path d="M145.47 285.38C145.42 285.20 145.63 285.04 145.87 284.87C146.10 284.70 146.53 284.46 146.87 284.38C147.20 284.30 147.50 284.35 147.87 284.37C148.24 284.39 148.76 284.44 149.07 284.50C149.37 284.55 149.57 284.52 149.70 284.72C149.84 284.92 149.94 285.48 149.86 285.69C149.77 285.91 149.31 285.76 149.19 285.99C149.06 286.23 149.29 286.92 149.12 287.11C148.94 287.30 148.39 287.16 148.14 287.12C147.89 287.09 147.72 287.01 147.60 286.90C147.48 286.78 147.67 286.60 147.43 286.44C147.19 286.28 146.47 286.13 146.14 285.95C145.82 285.78 145.52 285.56 145.47 285.38Z" fill="rgba(70,70,70,0.048)" stroke="rgb(70,70,70)" stroke-width="0.91"/>
<ellipse cx="148.00" cy="286.30" rx="1.60" ry="1.28" fill="#fff" opacity="0.85"/>
<path d="M132.52 308.55C132.39 307.67 134.13 306.20 135.14 306.23C136.16 306.26 138.47 307.83 138.61 308.72C138.74 309.61 136.96 311.59 135.95 311.56C134.93 311.53 132.66 309.44 132.52 308.55Z" fill="rgba(70,70,70,0.028)" stroke="rgb(150,150,150)" stroke-width="0.55"/>
<path d="M133.86 309.06C133.95 308.42 135.22 306.78 135.77 306.73C136.31 306.68 137.21 308.14 137.11 308.77C137.02 309.40 135.75 310.47 135.21 310.52C134.66 310.57 133.76 309.69 133.86 309.06Z" fill="rgba(70,70,70,0.028)" stroke="rgb(132,132,132)" stroke-width="0.66"/>
<path d="M135.20 308.76C135.21 308.61 135.41 308.32 135.52 308.34C135.63 308.35 135.88 308.70 135.88 308.85C135.88 309.00 135.61 309.28 135.50 309.26C135.38 309.25 135.20 308.91 135.20 308.76Z" fill="rgba(70,70,70,0.028)" stroke="rgb(113,113,113)" stroke-width="0.76"/>
<path d="M142.22 310.18C142.28 309.14 144.29 306.92 145.31 306.80C146.33 306.67 148.41 308.39 148.35 309.42C148.29 310.46 145.95 312.89 144.93 313.02C143.91 313.14 142.16 311.22 142.22 310.18Z" fill="rgba(70,70,70,0.000)" stroke="rgb(150,150,150)" stroke-width="0.55"/>
<path d="M144.58 309.93C144.63 309.76 145.01 309.20 145.17 309.17C145.32 309.14 145.53 309.59 145.48 309.77C145.42 309.94 144.98 310.21 144.83 310.23C144.68 310.26 144.52 310.11 144.58 309.93Z" fill="rgba(70,70,70,0.000)" stroke="rgb(113,113,113)" stroke-width="0.76"/>
</g>
<line x1="145.00" y1="269.30" x2="150.20" y2="319.90" stroke="#555" stroke-width="0.65" />
<line x1="128.00" y1="300.50" x2="178.20" y2="300.10" stroke="#555" stroke-width="0.65" />
<rect x="128.00" y="269.30" width="50.20" height="50.60" fill="none" stroke="#222" stroke-width="1"/>
<line x1="132.80" y1="319.90" x2="132.80" y2="321.20" stroke="#222" stroke-width="0.7" />
<line x1="139.60" y1="319.90" x2="139.60" y2="321.20" stroke="#222" stroke-width="0.7" />
<line x1="148.40" y1="319.90" x2="148.40" y2="321.20" stroke="#222" stroke-width="0.7" />
<line x1="163.40" y1="319.90" x2="163.40" y2="321.20" stroke="#222" stroke-width="0.7" />
<line x1="176.60" y1="319.90" x2="176.60" y2="321.20" stroke="#222" stroke-width="0.7" />
<rect x="138.40" y="319.70" width="2.4" height="1.6" fill="#111"/>
<line x1="126.70" y1="274.00" x2="128.00" y2="274.00" stroke="#222" stroke-width="0.7" />
<line x1="126.70" y1="286.50" x2="128.00" y2="286.50" stroke="#222" stroke-width="0.7" />
<line x1="126.70" y1="300.50" x2="128.00" y2="300.50" stroke="#222" stroke-width="0.7" />
<line x1="126.70" y1="318.80" x2="128.00" y2="318.80" stroke="#222" stroke-width="0.7" />
<rect x="126.60" y="306.80" width="1.6" height="2.4" fill="#111"/>
<text x="130.20" y="275.70" font-size="5.5" text-anchor="start" font-weight="normal" fill="#222"  stroke="#222" stroke-width="0.16">28.5</text>
<text x="176.00" y="275.70" font-size="5.5" text-anchor="end" font-weight="normal" fill="#222"  stroke="#222" stroke-width="0.16">60.6</text>
<text x="130.20" y="317.90" font-size="5.5" text-anchor="start" font-weight="normal" fill="#222"  stroke="#222" stroke-width="0.16">8.76</text>
<text x="176.00" y="317.90" font-size="5.5" text-anchor="end" font-weight="normal" fill="#222"  stroke="#222" stroke-width="0.16">2.19</text>
<text x="125.80" y="276.30" font-size="6.5" text-anchor="end" font-weight="normal" fill="#222"  stroke="#222" stroke-width="0.16">10<tspan font-size="4.7" dy="-2.6">5</tspan></text>
<text x="125.80" y="288.80" font-size="6.5" text-anchor="end" font-weight="normal" fill="#222"  stroke="#222" stroke-width="0.16">10<tspan font-size="4.7" dy="-2.6">4</tspan></text>
<text x="125.80" y="302.80" font-size="6.5" text-anchor="end" font-weight="normal" fill="#222"  stroke="#222" stroke-width="0.16">10<tspan font-size="4.7" dy="-2.6">3</tspan></text>
<text x="125.80" y="321.10" font-size="6.5" text-anchor="end" font-weight="normal" fill="#222"  stroke="#222" stroke-width="0.16">-10<tspan font-size="4.7" dy="-2.6">3</tspan></text>
<text x="130.60" y="329.90" font-size="6.5" text-anchor="middle" font-weight="normal" fill="#222"  stroke="#222" stroke-width="0.16">-10<tspan font-size="4.7" dy="-2.6">3</tspan></text>
<text x="140.00" y="329.90" font-size="6.5" text-anchor="middle" font-weight="normal" fill="#222"  stroke="#222" stroke-width="0.16">0</text>
<text x="148.60" y="329.90" font-size="6.5" text-anchor="middle" font-weight="normal" fill="#222"  stroke="#222" stroke-width="0.16">10<tspan font-size="4.7" dy="-2.6">3</tspan></text>
<text x="163.60" y="329.90" font-size="6.5" text-anchor="middle" font-weight="normal" fill="#222"  stroke="#222" stroke-width="0.16">10<tspan font-size="4.7" dy="-2.6">4</tspan></text>
<text x="176.60" y="329.90" font-size="6.5" text-anchor="middle" font-weight="normal" fill="#222"  stroke="#222" stroke-width="0.16">10<tspan font-size="4.7" dy="-2.6">5</tspan></text>
</g>
<g>
<clipPath id="c202_269"><rect x="202.30" y="269.30" width="50.20" height="50.60"/></clipPath>
<g clip-path="url(#c202_269)">
<path d="M209.51 288.48C209.53 286.97 210.54 284.80 211.74 283.32C212.94 281.84 214.90 280.86 216.73 279.61C218.56 278.36 220.54 276.65 222.70 275.82C224.85 274.99 227.53 274.61 229.65 274.64C231.76 274.66 234.29 274.83 235.38 275.98C236.48 277.12 236.72 279.82 236.22 281.52C235.72 283.22 233.68 284.53 232.39 286.16C231.09 287.79 229.95 289.91 228.46 291.30C226.97 292.69 225.32 293.95 223.45 294.50C221.57 295.05 219.18 294.94 217.21 294.59C215.24 294.23 212.90 293.41 211.62 292.39C210.33 291.38 209.49 289.99 209.51 288.48Z" fill="rgba(70,70,70,0.056)" stroke="rgb(126,126,126)" stroke-width="0.55"/>
<path d="M209.98 288.09C210.03 286.72 210.92 285.05 211.97 283.69C213.03 282.34 214.54 281.18 216.30 279.94C218.05 278.71 220.37 277.09 222.49 276.27C224.60 275.45 227.02 274.98 228.97 275.03C230.92 275.09 233.13 275.50 234.20 276.59C235.27 277.68 235.77 279.91 235.40 281.57C235.02 283.23 233.14 284.97 231.95 286.55C230.76 288.14 229.65 289.90 228.26 291.08C226.86 292.26 225.38 293.16 223.59 293.65C221.81 294.14 219.52 294.30 217.53 294.01C215.55 293.73 212.94 292.92 211.68 291.93C210.42 290.94 209.93 289.46 209.98 288.09Z" fill="rgba(70,70,70,0.056)" stroke="rgb(116,116,116)" stroke-width="0.60"/>
<path d="M211.04 288.03C211.06 286.74 211.90 284.70 212.93 283.33C213.96 281.96 215.67 280.86 217.23 279.81C218.79 278.76 220.46 277.73 222.30 277.02C224.13 276.31 226.43 275.40 228.26 275.56C230.08 275.72 232.30 276.89 233.25 277.97C234.20 279.05 234.33 280.68 233.95 282.06C233.57 283.45 232.11 284.90 230.95 286.30C229.80 287.70 228.29 289.32 227.02 290.45C225.75 291.59 224.91 292.72 223.34 293.12C221.76 293.53 219.33 293.24 217.58 292.90C215.82 292.55 213.89 291.85 212.80 291.04C211.71 290.23 211.02 289.31 211.04 288.03Z" fill="rgba(70,70,70,0.056)" stroke="rgb(107,107,107)" stroke-width="0.66"/>
<path d="M212.55 287.51C212.44 286.31 212.70 284.68 213.51 283.61C214.31 282.54 215.88 282.04 217.36 281.07C218.85 280.11 220.81 278.56 222.41 277.83C224.02 277.10 225.43 276.57 227.00 276.68C228.57 276.80 230.98 277.55 231.85 278.52C232.73 279.49 232.58 281.22 232.25 282.52C231.92 283.82 230.76 285.16 229.86 286.34C228.97 287.52 228.00 288.71 226.88 289.61C225.75 290.50 224.49 291.34 223.11 291.72C221.73 292.10 220.10 292.04 218.61 291.88C217.11 291.73 215.15 291.49 214.14 290.76C213.13 290.04 212.65 288.70 212.55 287.51Z" fill="rgba(70,70,70,0.056)" stroke="rgb(98,98,98)" stroke-width="0.71"/>
<path d="M213.35 287.18C213.30 286.18 214.09 284.73 214.84 283.79C215.59 282.86 216.68 282.34 217.85 281.57C219.02 280.80 220.37 279.72 221.85 279.20C223.33 278.67 225.30 278.39 226.73 278.42C228.15 278.44 229.67 278.62 230.41 279.36C231.15 280.10 231.50 281.72 231.18 282.87C230.87 284.02 229.39 285.17 228.51 286.25C227.63 287.32 226.92 288.48 225.91 289.33C224.89 290.19 223.57 291.06 222.41 291.37C221.24 291.69 220.14 291.50 218.93 291.23C217.72 290.96 216.08 290.43 215.15 289.76C214.22 289.08 213.40 288.17 213.35 287.18Z" fill="rgba(70,70,70,0.056)" stroke="rgb(89,89,89)" stroke-width="0.76"/>
<path d="M214.99 286.71C214.97 285.90 215.14 285.06 215.75 284.33C216.36 283.61 217.64 283.01 218.64 282.36C219.64 281.70 220.59 280.93 221.75 280.42C222.90 279.91 224.47 279.25 225.58 279.30C226.69 279.36 227.79 280.05 228.41 280.74C229.04 281.43 229.49 282.54 229.31 283.43C229.12 284.31 227.99 285.25 227.31 286.04C226.63 286.84 226.00 287.50 225.21 288.19C224.43 288.88 223.58 289.91 222.58 290.18C221.59 290.46 220.37 290.02 219.25 289.86C218.13 289.69 216.58 289.72 215.87 289.19C215.16 288.67 215.01 287.52 214.99 286.71Z" fill="rgba(70,70,70,0.056)" stroke="rgb(80,80,80)" stroke-width="0.81"/>
<path d="M216.67 286.50C216.66 285.86 216.88 285.17 217.34 284.54C217.80 283.91 218.71 283.25 219.42 282.72C220.13 282.20 220.78 281.73 221.59 281.39C222.40 281.05 223.42 280.65 224.28 280.68C225.13 280.71 226.20 281.03 226.73 281.56C227.26 282.09 227.61 283.17 227.44 283.86C227.28 284.55 226.33 285.01 225.74 285.70C225.15 286.39 224.48 287.48 223.88 287.98C223.28 288.48 222.88 288.53 222.14 288.70C221.40 288.87 220.24 289.04 219.44 288.98C218.64 288.93 217.81 288.79 217.35 288.38C216.89 287.97 216.67 287.14 216.67 286.50Z" fill="rgba(70,70,70,0.056)" stroke="rgb(70,70,70)" stroke-width="0.86"/>
<path d="M217.88 286.08C217.92 285.65 218.21 285.17 218.55 284.78C218.88 284.40 219.37 284.11 219.88 283.78C220.39 283.44 220.94 283.07 221.59 282.79C222.23 282.51 223.14 282.12 223.73 282.12C224.32 282.11 224.87 282.39 225.13 282.77C225.40 283.14 225.42 283.85 225.30 284.35C225.18 284.85 224.75 285.37 224.40 285.77C224.06 286.17 223.69 286.43 223.25 286.78C222.81 287.12 222.29 287.64 221.76 287.85C221.23 288.06 220.66 288.11 220.08 288.03C219.49 287.95 218.64 287.68 218.28 287.35C217.91 287.03 217.83 286.51 217.88 286.08Z" fill="rgba(70,70,70,0.056)" stroke="rgb(61,61,61)" stroke-width="0.92"/>
<path d="M219.58 285.69C219.52 285.50 219.45 285.30 219.62 285.11C219.79 284.91 220.32 284.75 220.60 284.52C220.87 284.28 220.97 283.87 221.28 283.70C221.59 283.52 222.14 283.38 222.46 283.46C222.78 283.53 223.05 283.95 223.20 284.17C223.36 284.39 223.42 284.52 223.39 284.75C223.36 284.98 223.21 285.31 223.03 285.57C222.85 285.83 222.55 286.13 222.32 286.29C222.08 286.45 221.93 286.50 221.62 286.55C221.32 286.60 220.76 286.63 220.48 286.58C220.20 286.53 220.11 286.38 219.96 286.23C219.81 286.08 219.63 285.87 219.58 285.69Z" fill="rgba(70,70,70,0.056)" stroke="rgb(52,52,52)" stroke-width="0.97"/>
<ellipse cx="221.30" cy="285.30" rx="1.60" ry="1.28" fill="#fff" opacity="0.85"/>
<path d="M207.02 308.88C207.35 307.99 208.78 306.87 210.10 306.20C211.41 305.53 213.55 304.65 214.90 304.85C216.25 305.06 217.60 306.56 218.21 307.44C218.82 308.33 219.19 309.49 218.57 310.15C217.94 310.80 216.22 311.12 214.47 311.35C212.73 311.58 209.32 311.94 208.08 311.53C206.84 311.12 206.68 309.77 207.02 308.88Z" fill="rgba(70,70,70,0.000)" stroke="rgb(150,150,150)" stroke-width="0.55"/>
<path d="M212.21 308.97C212.27 308.86 212.57 308.47 212.81 308.34C213.05 308.21 213.42 308.19 213.67 308.19C213.91 308.19 214.23 308.22 214.27 308.35C214.31 308.48 214.03 308.81 213.93 308.97C213.82 309.13 213.88 309.29 213.64 309.30C213.40 309.31 212.73 309.09 212.50 309.03C212.26 308.98 212.16 309.09 212.21 308.97Z" fill="rgba(70,70,70,0.000)" stroke="rgb(113,113,113)" stroke-width="0.76"/>
</g>
<line x1="220.30" y1="269.30" x2="225.00" y2="319.90" stroke="#555" stroke-width="0.65" />
<line x1="202.30" y1="300.50" x2="252.50" y2="300.10" stroke="#555" stroke-width="0.65" />
<rect x="202.30" y="269.30" width="50.20" height="50.60" fill="none" stroke="#222" stroke-width="1"/>
<line x1="207.10" y1="319.90" x2="207.10" y2="321.20" stroke="#222" stroke-width="0.7" />
<line x1="213.90" y1="319.90" x2="213.90" y2="321.20" stroke="#222" stroke-width="0.7" />
<line x1="222.70" y1="319.90" x2="222.70" y2="321.20" stroke="#222" stroke-width="0.7" />
<line x1="237.70" y1="319.90" x2="237.70" y2="321.20" stroke="#222" stroke-width="0.7" />
<line x1="250.90" y1="319.90" x2="250.90" y2="321.20" stroke="#222" stroke-width="0.7" />
<rect x="212.70" y="319.70" width="2.4" height="1.6" fill="#111"/>
<line x1="201.00" y1="274.00" x2="202.30" y2="274.00" stroke="#222" stroke-width="0.7" />
<line x1="201.00" y1="286.50" x2="202.30" y2="286.50" stroke="#222" stroke-width="0.7" />
<line x1="201.00" y1="300.50" x2="202.30" y2="300.50" stroke="#222" stroke-width="0.7" />
<line x1="201.00" y1="318.80" x2="202.30" y2="318.80" stroke="#222" stroke-width="0.7" />
<rect x="200.90" y="306.80" width="1.6" height="2.4" fill="#111"/>
<text x="204.50" y="275.70" font-size="5.5" text-anchor="start" font-weight="normal" fill="#222"  stroke="#222" stroke-width="0.16">23.5</text>
<text x="250.30" y="275.70" font-size="5.5" text-anchor="end" font-weight="normal" fill="#222"  stroke="#222" stroke-width="0.16">68.9</text>
<text x="204.50" y="317.90" font-size="5.5" text-anchor="start" font-weight="normal" fill="#222"  stroke="#222" stroke-width="0.16">6.98</text>
<text x="250.30" y="317.90" font-size="5.5" text-anchor="end" font-weight="normal" fill="#222"  stroke="#222" stroke-width="0.16">0.59</text>
<text x="200.10" y="276.30" font-size="6.5" text-anchor="end" font-weight="normal" fill="#222"  stroke="#222" stroke-width="0.16">10<tspan font-size="4.7" dy="-2.6">5</tspan></text>
<text x="200.10" y="288.80" font-size="6.5" text-anchor="end" font-weight="normal" fill="#222"  stroke="#222" stroke-width="0.16">10<tspan font-size="4.7" dy="-2.6">4</tspan></text>
<text x="200.10" y="302.80" font-size="6.5" text-anchor="end" font-weight="normal" fill="#222"  stroke="#222" stroke-width="0.16">10<tspan font-size="4.7" dy="-2.6">3</tspan></text>
<text x="200.10" y="321.10" font-size="6.5" text-anchor="end" font-weight="normal" fill="#222"  stroke="#222" stroke-width="0.16">-10<tspan font-size="4.7" dy="-2.6">3</tspan></text>
<text x="204.90" y="329.90" font-size="6.5" text-anchor="middle" font-weight="normal" fill="#222"  stroke="#222" stroke-width="0.16">-10<tspan font-size="4.7" dy="-2.6">3</tspan></text>
<text x="214.30" y="329.90" font-size="6.5" text-anchor="middle" font-weight="normal" fill="#222"  stroke="#222" stroke-width="0.16">0</text>
<text x="222.90" y="329.90" font-size="6.5" text-anchor="middle" font-weight="normal" fill="#222"  stroke="#222" stroke-width="0.16">10<tspan font-size="4.7" dy="-2.6">3</tspan></text>
<text x="237.90" y="329.90" font-size="6.5" text-anchor="middle" font-weight="normal" fill="#222"  stroke="#222" stroke-width="0.16">10<tspan font-size="4.7" dy="-2.6">4</tspan></text>
<text x="250.90" y="329.90" font-size="6.5" text-anchor="middle" font-weight="normal" fill="#222"  stroke="#222" stroke-width="0.16">10<tspan font-size="4.7" dy="-2.6">5</tspan></text>
</g>
<g>
<clipPath id="c277_269"><rect x="277.00" y="269.30" width="50.00" height="50.60"/></clipPath>
<g clip-path="url(#c277_269)">
<path d="M282.67 287.28C282.85 285.82 284.50 284.31 286.04 282.91C287.57 281.51 290.07 280.02 291.88 278.86C293.69 277.70 295.12 276.59 296.91 275.97C298.70 275.36 300.76 275.01 302.62 275.17C304.48 275.33 307.00 275.81 308.05 276.92C309.11 278.04 309.23 279.91 308.95 281.87C308.67 283.82 307.59 286.79 306.38 288.66C305.16 290.54 303.40 291.89 301.68 293.12C299.96 294.35 297.98 295.73 296.06 296.03C294.13 296.32 291.98 295.61 290.13 294.89C288.28 294.17 286.20 292.96 284.96 291.69C283.72 290.42 282.49 288.74 282.67 287.28Z" fill="rgba(70,70,70,0.052)" stroke="rgb(129,129,129)" stroke-width="0.55"/>
<path d="M283.54 286.76C283.72 285.40 285.17 284.37 286.60 283.17C288.02 281.98 290.34 280.72 292.11 279.57C293.88 278.41 295.51 276.86 297.21 276.25C298.92 275.63 300.74 275.64 302.37 275.88C303.99 276.12 306.03 276.62 306.95 277.70C307.87 278.78 308.14 280.65 307.91 282.37C307.67 284.08 306.53 286.18 305.54 287.99C304.56 289.80 303.55 291.96 302.00 293.21C300.45 294.46 298.10 295.23 296.24 295.48C294.38 295.73 292.62 295.42 290.84 294.72C289.05 294.03 286.75 292.64 285.53 291.32C284.32 289.99 283.36 288.11 283.54 286.76Z" fill="rgba(70,70,70,0.052)" stroke="rgb(120,120,120)" stroke-width="0.60"/>
<path d="M284.85 286.99C284.98 285.84 286.19 284.87 287.57 283.79C288.95 282.70 291.50 281.60 293.13 280.47C294.77 279.34 295.91 277.72 297.38 277.02C298.84 276.33 300.38 276.07 301.93 276.31C303.49 276.54 305.80 277.35 306.70 278.43C307.60 279.50 307.71 281.19 307.32 282.77C306.94 284.36 305.46 286.38 304.41 287.94C303.35 289.50 302.36 290.99 300.99 292.15C299.61 293.31 297.76 294.60 296.16 294.90C294.57 295.20 292.97 294.64 291.41 293.94C289.85 293.24 287.90 291.85 286.80 290.69C285.71 289.53 284.72 288.13 284.85 286.99Z" fill="rgba(70,70,70,0.052)" stroke="rgb(112,112,112)" stroke-width="0.65"/>
<path d="M286.66 286.59C286.77 285.61 287.64 284.83 288.71 283.81C289.77 282.79 291.69 281.44 293.05 280.48C294.42 279.52 295.51 278.60 296.90 278.05C298.29 277.50 300.04 276.94 301.39 277.20C302.73 277.45 304.15 278.57 304.97 279.59C305.79 280.61 306.46 281.94 306.31 283.32C306.17 284.70 305.05 286.52 304.09 287.88C303.13 289.24 301.89 290.50 300.56 291.48C299.22 292.47 297.48 293.57 296.07 293.81C294.66 294.04 293.44 293.59 292.10 292.91C290.76 292.23 288.95 290.77 288.04 289.72C287.13 288.67 286.55 287.58 286.66 286.59Z" fill="rgba(70,70,70,0.052)" stroke="rgb(103,103,103)" stroke-width="0.70"/>
<path d="M287.75 286.31C287.94 285.43 289.18 284.84 290.15 284.05C291.13 283.26 292.51 282.35 293.61 281.57C294.70 280.80 295.56 279.90 296.72 279.43C297.88 278.95 299.31 278.60 300.58 278.71C301.84 278.82 303.61 279.33 304.30 280.07C305.00 280.81 305.07 281.98 304.77 283.15C304.47 284.33 303.21 285.96 302.49 287.12C301.77 288.28 301.46 289.24 300.47 290.11C299.48 290.99 297.85 292.11 296.54 292.36C295.23 292.60 293.85 292.09 292.60 291.58C291.35 291.08 289.85 290.21 289.04 289.34C288.24 288.46 287.57 287.19 287.75 286.31Z" fill="rgba(70,70,70,0.052)" stroke="rgb(95,95,95)" stroke-width="0.75"/>
<path d="M289.46 286.10C289.62 285.45 290.47 285.01 291.34 284.32C292.20 283.63 293.73 282.67 294.66 281.96C295.58 281.24 295.93 280.42 296.90 280.03C297.87 279.63 299.44 279.46 300.46 279.59C301.49 279.72 302.57 280.10 303.07 280.83C303.57 281.56 303.67 283.02 303.44 283.99C303.21 284.97 302.31 285.82 301.68 286.69C301.04 287.56 300.47 288.49 299.63 289.22C298.78 289.95 297.63 290.89 296.60 291.08C295.56 291.27 294.43 290.86 293.40 290.38C292.36 289.90 291.03 288.92 290.38 288.20C289.72 287.49 289.30 286.75 289.46 286.10Z" fill="rgba(70,70,70,0.052)" stroke="rgb(86,86,86)" stroke-width="0.79"/>
<path d="M291.38 286.08C291.44 285.55 291.93 284.93 292.53 284.40C293.12 283.86 294.20 283.40 294.95 282.86C295.70 282.32 296.28 281.49 297.03 281.16C297.77 280.83 298.67 280.75 299.43 280.86C300.18 280.97 301.17 281.28 301.58 281.82C302.00 282.37 302.10 283.35 301.92 284.13C301.74 284.92 301.01 285.77 300.50 286.54C299.99 287.31 299.48 288.22 298.86 288.76C298.23 289.29 297.53 289.64 296.75 289.77C295.97 289.90 294.96 289.91 294.19 289.55C293.42 289.18 292.62 288.15 292.15 287.57C291.68 286.99 291.32 286.61 291.38 286.08Z" fill="rgba(70,70,70,0.052)" stroke="rgb(78,78,78)" stroke-width="0.84"/>
<path d="M293.23 285.66C293.21 285.34 293.28 285.24 293.67 284.92C294.06 284.61 295.04 284.15 295.59 283.77C296.14 283.39 296.48 282.92 296.97 282.66C297.46 282.40 298.02 282.17 298.53 282.19C299.04 282.22 299.72 282.42 300.03 282.81C300.33 283.20 300.41 283.95 300.36 284.53C300.32 285.11 300.10 285.74 299.78 286.27C299.46 286.80 298.94 287.35 298.45 287.71C297.97 288.07 297.43 288.30 296.87 288.41C296.32 288.52 295.62 288.62 295.10 288.36C294.59 288.10 294.10 287.30 293.78 286.85C293.47 286.40 293.25 285.98 293.23 285.66Z" fill="rgba(70,70,70,0.052)" stroke="rgb(69,69,69)" stroke-width="0.89"/>
<path d="M294.69 285.44C294.71 285.26 295.14 285.21 295.37 285.06C295.60 284.92 295.82 284.75 296.05 284.57C296.28 284.40 296.48 284.16 296.78 284.00C297.07 283.84 297.48 283.65 297.81 283.63C298.13 283.61 298.56 283.71 298.71 283.89C298.86 284.07 298.79 284.43 298.70 284.70C298.61 284.98 298.32 285.24 298.16 285.54C298.00 285.85 297.99 286.32 297.75 286.53C297.51 286.73 297.01 286.72 296.71 286.77C296.40 286.81 296.18 286.92 295.93 286.82C295.68 286.73 295.42 286.40 295.22 286.17C295.01 285.94 294.66 285.63 294.69 285.44Z" fill="rgba(70,70,70,0.052)" stroke="rgb(61,61,61)" stroke-width="0.94"/>
<ellipse cx="298.00" cy="286.30" rx="1.80" ry="1.44" fill="#fff" opacity="0.85"/>
<path d="M288.26 309.11C288.23 308.06 290.72 306.18 291.89 306.18C293.06 306.18 295.25 308.06 295.29 309.11C295.32 310.16 293.28 312.49 292.11 312.49C290.94 312.49 288.30 310.17 288.26 309.11Z" fill="rgba(70,70,70,0.000)" stroke="rgb(150,150,150)" stroke-width="0.55"/>
<path d="M291.39 309.40C291.38 309.21 291.87 308.68 292.07 308.62C292.27 308.57 292.58 308.91 292.59 309.10C292.60 309.29 292.32 309.71 292.12 309.76C291.92 309.81 291.39 309.59 291.39 309.40Z" fill="rgba(70,70,70,0.000)" stroke="rgb(113,113,113)" stroke-width="0.76"/>
</g>
<line x1="294.50" y1="269.30" x2="299.20" y2="319.90" stroke="#555" stroke-width="0.65" />
<line x1="277.00" y1="300.50" x2="327.00" y2="300.10" stroke="#555" stroke-width="0.65" />
<rect x="277.00" y="269.30" width="50.00" height="50.60" fill="none" stroke="#222" stroke-width="1"/>
<line x1="281.80" y1="319.90" x2="281.80" y2="321.20" stroke="#222" stroke-width="0.7" />
<line x1="288.60" y1="319.90" x2="288.60" y2="321.20" stroke="#222" stroke-width="0.7" />
<line x1="297.40" y1="319.90" x2="297.40" y2="321.20" stroke="#222" stroke-width="0.7" />
<line x1="312.40" y1="319.90" x2="312.40" y2="321.20" stroke="#222" stroke-width="0.7" />
<line x1="325.60" y1="319.90" x2="325.60" y2="321.20" stroke="#222" stroke-width="0.7" />
<rect x="287.40" y="319.70" width="2.4" height="1.6" fill="#111"/>
<line x1="275.70" y1="274.00" x2="277.00" y2="274.00" stroke="#222" stroke-width="0.7" />
<line x1="275.70" y1="286.50" x2="277.00" y2="286.50" stroke="#222" stroke-width="0.7" />
<line x1="275.70" y1="300.50" x2="277.00" y2="300.50" stroke="#222" stroke-width="0.7" />
<line x1="275.70" y1="318.80" x2="277.00" y2="318.80" stroke="#222" stroke-width="0.7" />
<rect x="275.60" y="306.80" width="1.6" height="2.4" fill="#111"/>
<text x="279.20" y="275.70" font-size="5.5" text-anchor="start" font-weight="normal" fill="#222"  stroke="#222" stroke-width="0.16">27.9</text>
<text x="324.80" y="275.70" font-size="5.5" text-anchor="end" font-weight="normal" fill="#222"  stroke="#222" stroke-width="0.16">64.9</text>
<text x="279.20" y="317.90" font-size="5.5" text-anchor="start" font-weight="normal" fill="#222"  stroke="#222" stroke-width="0.16">6.15</text>
<text x="324.80" y="317.90" font-size="5.5" text-anchor="end" font-weight="normal" fill="#222"  stroke="#222" stroke-width="0.16">1.03</text>
<text x="274.80" y="276.30" font-size="6.5" text-anchor="end" font-weight="normal" fill="#222"  stroke="#222" stroke-width="0.16">10<tspan font-size="4.7" dy="-2.6">5</tspan></text>
<text x="274.80" y="288.80" font-size="6.5" text-anchor="end" font-weight="normal" fill="#222"  stroke="#222" stroke-width="0.16">10<tspan font-size="4.7" dy="-2.6">4</tspan></text>
<text x="274.80" y="302.80" font-size="6.5" text-anchor="end" font-weight="normal" fill="#222"  stroke="#222" stroke-width="0.16">10<tspan font-size="4.7" dy="-2.6">3</tspan></text>
<text x="274.80" y="321.10" font-size="6.5" text-anchor="end" font-weight="normal" fill="#222"  stroke="#222" stroke-width="0.16">-10<tspan font-size="4.7" dy="-2.6">3</tspan></text>
<text x="279.60" y="329.90" font-size="6.5" text-anchor="middle" font-weight="normal" fill="#222"  stroke="#222" stroke-width="0.16">-10<tspan font-size="4.7" dy="-2.6">3</tspan></text>
<text x="289.00" y="329.90" font-size="6.5" text-anchor="middle" font-weight="normal" fill="#222"  stroke="#222" stroke-width="0.16">0</text>
<text x="297.60" y="329.90" font-size="6.5" text-anchor="middle" font-weight="normal" fill="#222"  stroke="#222" stroke-width="0.16">10<tspan font-size="4.7" dy="-2.6">3</tspan></text>
<text x="312.60" y="329.90" font-size="6.5" text-anchor="middle" font-weight="normal" fill="#222"  stroke="#222" stroke-width="0.16">10<tspan font-size="4.7" dy="-2.6">4</tspan></text>
<text x="325.60" y="329.90" font-size="6.5" text-anchor="middle" font-weight="normal" fill="#222"  stroke="#222" stroke-width="0.16">10<tspan font-size="4.7" dy="-2.6">5</tspan></text>
</g>
<g>
<clipPath id="c351_269"><rect x="351.60" y="269.30" width="50.40" height="50.60"/></clipPath>
<g clip-path="url(#c351_269)">
<path d="M360.38 282.65C360.92 280.56 361.85 277.02 362.85 275.22C363.84 273.43 364.87 272.35 366.33 271.89C367.80 271.43 370.55 268.55 371.63 272.44C372.71 276.34 373.27 290.91 372.84 295.27C372.41 299.63 370.41 298.86 369.04 298.60C367.68 298.34 366.23 295.51 364.66 293.70C363.08 291.90 360.31 289.59 359.60 287.74C358.89 285.90 359.84 284.73 360.38 282.65Z" fill="rgba(70,70,70,0.007)" stroke="rgb(150,150,150)" stroke-width="0.55"/>
<path d="M363.08 282.91C363.45 281.59 363.66 279.28 364.21 278.22C364.75 277.16 365.46 276.87 366.35 276.56C367.24 276.24 368.88 273.82 369.56 276.33C370.24 278.83 370.71 288.76 370.42 291.58C370.14 294.41 368.71 293.52 367.84 293.28C366.98 293.03 366.21 291.30 365.23 290.11C364.25 288.92 362.32 287.31 361.96 286.11C361.60 284.91 362.70 284.22 363.08 282.91Z" fill="rgba(70,70,70,0.007)" stroke="rgb(132,132,132)" stroke-width="0.66"/>
<path d="M365.81 284.10C365.90 283.84 365.86 283.23 366.01 282.99C366.16 282.76 366.46 282.75 366.71 282.70C366.97 282.66 367.42 282.18 367.55 282.72C367.68 283.27 367.63 285.40 367.48 285.97C367.34 286.55 366.93 286.22 366.69 286.18C366.46 286.14 366.29 286.00 366.09 285.73C365.88 285.46 365.52 284.85 365.48 284.58C365.43 284.31 365.72 284.37 365.81 284.10Z" fill="rgba(70,70,70,0.007)" stroke="rgb(113,113,113)" stroke-width="0.76"/>
<path d="M369.46 274.37C370.62 271.94 373.18 272.40 375.19 272.40C377.19 272.41 379.77 273.45 381.47 274.40C383.16 275.35 384.61 276.25 385.35 278.09C386.10 279.94 386.36 283.45 385.96 285.48C385.56 287.52 384.34 288.80 382.95 290.29C381.57 291.79 379.40 293.53 377.65 294.47C375.91 295.41 373.78 296.01 372.50 295.93C371.21 295.85 370.67 295.49 369.95 293.99C369.24 292.50 368.29 290.22 368.21 286.95C368.13 283.68 368.29 276.79 369.46 274.37Z" fill="rgba(70,70,70,0.060)" stroke="rgb(122,122,122)" stroke-width="0.55"/>
<path d="M369.83 274.67C370.84 272.25 373.62 272.83 375.60 272.87C377.59 272.91 380.20 274.02 381.73 274.92C383.26 275.83 384.18 276.53 384.80 278.31C385.42 280.09 385.93 283.60 385.47 285.58C385.00 287.56 383.32 288.90 382.03 290.19C380.73 291.47 379.24 292.46 377.70 293.31C376.16 294.15 373.97 295.21 372.76 295.28C371.54 295.34 370.93 295.03 370.40 293.72C369.87 292.41 369.66 290.59 369.57 287.42C369.47 284.24 368.82 277.10 369.83 274.67Z" fill="rgba(70,70,70,0.060)" stroke="rgb(112,112,112)" stroke-width="0.61"/>
<path d="M370.46 275.27C371.38 273.19 374.03 273.97 375.85 274.00C377.66 274.02 380.01 274.51 381.38 275.40C382.75 276.29 383.62 277.77 384.07 279.33C384.52 280.88 384.41 283.02 384.07 284.73C383.73 286.44 383.14 288.31 382.03 289.58C380.91 290.86 378.79 291.62 377.37 292.38C375.95 293.13 374.63 294.06 373.51 294.11C372.38 294.16 371.15 293.93 370.62 292.66C370.09 291.39 370.34 289.40 370.31 286.50C370.29 283.60 369.54 277.36 370.46 275.27Z" fill="rgba(70,70,70,0.060)" stroke="rgb(102,102,102)" stroke-width="0.66"/>
<path d="M371.31 276.42C372.16 274.56 374.64 274.88 376.24 274.87C377.84 274.86 379.63 275.61 380.91 276.35C382.18 277.09 383.41 277.85 383.89 279.32C384.37 280.78 384.21 283.65 383.79 285.13C383.37 286.62 382.37 287.11 381.34 288.23C380.32 289.34 378.86 291.03 377.62 291.81C376.39 292.58 374.96 292.93 373.93 292.88C372.91 292.83 371.96 292.65 371.50 291.51C371.03 290.37 371.19 288.56 371.16 286.04C371.13 283.53 370.46 278.28 371.31 276.42Z" fill="rgba(70,70,70,0.060)" stroke="rgb(92,92,92)" stroke-width="0.72"/>
<path d="M372.46 277.72C373.11 276.14 374.80 276.35 376.04 276.35C377.28 276.34 378.80 277.02 379.92 277.70C381.05 278.37 382.36 279.22 382.80 280.38C383.24 281.54 382.89 283.44 382.58 284.66C382.27 285.89 381.73 286.78 380.91 287.72C380.10 288.65 378.82 289.64 377.70 290.28C376.57 290.91 375.08 291.50 374.17 291.53C373.25 291.56 372.57 291.43 372.23 290.48C371.90 289.53 372.11 287.96 372.15 285.83C372.19 283.71 371.82 279.30 372.46 277.72Z" fill="rgba(70,70,70,0.060)" stroke="rgb(83,83,83)" stroke-width="0.78"/>
<path d="M373.22 278.74C373.82 277.35 375.56 277.42 376.65 277.35C377.73 277.29 378.85 277.76 379.74 278.34C380.63 278.92 381.64 279.82 382.00 280.84C382.35 281.85 382.15 283.37 381.88 284.44C381.62 285.51 381.14 286.47 380.42 287.26C379.70 288.06 378.45 288.71 377.57 289.21C376.70 289.71 375.88 290.28 375.18 290.25C374.49 290.22 373.76 289.80 373.40 289.04C373.05 288.28 373.09 287.40 373.06 285.68C373.03 283.96 372.62 280.12 373.22 278.74Z" fill="rgba(70,70,70,0.060)" stroke="rgb(73,73,73)" stroke-width="0.83"/>
<path d="M374.21 279.42C374.67 278.39 375.66 278.49 376.54 278.56C377.42 278.63 378.78 279.38 379.46 279.85C380.14 280.32 380.36 280.68 380.60 281.36C380.85 282.04 381.11 283.11 380.93 283.91C380.75 284.70 380.08 285.51 379.50 286.12C378.93 286.74 378.13 287.20 377.46 287.60C376.78 287.99 375.99 288.43 375.44 288.49C374.89 288.55 374.45 288.56 374.17 287.94C373.89 287.31 373.76 286.16 373.77 284.74C373.77 283.32 373.74 280.45 374.21 279.42Z" fill="rgba(70,70,70,0.060)" stroke="rgb(63,63,63)" stroke-width="0.89"/>
<path d="M375.58 280.62C375.96 279.93 376.68 280.10 377.21 280.08C377.74 280.07 378.34 280.23 378.77 280.52C379.21 280.82 379.65 281.26 379.83 281.85C380.01 282.44 379.95 283.51 379.85 284.06C379.75 284.61 379.60 284.73 379.22 285.14C378.85 285.55 378.11 286.23 377.61 286.51C377.10 286.79 376.61 286.82 376.21 286.82C375.81 286.82 375.43 286.94 375.22 286.51C375.01 286.07 374.90 285.20 374.96 284.22C375.02 283.24 375.21 281.31 375.58 280.62Z" fill="rgba(70,70,70,0.060)" stroke="rgb(53,53,53)" stroke-width="0.94"/>
<path d="M376.31 282.03C376.49 281.65 377.08 281.52 377.37 281.54C377.66 281.55 377.80 281.94 378.03 282.13C378.27 282.31 378.65 282.37 378.78 282.64C378.90 282.90 378.89 283.46 378.80 283.72C378.71 283.97 378.41 283.96 378.23 284.17C378.04 284.37 377.89 284.78 377.69 284.96C377.48 285.13 377.17 285.21 376.98 285.24C376.79 285.26 376.65 285.35 376.54 285.11C376.43 284.87 376.35 284.31 376.31 283.79C376.27 283.28 376.14 282.41 376.31 282.03Z" fill="rgba(70,70,70,0.060)" stroke="rgb(43,43,43)" stroke-width="1.00"/>
<ellipse cx="377.60" cy="284.30" rx="2.00" ry="1.60" fill="#fff" opacity="0.85"/>
<path d="M360.58 307.43C361.40 306.74 362.90 305.39 364.30 304.74C365.71 304.09 368.08 303.28 369.03 303.55C369.97 303.81 370.34 305.26 369.97 306.35C369.60 307.43 368.09 309.18 366.81 310.04C365.53 310.90 363.52 311.70 362.29 311.51C361.06 311.32 359.70 309.57 359.41 308.89C359.13 308.21 359.77 308.12 360.58 307.43Z" fill="rgba(70,70,70,0.000)" stroke="rgb(150,150,150)" stroke-width="0.55"/>
<path d="M364.14 307.94C364.23 307.81 364.20 307.33 364.41 307.22C364.62 307.11 365.22 307.21 365.41 307.27C365.61 307.34 365.68 307.50 365.57 307.62C365.45 307.73 364.93 307.85 364.72 307.96C364.52 308.08 364.49 308.30 364.35 308.30C364.22 308.30 363.94 308.03 363.91 307.97C363.87 307.91 364.06 308.06 364.14 307.94Z" fill="rgba(70,70,70,0.000)" stroke="rgb(113,113,113)" stroke-width="0.76"/>
</g>
<line x1="370.60" y1="269.30" x2="374.90" y2="319.90" stroke="#555" stroke-width="0.65" />
<line x1="351.60" y1="300.20" x2="402.00" y2="299.90" stroke="#555" stroke-width="0.65" />
<rect x="351.60" y="269.30" width="50.40" height="50.60" fill="none" stroke="#222" stroke-width="1"/>
<line x1="356.40" y1="319.90" x2="356.40" y2="321.20" stroke="#222" stroke-width="0.7" />
<line x1="363.20" y1="319.90" x2="363.20" y2="321.20" stroke="#222" stroke-width="0.7" />
<line x1="372.00" y1="319.90" x2="372.00" y2="321.20" stroke="#222" stroke-width="0.7" />
<line x1="387.00" y1="319.90" x2="387.00" y2="321.20" stroke="#222" stroke-width="0.7" />
<line x1="400.20" y1="319.90" x2="400.20" y2="321.20" stroke="#222" stroke-width="0.7" />
<rect x="362.00" y="319.70" width="2.4" height="1.6" fill="#111"/>
<line x1="350.30" y1="274.00" x2="351.60" y2="274.00" stroke="#222" stroke-width="0.7" />
<line x1="350.30" y1="286.50" x2="351.60" y2="286.50" stroke="#222" stroke-width="0.7" />
<line x1="350.30" y1="300.50" x2="351.60" y2="300.50" stroke="#222" stroke-width="0.7" />
<line x1="350.30" y1="318.80" x2="351.60" y2="318.80" stroke="#222" stroke-width="0.7" />
<rect x="350.20" y="306.80" width="1.6" height="2.4" fill="#111"/>
<text x="353.80" y="275.70" font-size="5.5" text-anchor="start" font-weight="normal" fill="#222"  stroke="#222" stroke-width="0.16">21.4</text>
<text x="399.80" y="275.70" font-size="5.5" text-anchor="end" font-weight="normal" fill="#222"  stroke="#222" stroke-width="0.16">72.6</text>
<text x="353.80" y="317.90" font-size="5.5" text-anchor="start" font-weight="normal" fill="#222"  stroke="#222" stroke-width="0.16">5.08</text>
<text x="399.80" y="317.90" font-size="5.5" text-anchor="end" font-weight="normal" fill="#222"  stroke="#222" stroke-width="0.16">0.88</text>
<text x="349.40" y="276.30" font-size="6.5" text-anchor="end" font-weight="normal" fill="#222"  stroke="#222" stroke-width="0.16">10<tspan font-size="4.7" dy="-2.6">5</tspan></text>
<text x="349.40" y="288.80" font-size="6.5" text-anchor="end" font-weight="normal" fill="#222"  stroke="#222" stroke-width="0.16">10<tspan font-size="4.7" dy="-2.6">4</tspan></text>
<text x="349.40" y="302.80" font-size="6.5" text-anchor="end" font-weight="normal" fill="#222"  stroke="#222" stroke-width="0.16">10<tspan font-size="4.7" dy="-2.6">3</tspan></text>
<text x="349.40" y="321.10" font-size="6.5" text-anchor="end" font-weight="normal" fill="#222"  stroke="#222" stroke-width="0.16">-10<tspan font-size="4.7" dy="-2.6">3</tspan></text>
<text x="354.20" y="329.90" font-size="6.5" text-anchor="middle" font-weight="normal" fill="#222"  stroke="#222" stroke-width="0.16">-10<tspan font-size="4.7" dy="-2.6">3</tspan></text>
<text x="363.60" y="329.90" font-size="6.5" text-anchor="middle" font-weight="normal" fill="#222"  stroke="#222" stroke-width="0.16">0</text>
<text x="372.20" y="329.90" font-size="6.5" text-anchor="middle" font-weight="normal" fill="#222"  stroke="#222" stroke-width="0.16">10<tspan font-size="4.7" dy="-2.6">3</tspan></text>
<text x="387.20" y="329.90" font-size="6.5" text-anchor="middle" font-weight="normal" fill="#222"  stroke="#222" stroke-width="0.16">10<tspan font-size="4.7" dy="-2.6">4</tspan></text>
<text x="400.20" y="329.90" font-size="6.5" text-anchor="middle" font-weight="normal" fill="#222"  stroke="#222" stroke-width="0.16">10<tspan font-size="4.7" dy="-2.6">5</tspan></text>
</g>
<g>
<clipPath id="c426_269"><rect x="426.60" y="269.30" width="50.30" height="50.60"/></clipPath>
<g clip-path="url(#c426_269)">
<path d="M429.24 284.41C429.68 282.12 430.91 279.36 432.52 277.89C434.13 276.42 436.63 276.07 438.91 275.59C441.19 275.11 444.00 274.70 446.21 275.01C448.42 275.32 450.39 276.28 452.15 277.46C453.91 278.65 455.90 280.07 456.78 282.11C457.66 284.15 457.78 287.48 457.45 289.71C457.12 291.94 456.26 293.83 454.79 295.47C453.32 297.10 450.99 298.53 448.63 299.55C446.28 300.56 443.18 301.70 440.67 301.56C438.16 301.42 435.39 300.36 433.59 298.70C431.79 297.04 430.61 293.98 429.89 291.60C429.17 289.22 428.80 286.70 429.24 284.41Z" fill="rgba(70,70,70,0.040)" stroke="rgb(140,140,140)" stroke-width="0.55"/>
<path d="M430.09 284.74C430.45 282.64 431.42 280.30 432.91 278.83C434.40 277.35 436.81 276.49 439.03 275.90C441.26 275.32 444.08 275.01 446.27 275.32C448.45 275.63 450.60 276.52 452.14 277.77C453.67 279.02 454.69 280.92 455.47 282.80C456.26 284.69 457.03 287.15 456.83 289.10C456.62 291.05 455.73 292.93 454.24 294.51C452.75 296.09 450.14 297.56 447.86 298.57C445.58 299.58 442.83 300.79 440.56 300.58C438.30 300.37 435.91 298.84 434.27 297.31C432.64 295.78 431.45 293.50 430.75 291.40C430.05 289.31 429.73 286.84 430.09 284.74Z" fill="rgba(70,70,70,0.040)" stroke="rgb(133,133,133)" stroke-width="0.59"/>
<path d="M431.52 284.77C431.93 282.95 433.08 281.05 434.31 279.74C435.53 278.42 436.94 277.43 438.85 276.87C440.76 276.31 443.80 276.10 445.79 276.38C447.77 276.66 449.27 277.47 450.77 278.55C452.27 279.63 454.02 281.10 454.79 282.87C455.56 284.64 455.73 287.28 455.38 289.17C455.02 291.05 454.00 292.81 452.66 294.20C451.32 295.58 449.36 296.70 447.34 297.47C445.32 298.24 442.64 298.93 440.53 298.84C438.41 298.76 436.13 298.32 434.68 296.97C433.23 295.61 432.35 292.72 431.83 290.69C431.30 288.66 431.11 286.60 431.52 284.77Z" fill="rgba(70,70,70,0.040)" stroke="rgb(126,126,126)" stroke-width="0.62"/>
<path d="M433.01 285.20C433.48 283.53 434.36 281.49 435.41 280.34C436.46 279.20 437.66 278.75 439.32 278.33C440.99 277.92 443.64 277.67 445.42 277.86C447.20 278.06 448.71 278.52 450.03 279.49C451.35 280.45 452.72 282.12 453.35 283.66C453.98 285.21 454.09 287.09 453.81 288.75C453.53 290.42 452.79 292.34 451.67 293.65C450.56 294.96 448.86 295.97 447.14 296.60C445.41 297.24 443.27 297.62 441.34 297.45C439.41 297.29 437.02 296.79 435.56 295.61C434.10 294.42 433.02 292.08 432.59 290.35C432.17 288.61 432.54 286.86 433.01 285.20Z" fill="rgba(70,70,70,0.040)" stroke="rgb(120,120,120)" stroke-width="0.66"/>
<path d="M434.31 285.37C434.59 283.91 434.89 282.31 435.87 281.36C436.86 280.41 438.65 279.97 440.21 279.64C441.76 279.31 443.77 279.13 445.21 279.39C446.65 279.65 447.74 280.40 448.86 281.21C449.97 282.01 451.36 282.97 451.89 284.22C452.41 285.47 452.31 287.32 452.01 288.69C451.72 290.05 450.99 291.36 450.10 292.42C449.21 293.48 448.08 294.39 446.67 295.04C445.25 295.69 443.26 296.44 441.61 296.32C439.95 296.20 437.98 295.38 436.75 294.34C435.51 293.30 434.60 291.59 434.19 290.09C433.79 288.60 434.03 286.82 434.31 285.37Z" fill="rgba(70,70,70,0.040)" stroke="rgb(113,113,113)" stroke-width="0.70"/>
<path d="M435.88 285.65C436.14 284.50 436.38 283.58 437.17 282.76C437.95 281.94 439.38 281.14 440.60 280.74C441.82 280.35 443.28 280.16 444.51 280.40C445.73 280.64 447.05 281.43 447.96 282.16C448.87 282.89 449.57 283.78 449.97 284.78C450.37 285.78 450.50 287.05 450.37 288.17C450.24 289.29 449.99 290.59 449.19 291.49C448.39 292.38 446.80 293.01 445.57 293.55C444.33 294.08 443.05 294.77 441.78 294.70C440.52 294.63 439.00 293.97 437.97 293.13C436.94 292.29 435.97 290.91 435.62 289.67C435.28 288.42 435.63 286.80 435.88 285.65Z" fill="rgba(70,70,70,0.040)" stroke="rgb(107,107,107)" stroke-width="0.74"/>
<path d="M437.07 286.28C437.21 285.41 437.68 284.30 438.35 283.63C439.02 282.97 440.14 282.53 441.10 282.27C442.06 282.02 443.20 281.92 444.10 282.10C445.00 282.28 445.77 282.84 446.51 283.35C447.26 283.85 448.19 284.30 448.56 285.13C448.94 285.95 448.94 287.41 448.77 288.30C448.60 289.19 448.12 289.82 447.54 290.47C446.96 291.12 446.25 291.78 445.30 292.18C444.35 292.58 442.93 292.91 441.82 292.87C440.72 292.83 439.38 292.61 438.67 291.95C437.95 291.29 437.80 289.83 437.54 288.89C437.27 287.94 436.94 287.16 437.07 286.28Z" fill="rgba(70,70,70,0.040)" stroke="rgb(100,100,100)" stroke-width="0.78"/>
<path d="M438.94 286.61C439.08 286.03 439.32 285.11 439.73 284.69C440.13 284.27 440.68 284.25 441.36 284.09C442.04 283.92 443.13 283.63 443.80 283.71C444.48 283.78 444.97 284.18 445.41 284.55C445.85 284.92 446.21 285.37 446.43 285.91C446.64 286.45 446.82 287.19 446.70 287.81C446.59 288.44 446.15 289.20 445.76 289.66C445.37 290.12 444.97 290.28 444.37 290.56C443.76 290.84 442.81 291.36 442.12 291.34C441.43 291.31 440.77 290.93 440.22 290.40C439.68 289.87 439.07 288.81 438.86 288.17C438.65 287.54 438.79 287.19 438.94 286.61Z" fill="rgba(70,70,70,0.040)" stroke="rgb(94,94,94)" stroke-width="0.81"/>
<path d="M440.45 286.66C440.51 286.28 440.75 285.94 441.03 285.76C441.32 285.58 441.77 285.62 442.16 285.59C442.55 285.56 443.06 285.51 443.38 285.57C443.69 285.63 443.86 285.77 444.05 285.95C444.25 286.13 444.44 286.38 444.55 286.66C444.66 286.94 444.77 287.31 444.73 287.64C444.70 287.97 444.57 288.42 444.34 288.66C444.12 288.90 443.70 288.98 443.37 289.09C443.04 289.20 442.70 289.31 442.37 289.31C442.04 289.32 441.68 289.33 441.39 289.12C441.10 288.92 440.77 288.49 440.62 288.08C440.46 287.67 440.38 287.05 440.45 286.66Z" fill="rgba(70,70,70,0.040)" stroke="rgb(87,87,87)" stroke-width="0.85"/>
<ellipse cx="442.60" cy="287.30" rx="2.00" ry="1.60" fill="#fff" opacity="0.85"/>
</g>
<line x1="445.10" y1="269.30" x2="450.40" y2="319.90" stroke="#555" stroke-width="0.65" />
<line x1="426.60" y1="300.20" x2="476.90" y2="299.90" stroke="#555" stroke-width="0.65" />
<rect x="426.60" y="269.30" width="50.30" height="50.60" fill="none" stroke="#222" stroke-width="1"/>
<line x1="431.40" y1="319.90" x2="431.40" y2="321.20" stroke="#222" stroke-width="0.7" />
<line x1="438.20" y1="319.90" x2="438.20" y2="321.20" stroke="#222" stroke-width="0.7" />
<line x1="447.00" y1="319.90" x2="447.00" y2="321.20" stroke="#222" stroke-width="0.7" />
<line x1="462.00" y1="319.90" x2="462.00" y2="321.20" stroke="#222" stroke-width="0.7" />
<line x1="475.20" y1="319.90" x2="475.20" y2="321.20" stroke="#222" stroke-width="0.7" />
<rect x="437.00" y="319.70" width="2.4" height="1.6" fill="#111"/>
<line x1="425.30" y1="274.00" x2="426.60" y2="274.00" stroke="#222" stroke-width="0.7" />
<line x1="425.30" y1="286.50" x2="426.60" y2="286.50" stroke="#222" stroke-width="0.7" />
<line x1="425.30" y1="300.50" x2="426.60" y2="300.50" stroke="#222" stroke-width="0.7" />
<line x1="425.30" y1="318.80" x2="426.60" y2="318.80" stroke="#222" stroke-width="0.7" />
<rect x="425.20" y="306.80" width="1.6" height="2.4" fill="#111"/>
<text x="428.80" y="275.70" font-size="5.5" text-anchor="start" font-weight="normal" fill="#222"  stroke="#222" stroke-width="0.16">60.9</text>
<text x="474.70" y="275.70" font-size="5.5" text-anchor="end" font-weight="normal" fill="#222"  stroke="#222" stroke-width="0.16">33.4</text>
<text x="428.80" y="317.90" font-size="5.5" text-anchor="start" font-weight="normal" fill="#222"  stroke="#222" stroke-width="0.16">3.71</text>
<text x="474.70" y="317.90" font-size="5.5" text-anchor="end" font-weight="normal" fill="#222"  stroke="#222" stroke-width="0.16">2.02</text>
<text x="424.40" y="276.30" font-size="6.5" text-anchor="end" font-weight="normal" fill="#222"  stroke="#222" stroke-width="0.16">10<tspan font-size="4.7" dy="-2.6">5</tspan></text>
<text x="424.40" y="288.80" font-size="6.5" text-anchor="end" font-weight="normal" fill="#222"  stroke="#222" stroke-width="0.16">10<tspan font-size="4.7" dy="-2.6">4</tspan></text>
<text x="424.40" y="302.80" font-size="6.5" text-anchor="end" font-weight="normal" fill="#222"  stroke="#222" stroke-width="0.16">10<tspan font-size="4.7" dy="-2.6">3</tspan></text>
<text x="424.40" y="321.10" font-size="6.5" text-anchor="end" font-weight="normal" fill="#222"  stroke="#222" stroke-width="0.16">-10<tspan font-size="4.7" dy="-2.6">3</tspan></text>
<text x="429.20" y="329.90" font-size="6.5" text-anchor="middle" font-weight="normal" fill="#222"  stroke="#222" stroke-width="0.16">-10<tspan font-size="4.7" dy="-2.6">3</tspan></text>
<text x="438.60" y="329.90" font-size="6.5" text-anchor="middle" font-weight="normal" fill="#222"  stroke="#222" stroke-width="0.16">0</text>
<text x="447.20" y="329.90" font-size="6.5" text-anchor="middle" font-weight="normal" fill="#222"  stroke="#222" stroke-width="0.16">10<tspan font-size="4.7" dy="-2.6">3</tspan></text>
<text x="462.20" y="329.90" font-size="6.5" text-anchor="middle" font-weight="normal" fill="#222"  stroke="#222" stroke-width="0.16">10<tspan font-size="4.7" dy="-2.6">4</tspan></text>
<text x="475.20" y="329.90" font-size="6.5" text-anchor="middle" font-weight="normal" fill="#222"  stroke="#222" stroke-width="0.16">10<tspan font-size="4.7" dy="-2.6">5</tspan></text>
</g>
<text x="75.90" y="193.80" font-size="8.4" text-anchor="middle" font-weight="normal" fill="#1a1a1a"  stroke="#1a1a1a" stroke-width="0.16">Media</text>
<text x="152.50" y="183.35" font-size="8.4" text-anchor="middle" font-weight="normal" fill="#1a1a1a"  stroke="#1a1a1a" stroke-width="0.16">IL-25</text>
<text x="152.50" y="193.80" font-size="8.4" text-anchor="middle" font-weight="normal" fill="#1a1a1a"  stroke="#1a1a1a" stroke-width="0.16">IL-33</text>
<text x="228.20" y="183.35" font-size="8.4" text-anchor="middle" font-weight="normal" fill="#1a1a1a"  stroke="#1a1a1a" stroke-width="0.16">IL-25</text>
<text x="228.20" y="193.80" font-size="8.4" text-anchor="middle" font-weight="normal" fill="#1a1a1a"  stroke="#1a1a1a" stroke-width="0.16">TSLP</text>
<text x="302.20" y="183.35" font-size="8.4" text-anchor="middle" font-weight="normal" fill="#1a1a1a"  stroke="#1a1a1a" stroke-width="0.16">IL-33</text>
<text x="302.20" y="193.80" font-size="8.4" text-anchor="middle" font-weight="normal" fill="#1a1a1a"  stroke="#1a1a1a" stroke-width="0.16">TSLP</text>
<text x="377.00" y="172.90" font-size="8.4" text-anchor="middle" font-weight="normal" fill="#1a1a1a"  stroke="#1a1a1a" stroke-width="0.16">IL-25</text>
<text x="377.00" y="183.35" font-size="8.4" text-anchor="middle" font-weight="normal" fill="#1a1a1a"  stroke="#1a1a1a" stroke-width="0.16">IL-33</text>
<text x="377.00" y="193.80" font-size="8.4" text-anchor="middle" font-weight="normal" fill="#1a1a1a"  stroke="#1a1a1a" stroke-width="0.16">TSLP</text>
<text x="451.30" y="162.45" font-size="8.4" text-anchor="middle" font-weight="normal" fill="#1a1a1a"  stroke="#1a1a1a" stroke-width="0.16">IL-2</text>
<text x="451.30" y="172.90" font-size="8.4" text-anchor="middle" font-weight="normal" fill="#1a1a1a"  stroke="#1a1a1a" stroke-width="0.16">IL-25</text>
<text x="451.30" y="183.35" font-size="8.4" text-anchor="middle" font-weight="normal" fill="#1a1a1a"  stroke="#1a1a1a" stroke-width="0.16">IL-33</text>
<text x="451.30" y="193.80" font-size="8.4" text-anchor="middle" font-weight="normal" fill="#1a1a1a"  stroke="#1a1a1a" stroke-width="0.16">TSLP</text>
<text x="482.30" y="228.40" font-size="6.5" text-anchor="start" font-weight="normal" fill="#222"  stroke="#222" stroke-width="0.16">IMDM</text>
<text x="481.60" y="297.00" font-size="6.5" text-anchor="start" font-weight="normal" fill="#222"  stroke="#222" stroke-width="0.16">SFEM II</text>
<line x1="28.50" y1="294.00" x2="28.50" y2="331.00" stroke="#111" stroke-width="1.5" />
<path d="M28.5 288.6L31.3 296L25.7 296Z" fill="#111"/>
<line x1="36.80" y1="335.00" x2="82.00" y2="335.00" stroke="#111" stroke-width="1.5" />
<path d="M88.2 335L80.6 332.1L80.6 337.9Z" fill="#111"/>
<text transform="translate(23.2 312.6) rotate(-90)" font-size="9.4" text-anchor="middle" font-weight="bold" fill="#222" stroke="#222" stroke-width="0.3" textLength="14.2" lengthAdjust="spacingAndGlyphs">CD117</text>
<text x="59.3" y="345.0" font-size="9.6" text-anchor="middle" font-weight="bold" fill="#222" stroke="#222" stroke-width="0.3" textLength="15.8" lengthAdjust="spacingAndGlyphs">CD161</text>
<rect x="0.5" y="0.5" width="519" height="526" fill="none" stroke="#000" stroke-width="1.2"/>
</svg></body></html>
